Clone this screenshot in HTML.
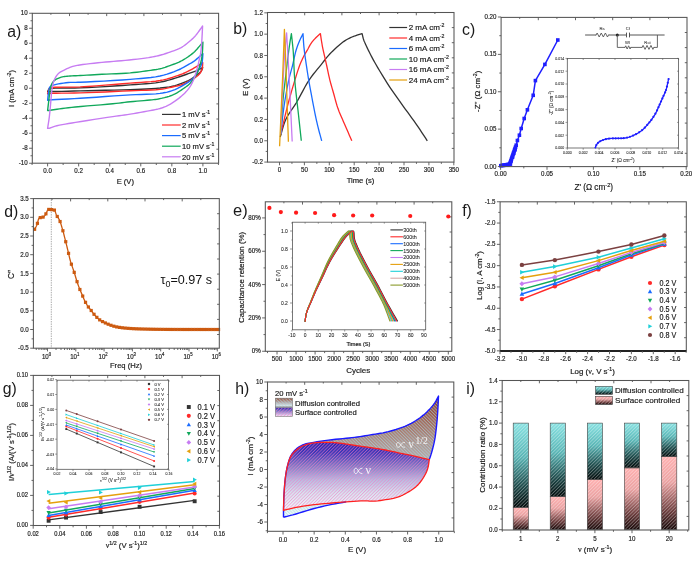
<!DOCTYPE html>
<html><head><meta charset="utf-8"><style>
html,body{margin:0;padding:0;background:#fff;}
svg{display:block;font-family:"Liberation Sans",sans-serif;will-change:transform;}
</style></head><body>
<svg width="700" height="562" viewBox="0 0 700 562">
<rect width="700" height="562" fill="#fff"/>
<path d="M47.6,91.62 L47.84,91.17 L48.06,90.68 L48.28,90.2 L48.53,89.74 L48.81,89.33 L49.15,89 L49.54,88.76 L49.96,88.59 L50.41,88.48 L50.93,88.4 L51.54,88.33 L52.26,88.25 L55.2,88.05 L59.2,87.98 L63.98,87.99 L69.26,88.02 L74.76,88 L80.21,87.88 L87.86,87.55 L96.29,87.11 L105.12,86.59 L113.97,86.02 L122.46,85.44 L130.22,84.88 L135.73,84.49 L141.03,84.15 L146.12,83.79 L150.98,83.38 L155.62,82.86 L160.04,82.17 L163.34,81.49 L166.53,80.7 L169.58,79.85 L172.47,78.96 L175.2,78.1 L177.74,77.3 L179.42,76.77 L180.98,76.25 L182.45,75.75 L183.87,75.24 L185.29,74.74 L186.75,74.22 L188.24,73.71 L189.75,73.21 L191.25,72.7 L192.74,72.18 L194.19,71.64 L195.6,71.08 L196.85,70.53 L198.05,69.96 L199.23,69.38 L200.4,68.79 L201.57,68.21 L202.74,67.62 L202.74,67.62 L202.46,68.29 L202.2,68.96 L201.94,69.64 L201.66,70.3 L201.31,70.96 L200.88,71.6 L200.2,72.38 L199.39,73.14 L198.49,73.89 L197.54,74.62 L196.56,75.33 L195.6,76.03 L194.62,76.73 L193.61,77.43 L192.59,78.11 L191.54,78.77 L190.48,79.4 L189.39,80 L188.25,80.58 L187.1,81.11 L185.92,81.63 L184.72,82.12 L183.5,82.6 L182.25,83.08 L180.86,83.6 L179.45,84.13 L178.01,84.64 L176.53,85.13 L175,85.58 L173.39,86 L171.4,86.44 L169.36,86.82 L167.24,87.16 L165,87.47 L162.61,87.75 L160.04,88.03 L155.85,88.39 L151.26,88.7 L146.35,88.95 L141.17,89.18 L135.77,89.39 L130.22,89.6 L122.49,89.87 L114.07,90.1 L105.28,90.31 L96.48,90.51 L88.01,90.69 L80.21,90.88 L74.15,91.03 L67.85,91.19 L61.76,91.34 L56.31,91.47 L51.96,91.57 L49.15,91.62 L48.78,91.63 L48.49,91.63 L48.25,91.63 L48.04,91.63 L47.84,91.63 L47.6,91.62 Z" fill="none" stroke="#333333" stroke-width="1.4" stroke-linejoin="round"/>
<path d="M47.6,93.88 L47.75,93.3 L47.9,92.72 L48.05,92.14 L48.21,91.57 L48.36,91.02 L48.53,90.5 L48.66,90.08 L48.77,89.66 L48.89,89.25 L49.03,88.87 L49.22,88.53 L49.46,88.25 L49.79,88.02 L50.15,87.86 L50.56,87.75 L51.03,87.66 L51.6,87.59 L52.26,87.5 L55.14,87.27 L59.12,87.18 L63.91,87.16 L69.22,87.15 L74.75,87.08 L80.21,86.9 L87.86,86.46 L96.29,85.86 L105.12,85.17 L113.97,84.43 L122.46,83.72 L130.22,83.08 L135.73,82.68 L141.03,82.36 L146.11,82.04 L150.98,81.67 L155.63,81.19 L160.04,80.53 L163.35,79.85 L166.53,79.07 L169.58,78.21 L172.48,77.32 L175.2,76.43 L177.74,75.58 L179.43,74.99 L181,74.42 L182.47,73.85 L183.89,73.26 L185.3,72.64 L186.75,71.97 L188.26,71.23 L189.76,70.44 L191.26,69.61 L192.74,68.77 L194.19,67.93 L195.6,67.1 L196.84,66.36 L198.05,65.62 L199.23,64.89 L200.4,64.15 L201.56,63.41 L202.74,62.67 L202.74,62.67 L202.66,63.7 L202.61,64.74 L202.55,65.78 L202.47,66.81 L202.33,67.8 L202.12,68.75 L201.87,69.58 L201.58,70.37 L201.24,71.15 L200.86,71.9 L200.43,72.62 L199.95,73.33 L199.36,74.05 L198.7,74.75 L197.98,75.42 L197.22,76.06 L196.42,76.69 L195.6,77.3 L194.66,77.95 L193.66,78.57 L192.62,79.16 L191.55,79.74 L190.47,80.32 L189.39,80.9 L188.25,81.53 L187.09,82.17 L185.92,82.8 L184.73,83.41 L183.51,83.99 L182.25,84.5 L180.86,84.97 L179.46,85.38 L178.02,85.73 L176.53,86.07 L174.99,86.4 L173.39,86.75 L171.39,87.21 L169.35,87.68 L167.23,88.15 L165,88.6 L162.61,89.02 L160.04,89.38 L155.85,89.78 L151.27,90.06 L146.36,90.26 L141.17,90.42 L135.77,90.59 L130.22,90.8 L122.49,91.15 L114.06,91.53 L105.28,91.93 L96.48,92.3 L88.01,92.63 L80.21,92.9 L74.15,93.03 L67.85,93.11 L61.76,93.15 L56.31,93.21 L51.96,93.31 L49.15,93.5 L48.78,93.56 L48.48,93.62 L48.25,93.68 L48.04,93.75 L47.84,93.81 L47.6,93.88 Z" fill="none" stroke="#ff2a2a" stroke-width="1.4" stroke-linejoin="round"/>
<path d="M47.6,100.25 L47.75,98.99 L47.89,97.71 L48.02,96.43 L48.17,95.17 L48.34,93.94 L48.53,92.75 L48.69,91.7 L48.82,90.63 L48.97,89.58 L49.18,88.6 L49.48,87.72 L49.93,86.97 L50.45,86.45 L51.06,86.04 L51.74,85.71 L52.51,85.43 L53.36,85.16 L54.28,84.88 L56.16,84.37 L58.41,83.9 L60.89,83.48 L63.48,83.11 L66.03,82.8 L68.41,82.55 L70.34,82.41 L72.11,82.35 L73.86,82.34 L75.71,82.34 L77.79,82.32 L80.21,82.25 L86.7,81.96 L94.8,81.56 L103.86,81.08 L113.23,80.53 L122.23,79.94 L130.22,79.33 L135.72,78.89 L140.99,78.48 L146.05,78.05 L150.91,77.53 L155.57,76.88 L160.04,76.03 L163.62,75.14 L167.11,74.11 L170.47,72.99 L173.66,71.81 L176.61,70.63 L179.29,69.5 L180.95,68.74 L182.47,67.98 L183.87,67.23 L185.21,66.46 L186.52,65.7 L187.84,64.93 L189.07,64.21 L190.28,63.5 L191.48,62.79 L192.64,62.06 L193.76,61.33 L194.82,60.58 L195.74,59.87 L196.61,59.14 L197.46,58.4 L198.27,57.67 L199.05,56.96 L199.79,56.3 L200.35,55.81 L200.88,55.35 L201.39,54.91 L201.89,54.48 L202.39,54.04 L202.9,53.6 L202.9,53.6 L202.83,54.64 L202.76,55.7 L202.69,56.77 L202.62,57.81 L202.53,58.81 L202.43,59.75 L202.36,60.43 L202.3,61.06 L202.23,61.66 L202.14,62.26 L202.01,62.89 L201.81,63.58 L201.41,64.65 L200.89,65.82 L200.28,67.03 L199.61,68.27 L198.92,69.5 L198.24,70.7 L197.55,71.92 L196.83,73.17 L196.1,74.42 L195.33,75.62 L194.55,76.74 L193.74,77.75 L193.06,78.48 L192.38,79.12 L191.69,79.71 L190.96,80.28 L190.2,80.84 L189.39,81.43 L188.33,82.16 L187.19,82.89 L186,83.62 L184.77,84.35 L183.51,85.07 L182.25,85.78 L180.86,86.55 L179.46,87.33 L178.03,88.1 L176.55,88.85 L175.01,89.56 L173.39,90.2 L171.41,90.88 L169.38,91.5 L167.26,92.06 L165.02,92.56 L162.62,93.02 L160.04,93.42 L155.85,93.88 L151.28,94.15 L146.36,94.32 L141.17,94.44 L135.77,94.6 L130.22,94.85 L122.49,95.34 L114.06,95.92 L105.28,96.55 L96.48,97.19 L88.01,97.79 L80.21,98.3 L74.15,98.65 L67.86,98.98 L61.76,99.29 L56.31,99.57 L51.96,99.82 L49.15,100.03 L48.78,100.07 L48.49,100.1 L48.25,100.14 L48.04,100.18 L47.84,100.21 L47.6,100.25 Z" fill="none" stroke="#1a6cff" stroke-width="1.4" stroke-linejoin="round"/>
<path d="M47.6,110.53 L47.75,109.24 L47.9,107.96 L48.06,106.68 L48.21,105.4 L48.37,104.08 L48.53,102.72 L48.72,101.12 L48.91,99.44 L49.11,97.73 L49.31,96.03 L49.53,94.35 L49.77,92.75 L49.98,91.36 L50.18,89.98 L50.38,88.62 L50.62,87.31 L50.93,86.08 L51.33,84.95 L51.7,84.11 L52.11,83.32 L52.55,82.58 L53.05,81.88 L53.62,81.23 L54.28,80.6 L55.22,79.88 L56.31,79.21 L57.51,78.6 L58.77,78.05 L60.03,77.56 L61.27,77.15 L62.41,76.84 L63.55,76.62 L64.7,76.45 L65.88,76.33 L67.11,76.22 L68.41,76.1 L70.16,75.95 L71.99,75.85 L73.9,75.76 L75.9,75.69 L78,75.6 L80.21,75.5 L83.42,75.33 L86.87,75.13 L90.49,74.93 L94.25,74.72 L98.09,74.51 L101.96,74.3 L106.52,74.08 L111.33,73.89 L116.24,73.69 L121.12,73.46 L125.82,73.2 L130.22,72.88 L133.56,72.56 L136.79,72.2 L139.9,71.82 L142.9,71.42 L145.79,71.02 L148.55,70.62 L150.63,70.33 L152.61,70.06 L154.52,69.79 L156.38,69.49 L158.21,69.15 L160.04,68.75 L161.74,68.31 L163.41,67.83 L165.05,67.32 L166.68,66.77 L168.32,66.2 L169.98,65.6 L171.78,64.94 L173.62,64.26 L175.47,63.54 L177.29,62.79 L179.05,62.03 L180.69,61.25 L181.99,60.58 L183.22,59.9 L184.4,59.21 L185.55,58.5 L186.69,57.76 L187.84,56.98 L189.04,56.13 L190.24,55.25 L191.43,54.34 L192.6,53.4 L193.73,52.43 L194.82,51.42 L195.88,50.37 L196.92,49.23 L197.93,48.06 L198.89,46.91 L199.78,45.84 L200.57,44.9 L201.02,44.37 L201.43,43.89 L201.8,43.44 L202.16,43.01 L202.52,42.57 L202.9,42.12 L202.9,42.12 L202.81,44.1 L202.72,46.13 L202.64,48.17 L202.54,50.14 L202.43,52.02 L202.28,53.75 L202.15,54.91 L202.02,55.99 L201.87,57.02 L201.72,58.01 L201.54,58.99 L201.35,59.98 L201.15,60.88 L200.94,61.76 L200.72,62.62 L200.48,63.49 L200.23,64.38 L199.95,65.3 L199.6,66.45 L199.24,67.66 L198.85,68.89 L198.43,70.12 L197.97,71.34 L197.46,72.5 L196.93,73.59 L196.35,74.66 L195.73,75.71 L195.08,76.74 L194.42,77.74 L193.74,78.72 L193.07,79.65 L192.41,80.55 L191.72,81.43 L191,82.29 L190.22,83.14 L189.39,83.97 L188.34,84.92 L187.22,85.84 L186.03,86.74 L184.79,87.63 L183.52,88.51 L182.25,89.38 L180.87,90.31 L179.48,91.25 L178.05,92.18 L176.57,93.07 L175.02,93.92 L173.39,94.7 L171.34,95.53 L169.12,96.3 L166.81,97 L164.48,97.63 L162.2,98.19 L160.04,98.67 L158.35,99.01 L156.76,99.27 L155.2,99.47 L153.62,99.65 L151.94,99.83 L150.1,100.03 L147.17,100.32 L143.93,100.6 L140.5,100.87 L137,101.15 L133.53,101.44 L130.22,101.75 L127.33,102.06 L124.58,102.39 L121.86,102.73 L119.07,103.07 L116.1,103.42 L112.83,103.78 L107.24,104.3 L100.86,104.83 L94.09,105.37 L87.31,105.91 L80.9,106.46 L75.24,107 L71.73,107.38 L68.39,107.77 L65.24,108.15 L62.27,108.53 L59.5,108.9 L56.92,109.25 L55.2,109.5 L53.49,109.76 L51.87,110.02 L50.43,110.25 L49.23,110.43 L48.38,110.53 L48.2,110.54 L48.06,110.54 L47.94,110.54 L47.83,110.53 L47.72,110.53 L47.6,110.53 Z" fill="none" stroke="#10a85a" stroke-width="1.4" stroke-linejoin="round"/>
<path d="M47.6,128.38 L47.89,126.49 L48.19,124.62 L48.48,122.76 L48.77,120.87 L49.05,118.95 L49.31,116.97 L49.57,114.69 L49.81,112.35 L50.04,109.95 L50.26,107.54 L50.48,105.12 L50.71,102.72 L50.92,100.31 L51.11,97.84 L51.31,95.36 L51.52,92.95 L51.78,90.63 L52.1,88.47 L52.38,86.9 L52.67,85.39 L52.98,83.95 L53.34,82.56 L53.77,81.22 L54.28,79.92 L54.83,78.73 L55.45,77.56 L56.12,76.43 L56.85,75.36 L57.63,74.37 L58.47,73.47 L59.31,72.75 L60.2,72.13 L61.15,71.57 L62.13,71.06 L63.16,70.55 L64.22,70.03 L65.54,69.37 L66.94,68.71 L68.41,68.06 L69.89,67.45 L71.35,66.9 L72.76,66.42 L73.9,66.09 L74.97,65.83 L76.03,65.61 L77.14,65.42 L78.36,65.22 L79.75,65 L82.71,64.56 L86.2,64.11 L90.03,63.66 L94.04,63.21 L98.08,62.78 L101.96,62.38 L105.8,62.01 L109.68,61.68 L113.57,61.36 L117.47,61.05 L121.36,60.72 L125.25,60.35 L129.23,59.95 L133.32,59.53 L137.42,59.09 L141.39,58.63 L145.14,58.15 L148.55,57.65 L150.71,57.28 L152.72,56.92 L154.61,56.54 L156.43,56.14 L158.23,55.71 L160.04,55.25 L161.74,54.79 L163.41,54.3 L165.05,53.78 L166.68,53.25 L168.32,52.69 L169.98,52.1 L171.78,51.46 L173.63,50.81 L175.49,50.12 L177.31,49.41 L179.06,48.64 L180.69,47.83 L182,47.07 L183.24,46.28 L184.42,45.46 L185.56,44.6 L186.69,43.71 L187.84,42.8 L189.05,41.81 L190.26,40.78 L191.46,39.72 L192.64,38.64 L193.76,37.54 L194.82,36.42 L195.75,35.36 L196.65,34.26 L197.5,33.14 L198.3,32.04 L199.07,30.97 L199.79,29.98 L200.31,29.26 L200.79,28.58 L201.25,27.93 L201.69,27.29 L202.13,26.65 L202.59,26 L202.59,26 L202.44,28.92 L202.3,31.91 L202.16,34.89 L202.01,37.82 L201.84,40.62 L201.66,43.25 L201.5,45.18 L201.35,47.05 L201.18,48.84 L201,50.55 L200.8,52.19 L200.57,53.75 L200.36,54.9 L200.13,55.99 L199.88,57.03 L199.63,58.04 L199.39,59.02 L199.17,59.97 L199.01,60.75 L198.86,61.48 L198.72,62.19 L198.58,62.9 L198.42,63.63 L198.24,64.4 L198,65.38 L197.73,66.41 L197.45,67.46 L197.15,68.53 L196.84,69.62 L196.53,70.7 L196.2,71.88 L195.85,73.09 L195.5,74.31 L195.13,75.53 L194.75,76.7 L194.36,77.83 L194,78.76 L193.63,79.66 L193.25,80.54 L192.85,81.4 L192.45,82.24 L192.03,83.08 L191.63,83.85 L191.22,84.61 L190.81,85.35 L190.37,86.09 L189.9,86.83 L189.39,87.58 L188.75,88.45 L188.06,89.34 L187.33,90.23 L186.56,91.12 L185.74,92.01 L184.89,92.9 L183.83,93.94 L182.7,95 L181.52,96.06 L180.29,97.1 L179.03,98.13 L177.74,99.12 L176.35,100.16 L174.91,101.19 L173.43,102.19 L171.92,103.16 L170.41,104.07 L168.89,104.9 L167.45,105.62 L166,106.29 L164.54,106.91 L163.06,107.48 L161.56,108.01 L160.04,108.5 L158.47,108.94 L156.91,109.31 L155.34,109.63 L153.7,109.94 L151.96,110.25 L150.1,110.6 L147.17,111.16 L143.93,111.76 L140.51,112.38 L137.01,112.99 L133.54,113.58 L130.22,114.12 L127.33,114.57 L124.58,114.96 L121.86,115.34 L119.07,115.72 L116.09,116.13 L112.83,116.6 L107.28,117.43 L100.96,118.38 L94.26,119.4 L87.55,120.44 L81.18,121.45 L75.55,122.38 L71.98,122.97 L68.56,123.53 L65.32,124.07 L62.28,124.61 L59.47,125.17 L56.92,125.75 L55.35,126.18 L53.85,126.67 L52.45,127.16 L51.18,127.61 L50.07,127.98 L49.15,128.22 L48.83,128.28 L48.55,128.32 L48.31,128.34 L48.08,128.35 L47.85,128.36 L47.6,128.38 Z" fill="none" stroke="#c77cf2" stroke-width="1.4" stroke-linejoin="round"/>
<rect x="32.3" y="13.3" width="186.3" height="149.9" fill="none" stroke="#555555" stroke-width="1.05"/>
<line x1="50.9" y1="13.3" x2="50.9" y2="14.8" stroke="#555555" stroke-width="0.9" />
<line x1="69.5" y1="13.3" x2="69.5" y2="16.1" stroke="#555555" stroke-width="0.9" />
<line x1="88.1" y1="13.3" x2="88.1" y2="14.8" stroke="#555555" stroke-width="0.9" />
<line x1="106.7" y1="13.3" x2="106.7" y2="16.1" stroke="#555555" stroke-width="0.9" />
<line x1="125.3" y1="13.3" x2="125.3" y2="14.8" stroke="#555555" stroke-width="0.9" />
<line x1="143.9" y1="13.3" x2="143.9" y2="16.1" stroke="#555555" stroke-width="0.9" />
<line x1="162.5" y1="13.3" x2="162.5" y2="14.8" stroke="#555555" stroke-width="0.9" />
<line x1="181.1" y1="13.3" x2="181.1" y2="16.1" stroke="#555555" stroke-width="0.9" />
<line x1="199.7" y1="13.3" x2="199.7" y2="14.8" stroke="#555555" stroke-width="0.9" />
<line x1="216.4" y1="28.4" x2="218.6" y2="28.4" stroke="#555555" stroke-width="0.9" />
<line x1="216.4" y1="43.5" x2="218.6" y2="43.5" stroke="#555555" stroke-width="0.9" />
<line x1="216.4" y1="58.6" x2="218.6" y2="58.6" stroke="#555555" stroke-width="0.9" />
<line x1="216.4" y1="73.7" x2="218.6" y2="73.7" stroke="#555555" stroke-width="0.9" />
<line x1="216.4" y1="88.8" x2="218.6" y2="88.8" stroke="#555555" stroke-width="0.9" />
<line x1="216.4" y1="103.9" x2="218.6" y2="103.9" stroke="#555555" stroke-width="0.9" />
<line x1="216.4" y1="119" x2="218.6" y2="119" stroke="#555555" stroke-width="0.9" />
<line x1="216.4" y1="134.1" x2="218.6" y2="134.1" stroke="#555555" stroke-width="0.9" />
<line x1="216.4" y1="149.2" x2="218.6" y2="149.2" stroke="#555555" stroke-width="0.9" />
<line x1="29.1" y1="163.25" x2="32.3" y2="163.25" stroke="#555555" stroke-width="0.9" />
<line x1="29.1" y1="148.25" x2="32.3" y2="148.25" stroke="#555555" stroke-width="0.9" />
<line x1="29.1" y1="133.25" x2="32.3" y2="133.25" stroke="#555555" stroke-width="0.9" />
<line x1="29.1" y1="118.25" x2="32.3" y2="118.25" stroke="#555555" stroke-width="0.9" />
<line x1="29.1" y1="103.25" x2="32.3" y2="103.25" stroke="#555555" stroke-width="0.9" />
<line x1="29.1" y1="88.25" x2="32.3" y2="88.25" stroke="#555555" stroke-width="0.9" />
<line x1="29.1" y1="73.25" x2="32.3" y2="73.25" stroke="#555555" stroke-width="0.9" />
<line x1="29.1" y1="58.25" x2="32.3" y2="58.25" stroke="#555555" stroke-width="0.9" />
<line x1="29.1" y1="43.25" x2="32.3" y2="43.25" stroke="#555555" stroke-width="0.9" />
<line x1="29.1" y1="28.25" x2="32.3" y2="28.25" stroke="#555555" stroke-width="0.9" />
<line x1="29.1" y1="13.25" x2="32.3" y2="13.25" stroke="#555555" stroke-width="0.9" />
<line x1="30.5" y1="155.75" x2="32.3" y2="155.75" stroke="#555555" stroke-width="0.9" />
<line x1="30.5" y1="140.75" x2="32.3" y2="140.75" stroke="#555555" stroke-width="0.9" />
<line x1="30.5" y1="125.75" x2="32.3" y2="125.75" stroke="#555555" stroke-width="0.9" />
<line x1="30.5" y1="110.75" x2="32.3" y2="110.75" stroke="#555555" stroke-width="0.9" />
<line x1="30.5" y1="95.75" x2="32.3" y2="95.75" stroke="#555555" stroke-width="0.9" />
<line x1="30.5" y1="80.75" x2="32.3" y2="80.75" stroke="#555555" stroke-width="0.9" />
<line x1="30.5" y1="65.75" x2="32.3" y2="65.75" stroke="#555555" stroke-width="0.9" />
<line x1="30.5" y1="50.75" x2="32.3" y2="50.75" stroke="#555555" stroke-width="0.9" />
<line x1="30.5" y1="35.75" x2="32.3" y2="35.75" stroke="#555555" stroke-width="0.9" />
<line x1="30.5" y1="20.75" x2="32.3" y2="20.75" stroke="#555555" stroke-width="0.9" />
<line x1="47.6" y1="163.2" x2="47.6" y2="166.4" stroke="#555555" stroke-width="0.9" />
<line x1="78.66" y1="163.2" x2="78.66" y2="166.4" stroke="#555555" stroke-width="0.9" />
<line x1="109.72" y1="163.2" x2="109.72" y2="166.4" stroke="#555555" stroke-width="0.9" />
<line x1="140.78" y1="163.2" x2="140.78" y2="166.4" stroke="#555555" stroke-width="0.9" />
<line x1="171.84" y1="163.2" x2="171.84" y2="166.4" stroke="#555555" stroke-width="0.9" />
<line x1="202.9" y1="163.2" x2="202.9" y2="166.4" stroke="#555555" stroke-width="0.9" />
<line x1="32.07" y1="163.2" x2="32.07" y2="165" stroke="#555555" stroke-width="0.9" />
<line x1="63.13" y1="163.2" x2="63.13" y2="165" stroke="#555555" stroke-width="0.9" />
<line x1="94.19" y1="163.2" x2="94.19" y2="165" stroke="#555555" stroke-width="0.9" />
<line x1="125.25" y1="163.2" x2="125.25" y2="165" stroke="#555555" stroke-width="0.9" />
<line x1="156.31" y1="163.2" x2="156.31" y2="165" stroke="#555555" stroke-width="0.9" />
<line x1="187.37" y1="163.2" x2="187.37" y2="165" stroke="#555555" stroke-width="0.9" />
<line x1="218.43" y1="163.2" x2="218.43" y2="165" stroke="#555555" stroke-width="0.9" />
<text style="stroke:#1a1a1a;stroke-width:0.18px" transform="translate(27.7 165.25) scale(0.85 1)" font-size="7.3" text-anchor="end" fill="#1a1a1a" >-10</text>
<text style="stroke:#1a1a1a;stroke-width:0.18px" transform="translate(27.7 150.25) scale(0.85 1)" font-size="7.3" text-anchor="end" fill="#1a1a1a" >-8</text>
<text style="stroke:#1a1a1a;stroke-width:0.18px" transform="translate(27.7 135.25) scale(0.85 1)" font-size="7.3" text-anchor="end" fill="#1a1a1a" >-6</text>
<text style="stroke:#1a1a1a;stroke-width:0.18px" transform="translate(27.7 120.25) scale(0.85 1)" font-size="7.3" text-anchor="end" fill="#1a1a1a" >-4</text>
<text style="stroke:#1a1a1a;stroke-width:0.18px" transform="translate(27.7 105.25) scale(0.85 1)" font-size="7.3" text-anchor="end" fill="#1a1a1a" >-2</text>
<text style="stroke:#1a1a1a;stroke-width:0.18px" transform="translate(27.7 90.25) scale(0.85 1)" font-size="7.3" text-anchor="end" fill="#1a1a1a" >0</text>
<text style="stroke:#1a1a1a;stroke-width:0.18px" transform="translate(27.7 75.25) scale(0.85 1)" font-size="7.3" text-anchor="end" fill="#1a1a1a" >2</text>
<text style="stroke:#1a1a1a;stroke-width:0.18px" transform="translate(27.7 60.25) scale(0.85 1)" font-size="7.3" text-anchor="end" fill="#1a1a1a" >4</text>
<text style="stroke:#1a1a1a;stroke-width:0.18px" transform="translate(27.7 45.25) scale(0.85 1)" font-size="7.3" text-anchor="end" fill="#1a1a1a" >6</text>
<text style="stroke:#1a1a1a;stroke-width:0.18px" transform="translate(27.7 30.25) scale(0.85 1)" font-size="7.3" text-anchor="end" fill="#1a1a1a" >8</text>
<text style="stroke:#1a1a1a;stroke-width:0.18px" transform="translate(27.7 15.25) scale(0.85 1)" font-size="7.3" text-anchor="end" fill="#1a1a1a" >10</text>
<text style="stroke:#1a1a1a;stroke-width:0.18px" transform="translate(47.6 172.6) scale(0.85 1)" font-size="7.3" text-anchor="middle" fill="#1a1a1a" >0.0</text>
<text style="stroke:#1a1a1a;stroke-width:0.18px" transform="translate(78.66 172.6) scale(0.85 1)" font-size="7.3" text-anchor="middle" fill="#1a1a1a" >0.2</text>
<text style="stroke:#1a1a1a;stroke-width:0.18px" transform="translate(109.72 172.6) scale(0.85 1)" font-size="7.3" text-anchor="middle" fill="#1a1a1a" >0.4</text>
<text style="stroke:#1a1a1a;stroke-width:0.18px" transform="translate(140.78 172.6) scale(0.85 1)" font-size="7.3" text-anchor="middle" fill="#1a1a1a" >0.6</text>
<text style="stroke:#1a1a1a;stroke-width:0.18px" transform="translate(171.84 172.6) scale(0.85 1)" font-size="7.3" text-anchor="middle" fill="#1a1a1a" >0.8</text>
<text style="stroke:#1a1a1a;stroke-width:0.18px" transform="translate(202.9 172.6) scale(0.85 1)" font-size="7.3" text-anchor="middle" fill="#1a1a1a" >1.0</text>
<text style="stroke:#1a1a1a;stroke-width:0.18px" x="125.3" y="183.6" font-size="7.6" text-anchor="middle" fill="#1a1a1a" >E (V)</text>
<text style="stroke:#1a1a1a;stroke-width:0.18px" x="13.8" y="88.5" font-size="7.6" text-anchor="middle" fill="#1a1a1a" transform="rotate(-90 13.8 88.5)">I (mA cm<tspan dy="-2.5" font-size="5.2">-2</tspan><tspan dy="2.5">)</tspan></text>
<text style="stroke:#1a1a1a;stroke-width:0px" x="7.3" y="36.6" font-size="15.8" text-anchor="start" fill="#1a1a1a" >a)</text>
<line x1="162" y1="114.4" x2="180.7" y2="114.4" stroke="#333333" stroke-width="1.2" />
<text style="stroke:#1a1a1a;stroke-width:0.18px" x="182" y="117.2" font-size="7.6" fill="#1a1a1a">1 mV s<tspan dy="-3" font-size="5.2">-1</tspan></text>
<line x1="162" y1="125" x2="180.7" y2="125" stroke="#ff2a2a" stroke-width="1.2" />
<text style="stroke:#1a1a1a;stroke-width:0.18px" x="182" y="127.8" font-size="7.6" fill="#1a1a1a">2 mV s<tspan dy="-3" font-size="5.2">-1</tspan></text>
<line x1="162" y1="135.6" x2="180.7" y2="135.6" stroke="#1a6cff" stroke-width="1.2" />
<text style="stroke:#1a1a1a;stroke-width:0.18px" x="182" y="138.4" font-size="7.6" fill="#1a1a1a">5 mV s<tspan dy="-3" font-size="5.2">-1</tspan></text>
<line x1="162" y1="146.2" x2="180.7" y2="146.2" stroke="#10a85a" stroke-width="1.2" />
<text style="stroke:#1a1a1a;stroke-width:0.18px" x="182" y="149" font-size="7.6" fill="#1a1a1a">10 mV s<tspan dy="-3" font-size="5.2">-1</tspan></text>
<line x1="162" y1="156.8" x2="180.7" y2="156.8" stroke="#c77cf2" stroke-width="1.2" />
<text style="stroke:#1a1a1a;stroke-width:0.18px" x="182" y="159.6" font-size="7.6" fill="#1a1a1a">20 mV s<tspan dy="-3" font-size="5.2">-1</tspan></text>
<path d="M280.2,137 L281.12,133.98 L281.97,130.93 L282.82,127.88 L283.74,124.86 L284.78,121.89 L286,119 L287.45,116.22 L289.07,113.57 L290.82,110.98 L292.65,108.37 L294.49,105.66 L296.3,102.8 L298.41,99.12 L300.56,95.17 L302.74,91.1 L304.94,87.05 L307.16,83.17 L309.4,79.6 L311.32,76.86 L313.28,74.26 L315.25,71.79 L317.21,69.4 L319.14,67.08 L321,64.8 L322.53,62.86 L323.97,61 L325.39,59.18 L326.83,57.39 L328.35,55.6 L330,53.8 L332.08,51.67 L334.35,49.46 L336.72,47.26 L339.1,45.15 L341.43,43.24 L343.6,41.6 L345.06,40.61 L346.45,39.75 L347.8,38.99 L349.16,38.3 L350.55,37.65 L352,37 L353.61,36.35 L355.27,35.76 L356.97,35.21 L358.69,34.68 L360.4,34.15 L362.1,33.6 L362.1,33.6 L362.34,34.59 L362.57,35.57 L362.8,36.56 L363.04,37.55 L363.3,38.53 L363.6,39.5 L363.94,40.47 L364.3,41.41 L364.69,42.36 L365.11,43.31 L365.54,44.28 L366,45.3 L366.59,46.58 L367.21,47.9 L367.87,49.25 L368.55,50.64 L369.27,52.06 L370,53.5 L370.86,55.18 L371.73,56.86 L372.64,58.58 L373.6,60.38 L374.65,62.27 L375.8,64.3 L377.73,67.62 L379.91,71.29 L382.27,75.18 L384.72,79.16 L387.19,83.08 L389.6,86.8 L391.85,90.17 L394.14,93.48 L396.44,96.74 L398.74,99.95 L401.03,103.14 L403.3,106.3 L405.45,109.28 L407.6,112.21 L409.74,115.12 L411.86,118.01 L413.95,120.9 L416,123.8 L417.94,126.63 L419.84,129.47 L421.71,132.3 L423.57,135.13 L425.43,137.97 L427.3,140.8" fill="none" stroke="#333333" stroke-width="1.3" stroke-linejoin="round"/>
<path d="M280.7,134 L281.12,132.27 L281.54,130.58 L281.95,128.9 L282.38,127.17 L282.82,125.35 L283.3,123.4 L283.99,120.53 L284.71,117.45 L285.47,114.2 L286.27,110.84 L287.12,107.43 L288,104 L289.09,99.98 L290.27,95.74 L291.51,91.43 L292.76,87.17 L293.97,83.12 L295.1,79.4 L295.88,76.84 L296.63,74.4 L297.35,72.08 L298.08,69.86 L298.82,67.7 L299.6,65.6 L300.3,63.83 L301.03,62.1 L301.77,60.43 L302.51,58.82 L303.26,57.27 L304,55.8 L304.6,54.67 L305.2,53.62 L305.81,52.6 L306.41,51.61 L307.01,50.62 L307.6,49.6 L308.18,48.54 L308.73,47.47 L309.29,46.4 L309.86,45.34 L310.45,44.3 L311.1,43.3 L311.78,42.36 L312.5,41.44 L313.25,40.55 L314.03,39.68 L314.81,38.83 L315.6,38 L316.37,37.23 L317.17,36.48 L317.97,35.76 L318.78,35.04 L319.59,34.33 L320.4,33.6 L320.4,33.6 L320.58,34.84 L320.76,36.08 L320.94,37.32 L321.12,38.56 L321.31,39.79 L321.5,41 L321.68,42.12 L321.86,43.18 L322.04,44.24 L322.23,45.34 L322.45,46.51 L322.7,47.8 L323.18,50.08 L323.75,52.64 L324.37,55.38 L325.03,58.22 L325.68,61.06 L326.3,63.8 L326.88,66.49 L327.45,69.19 L328.02,71.9 L328.59,74.59 L329.18,77.23 L329.8,79.8 L330.38,82.07 L330.98,84.26 L331.59,86.42 L332.22,88.57 L332.85,90.75 L333.5,93 L334.2,95.53 L334.89,98.12 L335.6,100.75 L336.34,103.38 L337.13,106.01 L338,108.6 L338.97,111.18 L340.01,113.74 L341.1,116.29 L342.23,118.84 L343.37,121.4 L344.5,124 L345.69,126.76 L346.9,129.55 L348.12,132.36 L349.35,135.17 L350.58,137.99 L351.8,140.8" fill="none" stroke="#ff2a2a" stroke-width="1.3" stroke-linejoin="round"/>
<path d="M280.7,134 L280.99,131.34 L281.28,128.7 L281.57,126.06 L281.86,123.4 L282.17,120.72 L282.5,118 L282.87,115.07 L283.25,112.12 L283.64,109.14 L284.06,106.12 L284.51,103.08 L285,100 L285.57,96.59 L286.19,93.07 L286.84,89.52 L287.52,86 L288.21,82.6 L288.9,79.4 L289.48,76.94 L290.08,74.61 L290.69,72.36 L291.3,70.14 L291.91,67.91 L292.5,65.6 L293.09,63.09 L293.65,60.49 L294.21,57.88 L294.77,55.3 L295.36,52.82 L296,50.5 L296.56,48.71 L297.14,46.99 L297.74,45.34 L298.35,43.75 L298.97,42.2 L299.6,40.7 L300.15,39.45 L300.71,38.27 L301.28,37.12 L301.86,35.98 L302.43,34.85 L303,33.7 L303,33.7 L303.15,36.02 L303.29,38.32 L303.43,40.61 L303.58,42.93 L303.77,45.32 L304,47.8 L304.36,50.93 L304.79,54.26 L305.26,57.67 L305.76,61.07 L306.24,64.35 L306.7,67.4 L307.03,69.64 L307.35,71.73 L307.67,73.74 L307.99,75.74 L308.33,77.8 L308.7,80 L309.19,82.82 L309.72,85.77 L310.28,88.8 L310.85,91.88 L311.43,94.96 L312,98 L312.57,101.04 L313.15,104.11 L313.74,107.19 L314.32,110.22 L314.91,113.17 L315.5,116 L316,118.3 L316.49,120.52 L316.98,122.68 L317.47,124.8 L317.98,126.9 L318.5,129 L319.01,131 L319.54,132.98 L320.08,134.94 L320.62,136.89 L321.16,138.84 L321.7,140.8" fill="none" stroke="#1a6cff" stroke-width="1.3" stroke-linejoin="round"/>
<path d="M280.7,134 L281.07,128.23 L281.44,122.35 L281.8,116.47 L282.18,110.7 L282.57,105.17 L283,100 L283.35,96.28 L283.72,92.79 L284.11,89.44 L284.5,86.15 L284.9,82.83 L285.3,79.4 L285.74,75.61 L286.19,71.69 L286.66,67.75 L287.12,63.87 L287.57,60.15 L288,56.7 L288.31,54.24 L288.61,51.89 L288.91,49.64 L289.2,47.47 L289.5,45.37 L289.8,43.3 L290.06,41.59 L290.33,39.95 L290.6,38.35 L290.86,36.77 L291.13,35.2 L291.4,33.6 L291.4,33.6 L291.55,34.99 L291.7,36.37 L291.85,37.75 L292,39.14 L292.15,40.55 L292.3,42 L292.47,43.59 L292.64,45.14 L292.81,46.73 L292.97,48.4 L293.14,50.2 L293.3,52.2 L293.53,55.93 L293.72,60.15 L293.9,64.74 L294.11,69.56 L294.36,74.49 L294.7,79.4 L295.22,85.23 L295.85,91.37 L296.54,97.64 L297.26,103.9 L297.96,109.98 L298.6,115.7 L299.08,120.15 L299.54,124.41 L299.98,128.54 L300.42,132.6 L300.86,136.67 L301.3,140.8" fill="none" stroke="#10a85a" stroke-width="1.3" stroke-linejoin="round"/>
<path d="M280.7,134 L281.01,126.97 L281.32,119.9 L281.64,112.83 L281.95,105.8 L282.27,98.85 L282.6,92 L282.91,85.59 L283.23,79.14 L283.55,72.76 L283.88,66.55 L284.23,60.59 L284.6,55 L284.91,50.97 L285.24,47.18 L285.58,43.55 L285.92,39.99 L286.26,36.43 L286.6,32.8 L286.6,32.8 L286.87,37.29 L287.13,41.74 L287.4,46.19 L287.67,50.68 L287.93,55.27 L288.2,60 L288.5,65.52 L288.8,71.16 L289.09,76.91 L289.39,82.8 L289.69,88.83 L290,95 L290.36,102.37 L290.72,110.01 L291.09,117.84 L291.46,125.76 L291.83,133.67 L292.2,141.5" fill="none" stroke="#c77cf2" stroke-width="1.3" stroke-linejoin="round"/>
<path d="M279.6,146.2 L279.87,140.19 L280.13,134.2 L280.4,128.21 L280.67,122.2 L280.93,116.14 L281.2,110 L281.48,103.45 L281.77,96.83 L282.06,90.14 L282.35,83.43 L282.63,76.71 L282.9,70 L283.16,63.25 L283.42,56.49 L283.66,49.72 L283.91,42.94 L284.15,36.17 L284.4,29.4 L284.4,29.4 L284.62,34.45 L284.84,39.45 L285.06,44.44 L285.28,49.5 L285.49,54.66 L285.7,60 L285.93,66.35 L286.15,72.9 L286.36,79.61 L286.57,86.4 L286.78,93.22 L287,100 L287.23,106.91 L287.46,113.87 L287.7,120.84 L287.93,127.83 L288.17,134.82 L288.4,141.8" fill="none" stroke="#e5a00d" stroke-width="1.3" stroke-linejoin="round"/>
<rect x="267.5" y="12.5" width="186.5" height="149.6" fill="none" stroke="#555555" stroke-width="1.05"/>
<line x1="286.1" y1="12.5" x2="286.1" y2="14" stroke="#555555" stroke-width="0.9" />
<line x1="304.7" y1="12.5" x2="304.7" y2="15.3" stroke="#555555" stroke-width="0.9" />
<line x1="323.3" y1="12.5" x2="323.3" y2="14" stroke="#555555" stroke-width="0.9" />
<line x1="341.9" y1="12.5" x2="341.9" y2="15.3" stroke="#555555" stroke-width="0.9" />
<line x1="360.5" y1="12.5" x2="360.5" y2="14" stroke="#555555" stroke-width="0.9" />
<line x1="379.1" y1="12.5" x2="379.1" y2="15.3" stroke="#555555" stroke-width="0.9" />
<line x1="397.7" y1="12.5" x2="397.7" y2="14" stroke="#555555" stroke-width="0.9" />
<line x1="416.3" y1="12.5" x2="416.3" y2="15.3" stroke="#555555" stroke-width="0.9" />
<line x1="434.9" y1="12.5" x2="434.9" y2="14" stroke="#555555" stroke-width="0.9" />
<line x1="451.8" y1="27.6" x2="454" y2="27.6" stroke="#555555" stroke-width="0.9" />
<line x1="451.8" y1="42.7" x2="454" y2="42.7" stroke="#555555" stroke-width="0.9" />
<line x1="451.8" y1="57.8" x2="454" y2="57.8" stroke="#555555" stroke-width="0.9" />
<line x1="451.8" y1="72.9" x2="454" y2="72.9" stroke="#555555" stroke-width="0.9" />
<line x1="451.8" y1="88" x2="454" y2="88" stroke="#555555" stroke-width="0.9" />
<line x1="451.8" y1="103.1" x2="454" y2="103.1" stroke="#555555" stroke-width="0.9" />
<line x1="451.8" y1="118.2" x2="454" y2="118.2" stroke="#555555" stroke-width="0.9" />
<line x1="451.8" y1="133.3" x2="454" y2="133.3" stroke="#555555" stroke-width="0.9" />
<line x1="451.8" y1="148.4" x2="454" y2="148.4" stroke="#555555" stroke-width="0.9" />
<line x1="264.3" y1="162.07" x2="267.5" y2="162.07" stroke="#555555" stroke-width="0.9" />
<line x1="264.3" y1="140.75" x2="267.5" y2="140.75" stroke="#555555" stroke-width="0.9" />
<line x1="264.3" y1="119.43" x2="267.5" y2="119.43" stroke="#555555" stroke-width="0.9" />
<line x1="264.3" y1="98.11" x2="267.5" y2="98.11" stroke="#555555" stroke-width="0.9" />
<line x1="264.3" y1="76.79" x2="267.5" y2="76.79" stroke="#555555" stroke-width="0.9" />
<line x1="264.3" y1="55.47" x2="267.5" y2="55.47" stroke="#555555" stroke-width="0.9" />
<line x1="264.3" y1="34.15" x2="267.5" y2="34.15" stroke="#555555" stroke-width="0.9" />
<line x1="264.3" y1="12.83" x2="267.5" y2="12.83" stroke="#555555" stroke-width="0.9" />
<line x1="265.7" y1="151.41" x2="267.5" y2="151.41" stroke="#555555" stroke-width="0.9" />
<line x1="265.7" y1="130.09" x2="267.5" y2="130.09" stroke="#555555" stroke-width="0.9" />
<line x1="265.7" y1="108.77" x2="267.5" y2="108.77" stroke="#555555" stroke-width="0.9" />
<line x1="265.7" y1="87.45" x2="267.5" y2="87.45" stroke="#555555" stroke-width="0.9" />
<line x1="265.7" y1="66.13" x2="267.5" y2="66.13" stroke="#555555" stroke-width="0.9" />
<line x1="265.7" y1="44.81" x2="267.5" y2="44.81" stroke="#555555" stroke-width="0.9" />
<line x1="265.7" y1="23.49" x2="267.5" y2="23.49" stroke="#555555" stroke-width="0.9" />
<line x1="279.5" y1="162.1" x2="279.5" y2="165.3" stroke="#555555" stroke-width="0.9" />
<line x1="304.4" y1="162.1" x2="304.4" y2="165.3" stroke="#555555" stroke-width="0.9" />
<line x1="329.3" y1="162.1" x2="329.3" y2="165.3" stroke="#555555" stroke-width="0.9" />
<line x1="354.2" y1="162.1" x2="354.2" y2="165.3" stroke="#555555" stroke-width="0.9" />
<line x1="379.1" y1="162.1" x2="379.1" y2="165.3" stroke="#555555" stroke-width="0.9" />
<line x1="404" y1="162.1" x2="404" y2="165.3" stroke="#555555" stroke-width="0.9" />
<line x1="428.9" y1="162.1" x2="428.9" y2="165.3" stroke="#555555" stroke-width="0.9" />
<line x1="453.8" y1="162.1" x2="453.8" y2="165.3" stroke="#555555" stroke-width="0.9" />
<line x1="291.95" y1="162.1" x2="291.95" y2="163.9" stroke="#555555" stroke-width="0.9" />
<line x1="316.85" y1="162.1" x2="316.85" y2="163.9" stroke="#555555" stroke-width="0.9" />
<line x1="341.75" y1="162.1" x2="341.75" y2="163.9" stroke="#555555" stroke-width="0.9" />
<line x1="366.65" y1="162.1" x2="366.65" y2="163.9" stroke="#555555" stroke-width="0.9" />
<line x1="391.55" y1="162.1" x2="391.55" y2="163.9" stroke="#555555" stroke-width="0.9" />
<line x1="416.45" y1="162.1" x2="416.45" y2="163.9" stroke="#555555" stroke-width="0.9" />
<line x1="441.35" y1="162.1" x2="441.35" y2="163.9" stroke="#555555" stroke-width="0.9" />
<text style="stroke:#1a1a1a;stroke-width:0.18px" transform="translate(262.9 164.17) scale(0.85 1)" font-size="7.3" text-anchor="end" fill="#1a1a1a" >-0.2</text>
<text style="stroke:#1a1a1a;stroke-width:0.18px" transform="translate(262.9 142.85) scale(0.85 1)" font-size="7.3" text-anchor="end" fill="#1a1a1a" >0.0</text>
<text style="stroke:#1a1a1a;stroke-width:0.18px" transform="translate(262.9 121.53) scale(0.85 1)" font-size="7.3" text-anchor="end" fill="#1a1a1a" >0.2</text>
<text style="stroke:#1a1a1a;stroke-width:0.18px" transform="translate(262.9 100.21) scale(0.85 1)" font-size="7.3" text-anchor="end" fill="#1a1a1a" >0.4</text>
<text style="stroke:#1a1a1a;stroke-width:0.18px" transform="translate(262.9 78.89) scale(0.85 1)" font-size="7.3" text-anchor="end" fill="#1a1a1a" >0.6</text>
<text style="stroke:#1a1a1a;stroke-width:0.18px" transform="translate(262.9 57.57) scale(0.85 1)" font-size="7.3" text-anchor="end" fill="#1a1a1a" >0.8</text>
<text style="stroke:#1a1a1a;stroke-width:0.18px" transform="translate(262.9 36.25) scale(0.85 1)" font-size="7.3" text-anchor="end" fill="#1a1a1a" >1.0</text>
<text style="stroke:#1a1a1a;stroke-width:0.18px" transform="translate(262.9 14.93) scale(0.85 1)" font-size="7.3" text-anchor="end" fill="#1a1a1a" >1.2</text>
<text style="stroke:#1a1a1a;stroke-width:0.18px" transform="translate(279.5 171.7) scale(0.85 1)" font-size="7.3" text-anchor="middle" fill="#1a1a1a" >0</text>
<text style="stroke:#1a1a1a;stroke-width:0.18px" transform="translate(304.4 171.7) scale(0.85 1)" font-size="7.3" text-anchor="middle" fill="#1a1a1a" >50</text>
<text style="stroke:#1a1a1a;stroke-width:0.18px" transform="translate(329.3 171.7) scale(0.85 1)" font-size="7.3" text-anchor="middle" fill="#1a1a1a" >100</text>
<text style="stroke:#1a1a1a;stroke-width:0.18px" transform="translate(354.2 171.7) scale(0.85 1)" font-size="7.3" text-anchor="middle" fill="#1a1a1a" >150</text>
<text style="stroke:#1a1a1a;stroke-width:0.18px" transform="translate(379.1 171.7) scale(0.85 1)" font-size="7.3" text-anchor="middle" fill="#1a1a1a" >200</text>
<text style="stroke:#1a1a1a;stroke-width:0.18px" transform="translate(404 171.7) scale(0.85 1)" font-size="7.3" text-anchor="middle" fill="#1a1a1a" >250</text>
<text style="stroke:#1a1a1a;stroke-width:0.18px" transform="translate(428.9 171.7) scale(0.85 1)" font-size="7.3" text-anchor="middle" fill="#1a1a1a" >300</text>
<text style="stroke:#1a1a1a;stroke-width:0.18px" transform="translate(453.8 171.7) scale(0.85 1)" font-size="7.3" text-anchor="middle" fill="#1a1a1a" >350</text>
<text style="stroke:#1a1a1a;stroke-width:0.18px" x="360.5" y="183" font-size="7.6" text-anchor="middle" fill="#1a1a1a" >Time (s)</text>
<text style="stroke:#1a1a1a;stroke-width:0.18px" x="248.1" y="87.2" font-size="7.6" text-anchor="middle" fill="#1a1a1a" transform="rotate(-90 248.1 87.2)">E (V)</text>
<text style="stroke:#1a1a1a;stroke-width:0px" x="233.3" y="34.4" font-size="15.8" text-anchor="start" fill="#1a1a1a" >b)</text>
<line x1="389.3" y1="27.5" x2="407.1" y2="27.5" stroke="#333333" stroke-width="1.2" />
<text style="stroke:#1a1a1a;stroke-width:0.18px" x="408.7" y="30.3" font-size="8.0" fill="#1a1a1a">2 mA cm<tspan dy="-3" font-size="5.2">-2</tspan></text>
<line x1="389.3" y1="38" x2="407.1" y2="38" stroke="#ff2a2a" stroke-width="1.2" />
<text style="stroke:#1a1a1a;stroke-width:0.18px" x="408.7" y="40.8" font-size="8.0" fill="#1a1a1a">4 mA cm<tspan dy="-3" font-size="5.2">-2</tspan></text>
<line x1="389.3" y1="48.5" x2="407.1" y2="48.5" stroke="#1a6cff" stroke-width="1.2" />
<text style="stroke:#1a1a1a;stroke-width:0.18px" x="408.7" y="51.3" font-size="8.0" fill="#1a1a1a">6 mA cm<tspan dy="-3" font-size="5.2">-2</tspan></text>
<line x1="389.3" y1="59" x2="407.1" y2="59" stroke="#10a85a" stroke-width="1.2" />
<text style="stroke:#1a1a1a;stroke-width:0.18px" x="408.7" y="61.8" font-size="8.0" fill="#1a1a1a">10 mA cm<tspan dy="-3" font-size="5.2">-2</tspan></text>
<line x1="389.3" y1="69.5" x2="407.1" y2="69.5" stroke="#c77cf2" stroke-width="1.2" />
<text style="stroke:#1a1a1a;stroke-width:0.18px" x="408.7" y="72.3" font-size="8.0" fill="#1a1a1a">16 mA cm<tspan dy="-3" font-size="5.2">-2</tspan></text>
<line x1="389.3" y1="80" x2="407.1" y2="80" stroke="#e5a00d" stroke-width="1.2" />
<text style="stroke:#1a1a1a;stroke-width:0.18px" x="408.7" y="82.8" font-size="8.0" fill="#1a1a1a">24 mA cm<tspan dy="-3" font-size="5.2">-2</tspan></text>
<polyline points="557.8,40 544.9,64.4 535.4,80.6 533.2,95.3 527.4,109.8 524.2,118.5 521.2,128.5 519.4,135.2 517.4,140.5 516.2,145.2 515,149.7 513.7,153.4 512.5,157.2 511.2,160.9 510,163.4 507.5,164.7 503.7,165.4 500.5,165.9" fill="none" stroke="#1f1fff" stroke-width="1.5" stroke-linejoin="round" stroke-linecap="round" />
<rect x="556" y="38.2" width="3.6" height="3.6" fill="#1f1fff"/>
<rect x="543.1" y="62.6" width="3.6" height="3.6" fill="#1f1fff"/>
<rect x="533.6" y="78.8" width="3.6" height="3.6" fill="#1f1fff"/>
<rect x="531.4" y="93.5" width="3.6" height="3.6" fill="#1f1fff"/>
<rect x="525.6" y="108" width="3.6" height="3.6" fill="#1f1fff"/>
<rect x="522.4" y="116.7" width="3.6" height="3.6" fill="#1f1fff"/>
<rect x="519.4" y="126.7" width="3.6" height="3.6" fill="#1f1fff"/>
<rect x="517.6" y="133.4" width="3.6" height="3.6" fill="#1f1fff"/>
<rect x="515.6" y="138.7" width="3.6" height="3.6" fill="#1f1fff"/>
<rect x="514.4" y="143.4" width="3.6" height="3.6" fill="#1f1fff"/>
<rect x="513.2" y="147.9" width="3.6" height="3.6" fill="#1f1fff"/>
<rect x="511.9" y="151.6" width="3.6" height="3.6" fill="#1f1fff"/>
<rect x="510.7" y="155.4" width="3.6" height="3.6" fill="#1f1fff"/>
<rect x="509.4" y="159.1" width="3.6" height="3.6" fill="#1f1fff"/>
<rect x="508.2" y="161.6" width="3.6" height="3.6" fill="#1f1fff"/>
<rect x="505.7" y="162.9" width="3.6" height="3.6" fill="#1f1fff"/>
<rect x="501.9" y="163.6" width="3.6" height="3.6" fill="#1f1fff"/>
<rect x="508.2" y="161.6" width="3.6" height="3.6" fill="#1f1fff"/>
<rect x="508.71" y="160.11" width="3.6" height="3.6" fill="#1f1fff"/>
<rect x="509.21" y="158.62" width="3.6" height="3.6" fill="#1f1fff"/>
<rect x="509.72" y="157.13" width="3.6" height="3.6" fill="#1f1fff"/>
<rect x="510.23" y="155.64" width="3.6" height="3.6" fill="#1f1fff"/>
<rect x="510.74" y="154.15" width="3.6" height="3.6" fill="#1f1fff"/>
<rect x="511.24" y="152.67" width="3.6" height="3.6" fill="#1f1fff"/>
<rect x="511.75" y="151.18" width="3.6" height="3.6" fill="#1f1fff"/>
<rect x="512.26" y="149.69" width="3.6" height="3.6" fill="#1f1fff"/>
<rect x="512.77" y="148.2" width="3.6" height="3.6" fill="#1f1fff"/>
<rect x="513.27" y="146.71" width="3.6" height="3.6" fill="#1f1fff"/>
<rect x="513.78" y="145.22" width="3.6" height="3.6" fill="#1f1fff"/>
<rect x="499" y="163.9" width="3.6" height="3.6" fill="#1f1fff"/>
<rect x="500.2" y="163.7" width="3.6" height="3.6" fill="#1f1fff"/>
<rect x="501.4" y="163.5" width="3.6" height="3.6" fill="#1f1fff"/>
<rect x="502.6" y="163.3" width="3.6" height="3.6" fill="#1f1fff"/>
<rect x="503.8" y="163.1" width="3.6" height="3.6" fill="#1f1fff"/>
<rect x="505" y="162.9" width="3.6" height="3.6" fill="#1f1fff"/>
<rect x="506.2" y="162.7" width="3.6" height="3.6" fill="#1f1fff"/>
<rect x="507.4" y="162.5" width="3.6" height="3.6" fill="#1f1fff"/>
<rect x="508.6" y="162.3" width="3.6" height="3.6" fill="#1f1fff"/>
<rect x="501.1" y="17.4" width="185.9" height="149.2" fill="none" stroke="#555555" stroke-width="1.05"/>
<line x1="519.7" y1="17.4" x2="519.7" y2="18.9" stroke="#555555" stroke-width="0.9" />
<line x1="538.3" y1="17.4" x2="538.3" y2="20.2" stroke="#555555" stroke-width="0.9" />
<line x1="556.9" y1="17.4" x2="556.9" y2="18.9" stroke="#555555" stroke-width="0.9" />
<line x1="575.5" y1="17.4" x2="575.5" y2="20.2" stroke="#555555" stroke-width="0.9" />
<line x1="594.1" y1="17.4" x2="594.1" y2="18.9" stroke="#555555" stroke-width="0.9" />
<line x1="612.7" y1="17.4" x2="612.7" y2="20.2" stroke="#555555" stroke-width="0.9" />
<line x1="631.3" y1="17.4" x2="631.3" y2="18.9" stroke="#555555" stroke-width="0.9" />
<line x1="649.9" y1="17.4" x2="649.9" y2="20.2" stroke="#555555" stroke-width="0.9" />
<line x1="668.5" y1="17.4" x2="668.5" y2="18.9" stroke="#555555" stroke-width="0.9" />
<line x1="684.8" y1="32.5" x2="687" y2="32.5" stroke="#555555" stroke-width="0.9" />
<line x1="684.8" y1="47.6" x2="687" y2="47.6" stroke="#555555" stroke-width="0.9" />
<line x1="684.8" y1="62.7" x2="687" y2="62.7" stroke="#555555" stroke-width="0.9" />
<line x1="684.8" y1="77.8" x2="687" y2="77.8" stroke="#555555" stroke-width="0.9" />
<line x1="684.8" y1="92.9" x2="687" y2="92.9" stroke="#555555" stroke-width="0.9" />
<line x1="684.8" y1="108" x2="687" y2="108" stroke="#555555" stroke-width="0.9" />
<line x1="684.8" y1="123.1" x2="687" y2="123.1" stroke="#555555" stroke-width="0.9" />
<line x1="684.8" y1="138.2" x2="687" y2="138.2" stroke="#555555" stroke-width="0.9" />
<line x1="684.8" y1="153.3" x2="687" y2="153.3" stroke="#555555" stroke-width="0.9" />
<line x1="497.9" y1="166.5" x2="501.1" y2="166.5" stroke="#555555" stroke-width="0.9" />
<line x1="497.9" y1="129.12" x2="501.1" y2="129.12" stroke="#555555" stroke-width="0.9" />
<line x1="497.9" y1="91.75" x2="501.1" y2="91.75" stroke="#555555" stroke-width="0.9" />
<line x1="497.9" y1="54.38" x2="501.1" y2="54.38" stroke="#555555" stroke-width="0.9" />
<line x1="497.9" y1="17" x2="501.1" y2="17" stroke="#555555" stroke-width="0.9" />
<line x1="499.3" y1="147.81" x2="501.1" y2="147.81" stroke="#555555" stroke-width="0.9" />
<line x1="499.3" y1="110.44" x2="501.1" y2="110.44" stroke="#555555" stroke-width="0.9" />
<line x1="499.3" y1="73.06" x2="501.1" y2="73.06" stroke="#555555" stroke-width="0.9" />
<line x1="499.3" y1="35.69" x2="501.1" y2="35.69" stroke="#555555" stroke-width="0.9" />
<line x1="500.6" y1="166.6" x2="500.6" y2="169.8" stroke="#555555" stroke-width="0.9" />
<line x1="547" y1="166.6" x2="547" y2="169.8" stroke="#555555" stroke-width="0.9" />
<line x1="593.4" y1="166.6" x2="593.4" y2="169.8" stroke="#555555" stroke-width="0.9" />
<line x1="639.8" y1="166.6" x2="639.8" y2="169.8" stroke="#555555" stroke-width="0.9" />
<line x1="686.2" y1="166.6" x2="686.2" y2="169.8" stroke="#555555" stroke-width="0.9" />
<line x1="523.8" y1="166.6" x2="523.8" y2="168.4" stroke="#555555" stroke-width="0.9" />
<line x1="570.2" y1="166.6" x2="570.2" y2="168.4" stroke="#555555" stroke-width="0.9" />
<line x1="616.6" y1="166.6" x2="616.6" y2="168.4" stroke="#555555" stroke-width="0.9" />
<line x1="663" y1="166.6" x2="663" y2="168.4" stroke="#555555" stroke-width="0.9" />
<text style="stroke:#1a1a1a;stroke-width:0.18px" transform="translate(496.5 168.6) scale(0.85 1)" font-size="7.3" text-anchor="end" fill="#1a1a1a" >0.00</text>
<text style="stroke:#1a1a1a;stroke-width:0.18px" transform="translate(496.5 131.22) scale(0.85 1)" font-size="7.3" text-anchor="end" fill="#1a1a1a" >0.05</text>
<text style="stroke:#1a1a1a;stroke-width:0.18px" transform="translate(496.5 93.85) scale(0.85 1)" font-size="7.3" text-anchor="end" fill="#1a1a1a" >0.10</text>
<text style="stroke:#1a1a1a;stroke-width:0.18px" transform="translate(496.5 56.48) scale(0.85 1)" font-size="7.3" text-anchor="end" fill="#1a1a1a" >0.15</text>
<text style="stroke:#1a1a1a;stroke-width:0.18px" transform="translate(496.5 19.1) scale(0.85 1)" font-size="7.3" text-anchor="end" fill="#1a1a1a" >0.20</text>
<text style="stroke:#1a1a1a;stroke-width:0.18px" transform="translate(500.6 176) scale(0.85 1)" font-size="7.3" text-anchor="middle" fill="#1a1a1a" >0.00</text>
<text style="stroke:#1a1a1a;stroke-width:0.18px" transform="translate(547 176) scale(0.85 1)" font-size="7.3" text-anchor="middle" fill="#1a1a1a" >0.05</text>
<text style="stroke:#1a1a1a;stroke-width:0.18px" transform="translate(593.4 176) scale(0.85 1)" font-size="7.3" text-anchor="middle" fill="#1a1a1a" >0.10</text>
<text style="stroke:#1a1a1a;stroke-width:0.18px" transform="translate(639.8 176) scale(0.85 1)" font-size="7.3" text-anchor="middle" fill="#1a1a1a" >0.15</text>
<text style="stroke:#1a1a1a;stroke-width:0.18px" transform="translate(686.2 176) scale(0.85 1)" font-size="7.3" text-anchor="middle" fill="#1a1a1a" >0.20</text>
<text style="stroke:#1a1a1a;stroke-width:0.18px" x="593.7" y="190" font-size="8.2" text-anchor="middle" fill="#1a1a1a">Z' (&#937; cm<tspan dy="-3" font-size="5.6">-2</tspan><tspan dy="3">)</tspan></text>
<text style="stroke:#1a1a1a;stroke-width:0.18px" x="480" y="91.3" font-size="7.9" text-anchor="middle" fill="#1a1a1a" transform="rotate(-90 480 91.3)">-Z'' (&#937; cm<tspan dy="-3" font-size="5.2">-2</tspan><tspan dy="3">)</tspan></text>
<text style="stroke:#1a1a1a;stroke-width:0px" x="462" y="34.5" font-size="15.8" text-anchor="start" fill="#1a1a1a" >c)</text>
<rect x="567.3" y="58.5" width="111.3" height="89.5" fill="#fff" stroke="#555555" stroke-width="0.8"/>
<polyline points="595.4,147.6 595.59,147.09 595.76,146.58 595.93,146.07 596.12,145.56 596.34,145.07 596.6,144.6 596.92,144.13 597.27,143.66 597.66,143.22 598.08,142.79 598.52,142.38 599,142 599.58,141.6 600.19,141.23 600.85,140.89 601.54,140.58 602.26,140.28 603,140 603.91,139.69 604.86,139.42 605.85,139.16 606.88,138.94 607.93,138.76 609,138.6 610.26,138.48 611.58,138.43 612.92,138.42 614.29,138.43 615.65,138.43 617,138.4 618.35,138.36 619.71,138.34 621.08,138.31 622.43,138.25 623.74,138.16 625,138 626.06,137.81 627.08,137.59 628.07,137.34 629.05,137.06 630.02,136.74 631,136.4 632.01,136.01 633.03,135.6 634.03,135.15 635.03,134.66 636.02,134.15 637,133.6 638.03,132.99 639.06,132.34 640.08,131.65 641.09,130.94 642.06,130.18 643,129.4 643.9,128.57 644.77,127.69 645.61,126.77 646.43,125.84 647.22,124.91 648,124 648.71,123.17 649.39,122.36 650.06,121.55 650.71,120.73 651.36,119.88 652,119 652.7,118 653.39,116.95 654.08,115.88 654.75,114.8 655.39,113.7 656,112.6 656.55,111.53 657.05,110.46 657.53,109.39 658,108.29 658.49,107.16 659,106 659.64,104.57 660.32,103.06 661.01,101.52 661.69,99.97 662.36,98.45 663,97 663.54,95.81 664.06,94.67 664.58,93.56 665.08,92.44 665.55,91.26 666,90 666.5,88.32 666.95,86.53 667.37,84.67 667.78,82.77 668.18,80.86 668.6,79" fill="none" stroke="#1f1fff" stroke-width="1.3" stroke-linejoin="round" stroke-linecap="round" />
<circle cx="595.4" cy="147.6" r="0.9" fill="#1f1fff"/>
<circle cx="596.34" cy="145.07" r="1.1" fill="#1f1fff"/>
<circle cx="598.08" cy="142.79" r="1.1" fill="#1f1fff"/>
<circle cx="600.19" cy="141.23" r="1.1" fill="#1f1fff"/>
<circle cx="603" cy="140" r="1.1" fill="#1f1fff"/>
<circle cx="605.85" cy="139.16" r="1.1" fill="#1f1fff"/>
<circle cx="609" cy="138.6" r="1.1" fill="#1f1fff"/>
<circle cx="612.92" cy="138.42" r="1.1" fill="#1f1fff"/>
<circle cx="615.65" cy="138.43" r="1.1" fill="#1f1fff"/>
<circle cx="618.35" cy="138.36" r="1.1" fill="#1f1fff"/>
<circle cx="621.08" cy="138.31" r="1.1" fill="#1f1fff"/>
<circle cx="623.74" cy="138.16" r="1.1" fill="#1f1fff"/>
<circle cx="627.08" cy="137.59" r="1.1" fill="#1f1fff"/>
<circle cx="630.02" cy="136.74" r="1.1" fill="#1f1fff"/>
<circle cx="633.03" cy="135.6" r="1.1" fill="#1f1fff"/>
<circle cx="636.02" cy="134.15" r="1.1" fill="#1f1fff"/>
<circle cx="639.06" cy="132.34" r="1.1" fill="#1f1fff"/>
<circle cx="642.06" cy="130.18" r="1.1" fill="#1f1fff"/>
<circle cx="644.77" cy="127.69" r="1.1" fill="#1f1fff"/>
<circle cx="647.22" cy="124.91" r="1.1" fill="#1f1fff"/>
<circle cx="649.39" cy="122.36" r="1.1" fill="#1f1fff"/>
<circle cx="651.36" cy="119.88" r="1.1" fill="#1f1fff"/>
<circle cx="653.39" cy="116.95" r="1.1" fill="#1f1fff"/>
<circle cx="655.39" cy="113.7" r="1.1" fill="#1f1fff"/>
<circle cx="657.05" cy="110.46" r="1.1" fill="#1f1fff"/>
<circle cx="658.49" cy="107.16" r="1.1" fill="#1f1fff"/>
<circle cx="659.64" cy="104.57" r="1.1" fill="#1f1fff"/>
<circle cx="661.01" cy="101.52" r="1.1" fill="#1f1fff"/>
<circle cx="662.36" cy="98.45" r="1.1" fill="#1f1fff"/>
<circle cx="663.54" cy="95.81" r="1.1" fill="#1f1fff"/>
<circle cx="665.08" cy="92.44" r="1.1" fill="#1f1fff"/>
<circle cx="666" cy="90" r="1.1" fill="#1f1fff"/>
<circle cx="666.95" cy="86.53" r="1.1" fill="#1f1fff"/>
<circle cx="667.78" cy="82.77" r="1.1" fill="#1f1fff"/>
<circle cx="668.6" cy="79" r="1.1" fill="#1f1fff"/>
<line x1="565.5" y1="148" x2="567.3" y2="148" stroke="#555555" stroke-width="0.6" />
<line x1="677.1" y1="148" x2="678.6" y2="148" stroke="#555555" stroke-width="0.6" />
<text style="stroke:#1a1a1a;stroke-width:0.06px" transform="translate(564.1 149.4) scale(0.9 1)" font-size="3.9" text-anchor="end" fill="#1a1a1a">0.000</text>
<line x1="567.3" y1="148" x2="567.3" y2="149.8" stroke="#555555" stroke-width="0.6" />
<line x1="567.3" y1="58.5" x2="567.3" y2="60" stroke="#555555" stroke-width="0.6" />
<text style="stroke:#1a1a1a;stroke-width:0.06px" transform="translate(567.3 153.8) scale(0.9 1)" font-size="3.9" text-anchor="middle" fill="#1a1a1a">0.000</text>
<line x1="565.5" y1="135.2" x2="567.3" y2="135.2" stroke="#555555" stroke-width="0.6" />
<line x1="677.1" y1="135.2" x2="678.6" y2="135.2" stroke="#555555" stroke-width="0.6" />
<text style="stroke:#1a1a1a;stroke-width:0.06px" transform="translate(564.1 136.6) scale(0.9 1)" font-size="3.9" text-anchor="end" fill="#1a1a1a">0.002</text>
<line x1="583.2" y1="148" x2="583.2" y2="149.8" stroke="#555555" stroke-width="0.6" />
<line x1="583.2" y1="58.5" x2="583.2" y2="60" stroke="#555555" stroke-width="0.6" />
<text style="stroke:#1a1a1a;stroke-width:0.06px" transform="translate(583.2 153.8) scale(0.9 1)" font-size="3.9" text-anchor="middle" fill="#1a1a1a">0.002</text>
<line x1="565.5" y1="122.4" x2="567.3" y2="122.4" stroke="#555555" stroke-width="0.6" />
<line x1="677.1" y1="122.4" x2="678.6" y2="122.4" stroke="#555555" stroke-width="0.6" />
<text style="stroke:#1a1a1a;stroke-width:0.06px" transform="translate(564.1 123.8) scale(0.9 1)" font-size="3.9" text-anchor="end" fill="#1a1a1a">0.004</text>
<line x1="599.1" y1="148" x2="599.1" y2="149.8" stroke="#555555" stroke-width="0.6" />
<line x1="599.1" y1="58.5" x2="599.1" y2="60" stroke="#555555" stroke-width="0.6" />
<text style="stroke:#1a1a1a;stroke-width:0.06px" transform="translate(599.1 153.8) scale(0.9 1)" font-size="3.9" text-anchor="middle" fill="#1a1a1a">0.004</text>
<line x1="565.5" y1="109.6" x2="567.3" y2="109.6" stroke="#555555" stroke-width="0.6" />
<line x1="677.1" y1="109.6" x2="678.6" y2="109.6" stroke="#555555" stroke-width="0.6" />
<text style="stroke:#1a1a1a;stroke-width:0.06px" transform="translate(564.1 111) scale(0.9 1)" font-size="3.9" text-anchor="end" fill="#1a1a1a">0.006</text>
<line x1="615" y1="148" x2="615" y2="149.8" stroke="#555555" stroke-width="0.6" />
<line x1="615" y1="58.5" x2="615" y2="60" stroke="#555555" stroke-width="0.6" />
<text style="stroke:#1a1a1a;stroke-width:0.06px" transform="translate(615 153.8) scale(0.9 1)" font-size="3.9" text-anchor="middle" fill="#1a1a1a">0.006</text>
<line x1="565.5" y1="96.8" x2="567.3" y2="96.8" stroke="#555555" stroke-width="0.6" />
<line x1="677.1" y1="96.8" x2="678.6" y2="96.8" stroke="#555555" stroke-width="0.6" />
<text style="stroke:#1a1a1a;stroke-width:0.06px" transform="translate(564.1 98.2) scale(0.9 1)" font-size="3.9" text-anchor="end" fill="#1a1a1a">0.008</text>
<line x1="630.9" y1="148" x2="630.9" y2="149.8" stroke="#555555" stroke-width="0.6" />
<line x1="630.9" y1="58.5" x2="630.9" y2="60" stroke="#555555" stroke-width="0.6" />
<text style="stroke:#1a1a1a;stroke-width:0.06px" transform="translate(630.9 153.8) scale(0.9 1)" font-size="3.9" text-anchor="middle" fill="#1a1a1a">0.008</text>
<line x1="565.5" y1="84" x2="567.3" y2="84" stroke="#555555" stroke-width="0.6" />
<line x1="677.1" y1="84" x2="678.6" y2="84" stroke="#555555" stroke-width="0.6" />
<text style="stroke:#1a1a1a;stroke-width:0.06px" transform="translate(564.1 85.4) scale(0.9 1)" font-size="3.9" text-anchor="end" fill="#1a1a1a">0.010</text>
<line x1="646.8" y1="148" x2="646.8" y2="149.8" stroke="#555555" stroke-width="0.6" />
<line x1="646.8" y1="58.5" x2="646.8" y2="60" stroke="#555555" stroke-width="0.6" />
<text style="stroke:#1a1a1a;stroke-width:0.06px" transform="translate(646.8 153.8) scale(0.9 1)" font-size="3.9" text-anchor="middle" fill="#1a1a1a">0.010</text>
<line x1="565.5" y1="71.2" x2="567.3" y2="71.2" stroke="#555555" stroke-width="0.6" />
<line x1="677.1" y1="71.2" x2="678.6" y2="71.2" stroke="#555555" stroke-width="0.6" />
<text style="stroke:#1a1a1a;stroke-width:0.06px" transform="translate(564.1 72.6) scale(0.9 1)" font-size="3.9" text-anchor="end" fill="#1a1a1a">0.012</text>
<line x1="662.7" y1="148" x2="662.7" y2="149.8" stroke="#555555" stroke-width="0.6" />
<line x1="662.7" y1="58.5" x2="662.7" y2="60" stroke="#555555" stroke-width="0.6" />
<text style="stroke:#1a1a1a;stroke-width:0.06px" transform="translate(662.7 153.8) scale(0.9 1)" font-size="3.9" text-anchor="middle" fill="#1a1a1a">0.012</text>
<line x1="565.5" y1="58.4" x2="567.3" y2="58.4" stroke="#555555" stroke-width="0.6" />
<line x1="677.1" y1="58.4" x2="678.6" y2="58.4" stroke="#555555" stroke-width="0.6" />
<text style="stroke:#1a1a1a;stroke-width:0.06px" transform="translate(564.1 59.8) scale(0.9 1)" font-size="3.9" text-anchor="end" fill="#1a1a1a">0.014</text>
<line x1="678.6" y1="148" x2="678.6" y2="149.8" stroke="#555555" stroke-width="0.6" />
<line x1="678.6" y1="58.5" x2="678.6" y2="60" stroke="#555555" stroke-width="0.6" />
<text style="stroke:#1a1a1a;stroke-width:0.06px" transform="translate(678.6 153.8) scale(0.9 1)" font-size="3.9" text-anchor="middle" fill="#1a1a1a">0.014</text>
<text style="stroke:#1a1a1a;stroke-width:0.06px" x="623" y="161.5" font-size="4.8" text-anchor="middle" fill="#1a1a1a">Z' (&#937; cm<tspan dy="-2" font-size="3.8">-2</tspan><tspan dy="2">)</tspan></text>
<text style="stroke:#1a1a1a;stroke-width:0.06px" x="553.2" y="103" font-size="4.6" text-anchor="middle" fill="#1a1a1a" transform="rotate(-90 553.2 103)">-Z'' (&#937; cm<tspan dy="-2" font-size="3.8">-2</tspan><tspan dy="2">)</tspan></text>
<line x1="585.1" y1="35" x2="596.1" y2="35" stroke="#555" stroke-width="1.0" />
<polyline points="596.1,35 597.13,33 599.2,37 601.27,33 603.33,37 605.4,33 607.47,37 608.5,35" fill="none" stroke="#555" stroke-width="0.9" stroke-linejoin="round" stroke-linecap="round" />
<line x1="608.5" y1="35" x2="626.5" y2="35" stroke="#555" stroke-width="1.0" />
<line x1="626.5" y1="32.6" x2="626.5" y2="37.4" stroke="#555" stroke-width="1.0" />
<line x1="629.5" y1="32.6" x2="629.5" y2="37.4" stroke="#555" stroke-width="1.0" />
<line x1="629.5" y1="35" x2="664.6" y2="35" stroke="#555" stroke-width="1.0" />
<circle cx="617.3" cy="35" r="1.5" fill="#222"/>
<line x1="617.3" y1="35" x2="617.3" y2="47.4" stroke="#555" stroke-width="0.9" />
<line x1="657.4" y1="35" x2="657.4" y2="47.4" stroke="#555" stroke-width="0.9" />
<line x1="617.3" y1="47.4" x2="625" y2="47.4" stroke="#555" stroke-width="0.9" />
<polyline points="625,47.4 625.73,45.8 627.17,49 628.62,45.8 630.07,49 630.8,47.4" fill="none" stroke="#555" stroke-width="0.9" stroke-linejoin="round" stroke-linecap="round" />
<line x1="630.8" y1="47.4" x2="642.1" y2="47.4" stroke="#555" stroke-width="0.9" />
<polyline points="642.1,47.4 643.08,45.4 645.05,49.4 647.02,45.4 648.98,49.4 650.95,45.4 652.92,49.4 653.9,47.4" fill="none" stroke="#555" stroke-width="0.9" stroke-linejoin="round" stroke-linecap="round" />
<line x1="653.9" y1="47.4" x2="657.4" y2="47.4" stroke="#555" stroke-width="0.9" />
<text style="stroke:#333;stroke-width:0.06px" x="602" y="30.2" font-size="4.2" text-anchor="middle" fill="#333">Rs</text>
<text style="stroke:#333;stroke-width:0.06px" x="627.8" y="30.2" font-size="4.2" text-anchor="middle" fill="#333">Cf</text>
<text style="stroke:#333;stroke-width:0.06px" x="627.5" y="43.5" font-size="4.2" text-anchor="middle" fill="#333">Wl</text>
<text style="stroke:#333;stroke-width:0.06px" x="647.5" y="43.5" font-size="4.2" text-anchor="middle" fill="#333">Rct</text>
<line x1="51.3" y1="198.6" x2="51.3" y2="348.2" stroke="#555" stroke-width="0.7" stroke-dasharray="0.7,1.0"/>
<polyline points="34.6,229.3 34.99,228.6 35.38,227.91 35.77,227.23 36.16,226.53 36.54,225.79 36.9,225 37.3,223.84 37.64,222.47 37.96,221.06 38.32,219.73 38.75,218.63 39.3,217.9 39.71,217.69 40.17,217.63 40.65,217.65 41.15,217.7 41.64,217.7 42.1,217.6 42.61,217.37 43.1,217.08 43.59,216.73 44.07,216.34 44.54,215.89 45,215.4 45.58,214.54 46.11,213.45 46.62,212.26 47.13,211.13 47.69,210.2 48.3,209.6 48.73,209.42 49.19,209.37 49.66,209.39 50.13,209.46 50.62,209.55 51.1,209.6 51.64,209.61 52.2,209.59 52.77,209.59 53.33,209.63 53.84,209.75 54.3,210 54.77,210.54 55.14,211.29 55.44,212.18 55.72,213.14 56.03,214.11 56.4,215 56.89,215.88 57.42,216.73 57.98,217.58 58.55,218.46 59.1,219.39 59.6,220.4 60.17,221.78 60.69,223.26 61.19,224.83 61.67,226.44 62.13,228.07 62.6,229.7 63.09,231.43 63.57,233.2 64.03,234.99 64.49,236.79 64.95,238.6 65.4,240.4 65.86,242.23 66.31,244.07 66.77,245.91 67.21,247.75 67.66,249.59 68.1,251.4 68.51,253.14 68.91,254.86 69.3,256.58 69.7,258.29 70.13,259.99 70.6,261.7 71.13,263.43 71.72,265.17 72.33,266.9 72.94,268.62 73.54,270.33 74.1,272 74.58,273.53 75.03,275.04 75.47,276.54 75.91,278.02 76.35,279.47 76.8,280.9 77.22,282.18 77.64,283.44 78.07,284.67 78.5,285.89 78.94,287.1 79.4,288.3 79.86,289.46 80.34,290.61 80.84,291.75 81.33,292.88 81.82,294 82.3,295.1 82.73,296.13 83.16,297.15 83.57,298.16 84,299.16 84.44,300.14 84.9,301.1 85.37,302.01 85.85,302.91 86.35,303.8 86.85,304.66 87.37,305.5 87.9,306.3 88.38,306.98 88.88,307.62 89.39,308.25 89.9,308.86 90.4,309.47 90.9,310.1 91.39,310.75 91.86,311.41 92.34,312.07 92.82,312.73 93.3,313.37 93.8,314 94.3,314.59 94.8,315.18 95.31,315.75 95.83,316.32 96.36,316.86 96.9,317.4 97.44,317.92 97.98,318.43 98.53,318.92 99.1,319.4 99.69,319.86 100.3,320.3 100.97,320.73 101.66,321.13 102.37,321.51 103.1,321.88 103.85,322.24 104.6,322.6 105.42,322.99 106.26,323.37 107.11,323.75 107.97,324.11 108.84,324.46 109.7,324.8 110.55,325.12 111.39,325.42 112.24,325.72 113.1,326 113.99,326.26 114.9,326.5 115.96,326.75 117.04,326.97 118.15,327.17 119.29,327.36 120.47,327.53 121.7,327.7 123.27,327.89 124.92,328.06 126.62,328.22 128.38,328.36 130.17,328.48 132,328.6 134.14,328.72 136.33,328.82 138.58,328.9 140.89,328.97 143.26,329.04 145.7,329.1 148.61,329.17 151.53,329.23 154.54,329.28 157.72,329.33 161.18,329.36 165,329.4 172.43,329.45 180.99,329.47 190.3,329.48 199.99,329.49 209.69,329.49 219,329.5" fill="none" stroke="#cc5a10" stroke-width="1.3" stroke-linejoin="round" stroke-linecap="round" />
<rect x="33" y="227.7" width="3.2" height="3.2" fill="#cc5a10"/>
<rect x="35.83" y="221.73" width="3.2" height="3.2" fill="#cc5a10"/>
<rect x="38.66" y="216.03" width="3.2" height="3.2" fill="#cc5a10"/>
<rect x="41.49" y="215.49" width="3.2" height="3.2" fill="#cc5a10"/>
<rect x="44.32" y="212.25" width="3.2" height="3.2" fill="#cc5a10"/>
<rect x="47.15" y="207.82" width="3.2" height="3.2" fill="#cc5a10"/>
<rect x="49.98" y="208.01" width="3.2" height="3.2" fill="#cc5a10"/>
<rect x="52.81" y="208.5" width="3.2" height="3.2" fill="#cc5a10"/>
<rect x="55.64" y="214.85" width="3.2" height="3.2" fill="#cc5a10"/>
<rect x="58.47" y="219.93" width="3.2" height="3.2" fill="#cc5a10"/>
<rect x="61.3" y="229.15" width="3.2" height="3.2" fill="#cc5a10"/>
<rect x="64.13" y="240.11" width="3.2" height="3.2" fill="#cc5a10"/>
<rect x="66.96" y="251.75" width="3.2" height="3.2" fill="#cc5a10"/>
<rect x="69.79" y="262.61" width="3.2" height="3.2" fill="#cc5a10"/>
<rect x="72.62" y="270.78" width="3.2" height="3.2" fill="#cc5a10"/>
<rect x="75.45" y="280.06" width="3.2" height="3.2" fill="#cc5a10"/>
<rect x="78.28" y="287.9" width="3.2" height="3.2" fill="#cc5a10"/>
<rect x="81.11" y="294.47" width="3.2" height="3.2" fill="#cc5a10"/>
<rect x="83.94" y="300.74" width="3.2" height="3.2" fill="#cc5a10"/>
<rect x="86.77" y="305.36" width="3.2" height="3.2" fill="#cc5a10"/>
<rect x="89.6" y="308.9" width="3.2" height="3.2" fill="#cc5a10"/>
<rect x="92.43" y="312.68" width="3.2" height="3.2" fill="#cc5a10"/>
<rect x="95.26" y="315.76" width="3.2" height="3.2" fill="#cc5a10"/>
<rect x="98.09" y="318.26" width="3.2" height="3.2" fill="#cc5a10"/>
<rect x="100.92" y="319.99" width="3.2" height="3.2" fill="#cc5a10"/>
<rect x="103.75" y="321.36" width="3.2" height="3.2" fill="#cc5a10"/>
<rect x="106.58" y="322.6" width="3.2" height="3.2" fill="#cc5a10"/>
<rect x="109.41" y="323.69" width="3.2" height="3.2" fill="#cc5a10"/>
<rect x="112.24" y="324.61" width="3.2" height="3.2" fill="#cc5a10"/>
<rect x="115.07" y="325.3" width="3.2" height="3.2" fill="#cc5a10"/>
<rect x="117.9" y="325.79" width="3.2" height="3.2" fill="#cc5a10"/>
<rect x="120.73" y="326.18" width="3.2" height="3.2" fill="#cc5a10"/>
<rect x="123.56" y="326.49" width="3.2" height="3.2" fill="#cc5a10"/>
<rect x="126.39" y="326.73" width="3.2" height="3.2" fill="#cc5a10"/>
<rect x="129.22" y="326.92" width="3.2" height="3.2" fill="#cc5a10"/>
<rect x="132.05" y="327.09" width="3.2" height="3.2" fill="#cc5a10"/>
<rect x="134.88" y="327.22" width="3.2" height="3.2" fill="#cc5a10"/>
<rect x="137.71" y="327.32" width="3.2" height="3.2" fill="#cc5a10"/>
<rect x="140.54" y="327.41" width="3.2" height="3.2" fill="#cc5a10"/>
<rect x="143.37" y="327.48" width="3.2" height="3.2" fill="#cc5a10"/>
<rect x="146.2" y="327.55" width="3.2" height="3.2" fill="#cc5a10"/>
<rect x="149.03" y="327.61" width="3.2" height="3.2" fill="#cc5a10"/>
<rect x="151.86" y="327.66" width="3.2" height="3.2" fill="#cc5a10"/>
<rect x="154.69" y="327.71" width="3.2" height="3.2" fill="#cc5a10"/>
<rect x="157.52" y="327.74" width="3.2" height="3.2" fill="#cc5a10"/>
<rect x="160.35" y="327.77" width="3.2" height="3.2" fill="#cc5a10"/>
<rect x="163.18" y="327.8" width="3.2" height="3.2" fill="#cc5a10"/>
<rect x="166.01" y="327.82" width="3.2" height="3.2" fill="#cc5a10"/>
<rect x="168.84" y="327.84" width="3.2" height="3.2" fill="#cc5a10"/>
<rect x="171.67" y="327.85" width="3.2" height="3.2" fill="#cc5a10"/>
<rect x="174.5" y="327.86" width="3.2" height="3.2" fill="#cc5a10"/>
<rect x="177.33" y="327.87" width="3.2" height="3.2" fill="#cc5a10"/>
<rect x="180.16" y="327.87" width="3.2" height="3.2" fill="#cc5a10"/>
<rect x="182.99" y="327.88" width="3.2" height="3.2" fill="#cc5a10"/>
<rect x="185.82" y="327.88" width="3.2" height="3.2" fill="#cc5a10"/>
<rect x="188.65" y="327.88" width="3.2" height="3.2" fill="#cc5a10"/>
<rect x="191.48" y="327.88" width="3.2" height="3.2" fill="#cc5a10"/>
<rect x="194.31" y="327.88" width="3.2" height="3.2" fill="#cc5a10"/>
<rect x="197.14" y="327.88" width="3.2" height="3.2" fill="#cc5a10"/>
<rect x="199.97" y="327.89" width="3.2" height="3.2" fill="#cc5a10"/>
<rect x="202.8" y="327.89" width="3.2" height="3.2" fill="#cc5a10"/>
<rect x="205.63" y="327.89" width="3.2" height="3.2" fill="#cc5a10"/>
<rect x="208.46" y="327.89" width="3.2" height="3.2" fill="#cc5a10"/>
<rect x="211.29" y="327.89" width="3.2" height="3.2" fill="#cc5a10"/>
<rect x="214.12" y="327.9" width="3.2" height="3.2" fill="#cc5a10"/>
<rect x="216.95" y="327.9" width="3.2" height="3.2" fill="#cc5a10"/>
<rect x="33.4" y="198.6" width="185.9" height="149.6" fill="none" stroke="#555555" stroke-width="1.05"/>
<line x1="52" y1="198.6" x2="52" y2="200.1" stroke="#555555" stroke-width="0.9" />
<line x1="70.6" y1="198.6" x2="70.6" y2="201.4" stroke="#555555" stroke-width="0.9" />
<line x1="89.2" y1="198.6" x2="89.2" y2="200.1" stroke="#555555" stroke-width="0.9" />
<line x1="107.8" y1="198.6" x2="107.8" y2="201.4" stroke="#555555" stroke-width="0.9" />
<line x1="126.4" y1="198.6" x2="126.4" y2="200.1" stroke="#555555" stroke-width="0.9" />
<line x1="145" y1="198.6" x2="145" y2="201.4" stroke="#555555" stroke-width="0.9" />
<line x1="163.6" y1="198.6" x2="163.6" y2="200.1" stroke="#555555" stroke-width="0.9" />
<line x1="182.2" y1="198.6" x2="182.2" y2="201.4" stroke="#555555" stroke-width="0.9" />
<line x1="200.8" y1="198.6" x2="200.8" y2="200.1" stroke="#555555" stroke-width="0.9" />
<line x1="217.1" y1="213.7" x2="219.3" y2="213.7" stroke="#555555" stroke-width="0.9" />
<line x1="217.1" y1="228.8" x2="219.3" y2="228.8" stroke="#555555" stroke-width="0.9" />
<line x1="217.1" y1="243.9" x2="219.3" y2="243.9" stroke="#555555" stroke-width="0.9" />
<line x1="217.1" y1="259" x2="219.3" y2="259" stroke="#555555" stroke-width="0.9" />
<line x1="217.1" y1="274.1" x2="219.3" y2="274.1" stroke="#555555" stroke-width="0.9" />
<line x1="217.1" y1="289.2" x2="219.3" y2="289.2" stroke="#555555" stroke-width="0.9" />
<line x1="217.1" y1="304.3" x2="219.3" y2="304.3" stroke="#555555" stroke-width="0.9" />
<line x1="217.1" y1="319.4" x2="219.3" y2="319.4" stroke="#555555" stroke-width="0.9" />
<line x1="217.1" y1="334.5" x2="219.3" y2="334.5" stroke="#555555" stroke-width="0.9" />
<line x1="30.2" y1="348.2" x2="33.4" y2="348.2" stroke="#555555" stroke-width="0.9" />
<line x1="30.2" y1="329.5" x2="33.4" y2="329.5" stroke="#555555" stroke-width="0.9" />
<line x1="30.2" y1="310.8" x2="33.4" y2="310.8" stroke="#555555" stroke-width="0.9" />
<line x1="30.2" y1="292.1" x2="33.4" y2="292.1" stroke="#555555" stroke-width="0.9" />
<line x1="30.2" y1="273.4" x2="33.4" y2="273.4" stroke="#555555" stroke-width="0.9" />
<line x1="30.2" y1="254.7" x2="33.4" y2="254.7" stroke="#555555" stroke-width="0.9" />
<line x1="30.2" y1="236" x2="33.4" y2="236" stroke="#555555" stroke-width="0.9" />
<line x1="30.2" y1="217.3" x2="33.4" y2="217.3" stroke="#555555" stroke-width="0.9" />
<line x1="30.2" y1="198.6" x2="33.4" y2="198.6" stroke="#555555" stroke-width="0.9" />
<line x1="31.6" y1="338.85" x2="33.4" y2="338.85" stroke="#555555" stroke-width="0.9" />
<line x1="31.6" y1="320.15" x2="33.4" y2="320.15" stroke="#555555" stroke-width="0.9" />
<line x1="31.6" y1="301.45" x2="33.4" y2="301.45" stroke="#555555" stroke-width="0.9" />
<line x1="31.6" y1="282.75" x2="33.4" y2="282.75" stroke="#555555" stroke-width="0.9" />
<line x1="31.6" y1="264.05" x2="33.4" y2="264.05" stroke="#555555" stroke-width="0.9" />
<line x1="31.6" y1="245.35" x2="33.4" y2="245.35" stroke="#555555" stroke-width="0.9" />
<line x1="31.6" y1="226.65" x2="33.4" y2="226.65" stroke="#555555" stroke-width="0.9" />
<line x1="31.6" y1="207.95" x2="33.4" y2="207.95" stroke="#555555" stroke-width="0.9" />
<line x1="47.5" y1="348.2" x2="47.5" y2="351.4" stroke="#555555" stroke-width="0.9" />
<line x1="75.8" y1="348.2" x2="75.8" y2="351.4" stroke="#555555" stroke-width="0.9" />
<line x1="104.1" y1="348.2" x2="104.1" y2="351.4" stroke="#555555" stroke-width="0.9" />
<line x1="132.4" y1="348.2" x2="132.4" y2="351.4" stroke="#555555" stroke-width="0.9" />
<line x1="160.7" y1="348.2" x2="160.7" y2="351.4" stroke="#555555" stroke-width="0.9" />
<line x1="189" y1="348.2" x2="189" y2="351.4" stroke="#555555" stroke-width="0.9" />
<line x1="217.3" y1="348.2" x2="217.3" y2="351.4" stroke="#555555" stroke-width="0.9" />
<line x1="36.24" y1="348.2" x2="36.24" y2="350" stroke="#555555" stroke-width="0.9" />
<line x1="38.98" y1="348.2" x2="38.98" y2="350" stroke="#555555" stroke-width="0.9" />
<line x1="41.22" y1="348.2" x2="41.22" y2="350" stroke="#555555" stroke-width="0.9" />
<line x1="43.12" y1="348.2" x2="43.12" y2="350" stroke="#555555" stroke-width="0.9" />
<line x1="44.76" y1="348.2" x2="44.76" y2="350" stroke="#555555" stroke-width="0.9" />
<line x1="46.21" y1="348.2" x2="46.21" y2="350" stroke="#555555" stroke-width="0.9" />
<line x1="56.02" y1="348.2" x2="56.02" y2="350" stroke="#555555" stroke-width="0.9" />
<line x1="61" y1="348.2" x2="61" y2="350" stroke="#555555" stroke-width="0.9" />
<line x1="64.54" y1="348.2" x2="64.54" y2="350" stroke="#555555" stroke-width="0.9" />
<line x1="67.28" y1="348.2" x2="67.28" y2="350" stroke="#555555" stroke-width="0.9" />
<line x1="69.52" y1="348.2" x2="69.52" y2="350" stroke="#555555" stroke-width="0.9" />
<line x1="71.42" y1="348.2" x2="71.42" y2="350" stroke="#555555" stroke-width="0.9" />
<line x1="73.06" y1="348.2" x2="73.06" y2="350" stroke="#555555" stroke-width="0.9" />
<line x1="74.51" y1="348.2" x2="74.51" y2="350" stroke="#555555" stroke-width="0.9" />
<line x1="84.32" y1="348.2" x2="84.32" y2="350" stroke="#555555" stroke-width="0.9" />
<line x1="89.3" y1="348.2" x2="89.3" y2="350" stroke="#555555" stroke-width="0.9" />
<line x1="92.84" y1="348.2" x2="92.84" y2="350" stroke="#555555" stroke-width="0.9" />
<line x1="95.58" y1="348.2" x2="95.58" y2="350" stroke="#555555" stroke-width="0.9" />
<line x1="97.82" y1="348.2" x2="97.82" y2="350" stroke="#555555" stroke-width="0.9" />
<line x1="99.72" y1="348.2" x2="99.72" y2="350" stroke="#555555" stroke-width="0.9" />
<line x1="101.36" y1="348.2" x2="101.36" y2="350" stroke="#555555" stroke-width="0.9" />
<line x1="102.81" y1="348.2" x2="102.81" y2="350" stroke="#555555" stroke-width="0.9" />
<line x1="112.62" y1="348.2" x2="112.62" y2="350" stroke="#555555" stroke-width="0.9" />
<line x1="117.6" y1="348.2" x2="117.6" y2="350" stroke="#555555" stroke-width="0.9" />
<line x1="121.14" y1="348.2" x2="121.14" y2="350" stroke="#555555" stroke-width="0.9" />
<line x1="123.88" y1="348.2" x2="123.88" y2="350" stroke="#555555" stroke-width="0.9" />
<line x1="126.12" y1="348.2" x2="126.12" y2="350" stroke="#555555" stroke-width="0.9" />
<line x1="128.02" y1="348.2" x2="128.02" y2="350" stroke="#555555" stroke-width="0.9" />
<line x1="129.66" y1="348.2" x2="129.66" y2="350" stroke="#555555" stroke-width="0.9" />
<line x1="131.11" y1="348.2" x2="131.11" y2="350" stroke="#555555" stroke-width="0.9" />
<line x1="140.92" y1="348.2" x2="140.92" y2="350" stroke="#555555" stroke-width="0.9" />
<line x1="145.9" y1="348.2" x2="145.9" y2="350" stroke="#555555" stroke-width="0.9" />
<line x1="149.44" y1="348.2" x2="149.44" y2="350" stroke="#555555" stroke-width="0.9" />
<line x1="152.18" y1="348.2" x2="152.18" y2="350" stroke="#555555" stroke-width="0.9" />
<line x1="154.42" y1="348.2" x2="154.42" y2="350" stroke="#555555" stroke-width="0.9" />
<line x1="156.32" y1="348.2" x2="156.32" y2="350" stroke="#555555" stroke-width="0.9" />
<line x1="157.96" y1="348.2" x2="157.96" y2="350" stroke="#555555" stroke-width="0.9" />
<line x1="159.41" y1="348.2" x2="159.41" y2="350" stroke="#555555" stroke-width="0.9" />
<line x1="169.22" y1="348.2" x2="169.22" y2="350" stroke="#555555" stroke-width="0.9" />
<line x1="174.2" y1="348.2" x2="174.2" y2="350" stroke="#555555" stroke-width="0.9" />
<line x1="177.74" y1="348.2" x2="177.74" y2="350" stroke="#555555" stroke-width="0.9" />
<line x1="180.48" y1="348.2" x2="180.48" y2="350" stroke="#555555" stroke-width="0.9" />
<line x1="182.72" y1="348.2" x2="182.72" y2="350" stroke="#555555" stroke-width="0.9" />
<line x1="184.62" y1="348.2" x2="184.62" y2="350" stroke="#555555" stroke-width="0.9" />
<line x1="186.26" y1="348.2" x2="186.26" y2="350" stroke="#555555" stroke-width="0.9" />
<line x1="187.71" y1="348.2" x2="187.71" y2="350" stroke="#555555" stroke-width="0.9" />
<line x1="197.52" y1="348.2" x2="197.52" y2="350" stroke="#555555" stroke-width="0.9" />
<line x1="202.5" y1="348.2" x2="202.5" y2="350" stroke="#555555" stroke-width="0.9" />
<line x1="206.04" y1="348.2" x2="206.04" y2="350" stroke="#555555" stroke-width="0.9" />
<line x1="208.78" y1="348.2" x2="208.78" y2="350" stroke="#555555" stroke-width="0.9" />
<line x1="211.02" y1="348.2" x2="211.02" y2="350" stroke="#555555" stroke-width="0.9" />
<line x1="212.92" y1="348.2" x2="212.92" y2="350" stroke="#555555" stroke-width="0.9" />
<line x1="214.56" y1="348.2" x2="214.56" y2="350" stroke="#555555" stroke-width="0.9" />
<line x1="216.01" y1="348.2" x2="216.01" y2="350" stroke="#555555" stroke-width="0.9" />
<text style="stroke:#1a1a1a;stroke-width:0.18px" transform="translate(28.8 350.3) scale(0.85 1)" font-size="7.3" text-anchor="end" fill="#1a1a1a" >-0.5</text>
<text style="stroke:#1a1a1a;stroke-width:0.18px" transform="translate(28.8 331.6) scale(0.85 1)" font-size="7.3" text-anchor="end" fill="#1a1a1a" >0.0</text>
<text style="stroke:#1a1a1a;stroke-width:0.18px" transform="translate(28.8 312.9) scale(0.85 1)" font-size="7.3" text-anchor="end" fill="#1a1a1a" >0.5</text>
<text style="stroke:#1a1a1a;stroke-width:0.18px" transform="translate(28.8 294.2) scale(0.85 1)" font-size="7.3" text-anchor="end" fill="#1a1a1a" >1.0</text>
<text style="stroke:#1a1a1a;stroke-width:0.18px" transform="translate(28.8 275.5) scale(0.85 1)" font-size="7.3" text-anchor="end" fill="#1a1a1a" >1.5</text>
<text style="stroke:#1a1a1a;stroke-width:0.18px" transform="translate(28.8 256.8) scale(0.85 1)" font-size="7.3" text-anchor="end" fill="#1a1a1a" >2.0</text>
<text style="stroke:#1a1a1a;stroke-width:0.18px" transform="translate(28.8 238.1) scale(0.85 1)" font-size="7.3" text-anchor="end" fill="#1a1a1a" >2.5</text>
<text style="stroke:#1a1a1a;stroke-width:0.18px" transform="translate(28.8 219.4) scale(0.85 1)" font-size="7.3" text-anchor="end" fill="#1a1a1a" >3.0</text>
<text style="stroke:#1a1a1a;stroke-width:0.18px" transform="translate(28.8 200.7) scale(0.85 1)" font-size="7.3" text-anchor="end" fill="#1a1a1a" >3.5</text>
<text style="stroke:#1a1a1a;stroke-width:0.18px" transform="translate(46.5 359) scale(0.85 1)" font-size="7.2" text-anchor="middle" fill="#1a1a1a">10<tspan dy="-2.9" font-size="5">0</tspan></text>
<text style="stroke:#1a1a1a;stroke-width:0.18px" transform="translate(74.8 359) scale(0.85 1)" font-size="7.2" text-anchor="middle" fill="#1a1a1a">10<tspan dy="-2.9" font-size="5">1</tspan></text>
<text style="stroke:#1a1a1a;stroke-width:0.18px" transform="translate(103.1 359) scale(0.85 1)" font-size="7.2" text-anchor="middle" fill="#1a1a1a">10<tspan dy="-2.9" font-size="5">2</tspan></text>
<text style="stroke:#1a1a1a;stroke-width:0.18px" transform="translate(131.4 359) scale(0.85 1)" font-size="7.2" text-anchor="middle" fill="#1a1a1a">10<tspan dy="-2.9" font-size="5">3</tspan></text>
<text style="stroke:#1a1a1a;stroke-width:0.18px" transform="translate(159.7 359) scale(0.85 1)" font-size="7.2" text-anchor="middle" fill="#1a1a1a">10<tspan dy="-2.9" font-size="5">4</tspan></text>
<text style="stroke:#1a1a1a;stroke-width:0.18px" transform="translate(188 359) scale(0.85 1)" font-size="7.2" text-anchor="middle" fill="#1a1a1a">10<tspan dy="-2.9" font-size="5">5</tspan></text>
<text style="stroke:#1a1a1a;stroke-width:0.18px" transform="translate(216.3 359) scale(0.85 1)" font-size="7.2" text-anchor="middle" fill="#1a1a1a">10<tspan dy="-2.9" font-size="5">6</tspan></text>
<text style="stroke:#1a1a1a;stroke-width:0.18px" x="126" y="368.2" font-size="7.6" text-anchor="middle" fill="#1a1a1a" >Freq (Hz)</text>
<text style="stroke:#1a1a1a;stroke-width:0.18px" x="13.9" y="274.6" font-size="8.4" text-anchor="middle" fill="#1a1a1a" transform="rotate(-90 13.9 274.6)">C&#8243;</text>
<text style="stroke:#1a1a1a;stroke-width:0px" x="4.2" y="217" font-size="15.8" text-anchor="start" fill="#1a1a1a" >d)</text>
<text style="stroke:#111;stroke-width:0px" transform="translate(160.5 283.6) scale(0.935 1)" font-size="13.5" fill="#111">&#964;<tspan dy="3" font-size="9.5">0</tspan><tspan dy="-3">=0.97 s</tspan></text>
<rect x="265.3" y="201.8" width="186.5" height="149.5" fill="none" stroke="#555555" stroke-width="1.05"/>
<line x1="283.9" y1="201.8" x2="283.9" y2="203.3" stroke="#555555" stroke-width="0.9" />
<line x1="302.5" y1="201.8" x2="302.5" y2="204.6" stroke="#555555" stroke-width="0.9" />
<line x1="321.1" y1="201.8" x2="321.1" y2="203.3" stroke="#555555" stroke-width="0.9" />
<line x1="339.7" y1="201.8" x2="339.7" y2="204.6" stroke="#555555" stroke-width="0.9" />
<line x1="358.3" y1="201.8" x2="358.3" y2="203.3" stroke="#555555" stroke-width="0.9" />
<line x1="376.9" y1="201.8" x2="376.9" y2="204.6" stroke="#555555" stroke-width="0.9" />
<line x1="395.5" y1="201.8" x2="395.5" y2="203.3" stroke="#555555" stroke-width="0.9" />
<line x1="414.1" y1="201.8" x2="414.1" y2="204.6" stroke="#555555" stroke-width="0.9" />
<line x1="432.7" y1="201.8" x2="432.7" y2="203.3" stroke="#555555" stroke-width="0.9" />
<line x1="449.6" y1="216.9" x2="451.8" y2="216.9" stroke="#555555" stroke-width="0.9" />
<line x1="449.6" y1="232" x2="451.8" y2="232" stroke="#555555" stroke-width="0.9" />
<line x1="449.6" y1="247.1" x2="451.8" y2="247.1" stroke="#555555" stroke-width="0.9" />
<line x1="449.6" y1="262.2" x2="451.8" y2="262.2" stroke="#555555" stroke-width="0.9" />
<line x1="449.6" y1="277.3" x2="451.8" y2="277.3" stroke="#555555" stroke-width="0.9" />
<line x1="449.6" y1="292.4" x2="451.8" y2="292.4" stroke="#555555" stroke-width="0.9" />
<line x1="449.6" y1="307.5" x2="451.8" y2="307.5" stroke="#555555" stroke-width="0.9" />
<line x1="449.6" y1="322.6" x2="451.8" y2="322.6" stroke="#555555" stroke-width="0.9" />
<line x1="449.6" y1="337.7" x2="451.8" y2="337.7" stroke="#555555" stroke-width="0.9" />
<line x1="262.1" y1="351.25" x2="265.3" y2="351.25" stroke="#555555" stroke-width="0.9" />
<line x1="262.1" y1="317.92" x2="265.3" y2="317.92" stroke="#555555" stroke-width="0.9" />
<line x1="262.1" y1="284.58" x2="265.3" y2="284.58" stroke="#555555" stroke-width="0.9" />
<line x1="262.1" y1="251.25" x2="265.3" y2="251.25" stroke="#555555" stroke-width="0.9" />
<line x1="262.1" y1="217.91" x2="265.3" y2="217.91" stroke="#555555" stroke-width="0.9" />
<line x1="263.5" y1="334.58" x2="265.3" y2="334.58" stroke="#555555" stroke-width="0.9" />
<line x1="263.5" y1="301.25" x2="265.3" y2="301.25" stroke="#555555" stroke-width="0.9" />
<line x1="263.5" y1="267.91" x2="265.3" y2="267.91" stroke="#555555" stroke-width="0.9" />
<line x1="263.5" y1="234.58" x2="265.3" y2="234.58" stroke="#555555" stroke-width="0.9" />
<line x1="277.03" y1="351.3" x2="277.03" y2="354.5" stroke="#555555" stroke-width="0.9" />
<line x1="296.06" y1="351.3" x2="296.06" y2="354.5" stroke="#555555" stroke-width="0.9" />
<line x1="315.09" y1="351.3" x2="315.09" y2="354.5" stroke="#555555" stroke-width="0.9" />
<line x1="334.12" y1="351.3" x2="334.12" y2="354.5" stroke="#555555" stroke-width="0.9" />
<line x1="353.15" y1="351.3" x2="353.15" y2="354.5" stroke="#555555" stroke-width="0.9" />
<line x1="372.18" y1="351.3" x2="372.18" y2="354.5" stroke="#555555" stroke-width="0.9" />
<line x1="391.21" y1="351.3" x2="391.21" y2="354.5" stroke="#555555" stroke-width="0.9" />
<line x1="410.24" y1="351.3" x2="410.24" y2="354.5" stroke="#555555" stroke-width="0.9" />
<line x1="429.27" y1="351.3" x2="429.27" y2="354.5" stroke="#555555" stroke-width="0.9" />
<line x1="448.3" y1="351.3" x2="448.3" y2="354.5" stroke="#555555" stroke-width="0.9" />
<line x1="267.51" y1="351.3" x2="267.51" y2="353.1" stroke="#555555" stroke-width="0.9" />
<line x1="286.55" y1="351.3" x2="286.55" y2="353.1" stroke="#555555" stroke-width="0.9" />
<line x1="305.57" y1="351.3" x2="305.57" y2="353.1" stroke="#555555" stroke-width="0.9" />
<line x1="324.61" y1="351.3" x2="324.61" y2="353.1" stroke="#555555" stroke-width="0.9" />
<line x1="343.63" y1="351.3" x2="343.63" y2="353.1" stroke="#555555" stroke-width="0.9" />
<line x1="362.66" y1="351.3" x2="362.66" y2="353.1" stroke="#555555" stroke-width="0.9" />
<line x1="381.69" y1="351.3" x2="381.69" y2="353.1" stroke="#555555" stroke-width="0.9" />
<line x1="400.73" y1="351.3" x2="400.73" y2="353.1" stroke="#555555" stroke-width="0.9" />
<line x1="419.75" y1="351.3" x2="419.75" y2="353.1" stroke="#555555" stroke-width="0.9" />
<line x1="438.78" y1="351.3" x2="438.78" y2="353.1" stroke="#555555" stroke-width="0.9" />
<text style="stroke:#1a1a1a;stroke-width:0.18px" transform="translate(260.7 353.35) scale(0.85 1)" font-size="7.3" text-anchor="end" fill="#1a1a1a" >0%</text>
<text style="stroke:#1a1a1a;stroke-width:0.18px" transform="translate(260.7 320.02) scale(0.85 1)" font-size="7.3" text-anchor="end" fill="#1a1a1a" >20%</text>
<text style="stroke:#1a1a1a;stroke-width:0.18px" transform="translate(260.7 286.68) scale(0.85 1)" font-size="7.3" text-anchor="end" fill="#1a1a1a" >40%</text>
<text style="stroke:#1a1a1a;stroke-width:0.18px" transform="translate(260.7 253.35) scale(0.85 1)" font-size="7.3" text-anchor="end" fill="#1a1a1a" >60%</text>
<text style="stroke:#1a1a1a;stroke-width:0.18px" transform="translate(260.7 220.01) scale(0.85 1)" font-size="7.3" text-anchor="end" fill="#1a1a1a" >80%</text>
<text style="stroke:#1a1a1a;stroke-width:0.18px" transform="translate(277.03 360.8) scale(0.85 1)" font-size="7.3" text-anchor="middle" fill="#1a1a1a" >500</text>
<text style="stroke:#1a1a1a;stroke-width:0.18px" transform="translate(296.06 360.8) scale(0.85 1)" font-size="7.3" text-anchor="middle" fill="#1a1a1a" >1000</text>
<text style="stroke:#1a1a1a;stroke-width:0.18px" transform="translate(315.09 360.8) scale(0.85 1)" font-size="7.3" text-anchor="middle" fill="#1a1a1a" >1500</text>
<text style="stroke:#1a1a1a;stroke-width:0.18px" transform="translate(334.12 360.8) scale(0.85 1)" font-size="7.3" text-anchor="middle" fill="#1a1a1a" >2000</text>
<text style="stroke:#1a1a1a;stroke-width:0.18px" transform="translate(353.15 360.8) scale(0.85 1)" font-size="7.3" text-anchor="middle" fill="#1a1a1a" >2500</text>
<text style="stroke:#1a1a1a;stroke-width:0.18px" transform="translate(372.18 360.8) scale(0.85 1)" font-size="7.3" text-anchor="middle" fill="#1a1a1a" >3000</text>
<text style="stroke:#1a1a1a;stroke-width:0.18px" transform="translate(391.21 360.8) scale(0.85 1)" font-size="7.3" text-anchor="middle" fill="#1a1a1a" >3500</text>
<text style="stroke:#1a1a1a;stroke-width:0.18px" transform="translate(410.24 360.8) scale(0.85 1)" font-size="7.3" text-anchor="middle" fill="#1a1a1a" >4000</text>
<text style="stroke:#1a1a1a;stroke-width:0.18px" transform="translate(429.27 360.8) scale(0.85 1)" font-size="7.3" text-anchor="middle" fill="#1a1a1a" >4500</text>
<text style="stroke:#1a1a1a;stroke-width:0.18px" transform="translate(448.3 360.8) scale(0.85 1)" font-size="7.3" text-anchor="middle" fill="#1a1a1a" >5000</text>
<text style="stroke:#1a1a1a;stroke-width:0.18px" x="358.2" y="372.8" font-size="8.0" text-anchor="middle" fill="#1a1a1a" >Cycles</text>
<text style="stroke:#1a1a1a;stroke-width:0.18px" x="243.6" y="277.4" font-size="7.9" text-anchor="middle" fill="#1a1a1a" transform="rotate(-90 243.6 277.4)">Capacitance retention (%)</text>
<text style="stroke:#1a1a1a;stroke-width:0px" x="233" y="216" font-size="16.5" text-anchor="start" fill="#1a1a1a" >e)</text>
<circle cx="269.42" cy="207.9" r="2.1" fill="#ff1a1a"/>
<circle cx="280.84" cy="212.1" r="2.1" fill="#ff1a1a"/>
<circle cx="296.06" cy="212.7" r="2.1" fill="#ff1a1a"/>
<circle cx="315.09" cy="213" r="2.1" fill="#ff1a1a"/>
<circle cx="334.12" cy="215.2" r="2.1" fill="#ff1a1a"/>
<circle cx="353.15" cy="215.5" r="2.1" fill="#ff1a1a"/>
<circle cx="372.18" cy="215.5" r="2.1" fill="#ff1a1a"/>
<circle cx="410.24" cy="216" r="2.1" fill="#ff1a1a"/>
<circle cx="448.3" cy="216.5" r="2.1" fill="#ff1a1a"/>
<rect x="292.4" y="222.2" width="133.3" height="107.6" fill="#fff" stroke="#555555" stroke-width="0.8"/>
<polyline points="305.1,321.45 305.2,320.63 305.3,319.81 305.4,318.99 305.51,318.19 305.63,317.4 305.75,316.69 305.87,315.99 306,315.3 306.14,314.63 306.29,313.98 306.43,313.42 306.58,312.87 306.74,312.34 306.9,311.81 307.08,311.28 307.27,310.74 307.48,310.2 307.69,309.66 307.91,309.12 308.14,308.58 308.36,308.04 308.6,307.5 308.84,306.96 309.08,306.42 309.32,305.88 309.58,305.32 309.83,304.78 310.09,304.23 310.36,303.64 310.64,303 311.07,302.01 311.54,300.92 312.02,299.77 312.52,298.59 313.02,297.42 313.56,296.17 314.1,294.93 314.65,293.66 315.26,292.31 315.92,290.85 317.02,288.54 318.25,286 319.57,283.32 320.92,280.56 322.26,277.8 323.7,274.74 325.14,271.59 326.61,268.39 328.15,265.2 329.78,262.05 331.61,258.8 333.57,255.51 335.58,252.27 337.55,249.17 339.42,246.3 340.81,244.17 342.16,242.11 343.47,240.17 344.76,238.4 346.02,236.85 346.89,235.9 347.75,235.06 348.6,234.3 349.43,233.62 350.24,232.98 350.92,232.42 351.62,231.83 352.29,231.31 352.9,231 353.41,231 353.88,231.77 354.09,233.26 354.17,235.18 354.29,237.22 354.6,239.1 355.19,241.07 355.91,243.05 356.75,245.08 357.68,247.2 358.69,249.45 360.25,252.75 362.03,256.3 363.96,260.01 365.95,263.76 367.93,267.45 369.99,271.22 372.13,275.02 374.29,278.82 376.42,282.6 378.49,286.35 380.39,289.9 382.22,293.43 384.04,296.93 385.86,300.42 387.73,303.9 389.65,307.34 391.6,310.77 393.57,314.18 395.54,317.59 397.5,321" fill="none" stroke="#333333" stroke-width="1.1" stroke-linejoin="round" stroke-linecap="round" />
<polyline points="305.1,321.45 305.19,320.63 305.29,319.81 305.38,318.99 305.48,318.19 305.59,317.4 305.69,316.69 305.81,315.99 305.93,315.3 306.05,314.63 306.19,313.98 306.32,313.42 306.46,312.87 306.6,312.34 306.76,311.81 306.92,311.28 307.1,310.74 307.29,310.2 307.48,309.66 307.69,309.12 307.89,308.58 308.1,308.04 308.32,307.5 308.54,306.96 308.76,306.42 308.98,305.88 309.22,305.32 309.45,304.78 309.69,304.23 309.93,303.64 310.2,303 310.59,302.01 311.02,300.92 311.46,299.77 311.92,298.59 312.38,297.42 312.88,296.17 313.37,294.93 313.89,293.66 314.44,292.31 315.05,290.85 316.06,288.54 317.19,286 318.4,283.32 319.65,280.56 320.88,277.8 322.2,274.74 323.53,271.59 324.88,268.39 326.3,265.2 327.8,262.05 329.48,258.81 331.28,255.52 333.13,252.28 334.95,249.17 336.66,246.3 337.94,244.17 339.18,242.11 340.39,240.17 341.57,238.4 342.73,236.85 343.53,235.91 344.32,235.07 345.1,234.31 345.86,233.62 346.62,232.98 347.24,232.43 347.88,231.84 348.5,231.33 349.06,231.01 349.53,231 349.99,231.75 350.19,233.24 350.28,235.16 350.41,237.22 350.72,239.1 351.31,241.07 352.03,243.05 352.87,245.08 353.8,247.2 354.81,249.45 356.37,252.75 358.15,256.3 360.08,260.01 362.07,263.76 364.05,267.45 366.11,271.22 368.25,275.02 370.4,278.82 372.54,282.6 374.61,286.35 376.55,289.89 378.47,293.4 380.34,296.89 382.15,300.39 383.85,303.9 385.37,307.31 386.79,310.73 388.14,314.15 389.48,317.58 390.85,321" fill="none" stroke="#d8a8a8" stroke-width="1.1" stroke-linejoin="round" stroke-linecap="round" />
<polyline points="305.1,321.45 305.2,320.63 305.29,319.81 305.38,318.99 305.48,318.19 305.59,317.4 305.7,316.69 305.82,315.99 305.94,315.3 306.07,314.63 306.21,313.98 306.34,313.42 306.48,312.87 306.62,312.34 306.78,311.81 306.94,311.28 307.12,310.74 307.31,310.2 307.51,309.66 307.72,309.12 307.93,308.58 308.14,308.04 308.36,307.5 308.58,306.96 308.81,306.42 309.03,305.88 309.27,305.32 309.5,304.78 309.74,304.23 310,303.64 310.26,303 310.66,302.01 311.09,300.92 311.54,299.77 312.01,298.59 312.47,297.42 312.98,296.17 313.48,294.93 314,293.66 314.56,292.31 315.18,290.85 316.2,288.54 317.34,286 318.57,283.32 319.83,280.56 321.08,277.8 322.42,274.74 323.76,271.59 325.13,268.39 326.56,265.2 328.08,262.05 329.78,258.81 331.61,255.52 333.48,252.28 335.32,249.17 337.06,246.3 338.35,244.17 339.6,242.11 340.83,240.17 342.03,238.4 343.2,236.85 344.01,235.91 344.81,235.06 345.6,234.31 346.37,233.62 347.14,232.98 347.76,232.43 348.41,231.84 349.04,231.33 349.61,231.01 350.09,231 350.54,231.75 350.74,233.24 350.83,235.17 350.96,237.22 351.27,239.1 351.87,241.07 352.59,243.05 353.42,245.08 354.35,247.2 355.37,249.45 356.92,252.75 358.71,256.3 360.64,260.01 362.63,263.76 364.61,267.45 366.67,271.22 368.8,275.02 370.96,278.82 373.1,282.6 375.17,286.35 377.09,289.89 379,293.4 380.87,296.9 382.68,300.39 384.41,303.9 385.98,307.31 387.47,310.73 388.91,314.16 390.34,317.58 391.8,321" fill="none" stroke="#1fd0d8" stroke-width="1.1" stroke-linejoin="round" stroke-linecap="round" />
<polyline points="305.1,321.45 305.2,320.63 305.29,319.81 305.39,318.99 305.49,318.19 305.6,317.4 305.72,316.69 305.83,315.99 305.96,315.3 306.09,314.63 306.23,313.98 306.37,313.42 306.51,312.87 306.66,312.34 306.82,311.81 306.99,311.28 307.17,310.74 307.37,310.2 307.57,309.66 307.78,309.12 308,308.58 308.21,308.04 308.44,307.5 308.67,306.96 308.9,306.42 309.13,305.88 309.37,305.32 309.61,304.78 309.86,304.23 310.12,303.64 310.39,303 310.8,302.01 311.24,300.92 311.7,299.77 312.18,298.59 312.66,297.42 313.17,296.17 313.68,294.93 314.22,293.66 314.79,292.31 315.43,290.85 316.47,288.54 317.64,286 318.9,283.32 320.19,280.56 321.47,277.8 322.84,274.74 324.22,271.59 325.63,268.39 327.09,265.2 328.65,262.05 330.39,258.81 332.26,255.52 334.18,252.28 336.06,249.17 337.84,246.3 339.17,244.17 340.46,242.11 341.71,240.17 342.94,238.4 344.14,236.85 344.97,235.91 345.79,235.06 346.6,234.31 347.39,233.62 348.17,232.98 348.82,232.43 349.48,231.83 350.12,231.32 350.71,231 351.19,231 351.66,231.76 351.86,233.25 351.95,235.17 352.07,237.22 352.38,239.1 352.98,241.07 353.7,243.05 354.53,245.08 355.46,247.2 356.47,249.45 358.03,252.75 359.82,256.3 361.74,260.01 363.74,263.76 365.71,267.45 367.78,271.22 369.91,275.02 372.07,278.82 374.21,282.6 376.27,286.35 378.19,289.89 380.07,293.41 381.92,296.91 383.74,300.4 385.51,303.9 387.2,307.32 388.85,310.74 390.47,314.16 392.08,317.58 393.7,321" fill="none" stroke="#c77cf2" stroke-width="1.1" stroke-linejoin="round" stroke-linecap="round" />
<polyline points="305.1,321.45 305.2,320.63 305.29,319.81 305.39,318.99 305.49,318.19 305.6,317.4 305.71,316.69 305.82,315.99 305.95,315.3 306.08,314.63 306.22,313.98 306.35,313.42 306.49,312.87 306.64,312.34 306.8,311.81 306.97,311.28 307.15,310.74 307.34,310.2 307.54,309.66 307.75,309.12 307.96,308.58 308.18,308.04 308.4,307.5 308.62,306.96 308.85,306.42 309.08,305.88 309.32,305.32 309.56,304.78 309.8,304.23 310.06,303.64 310.33,303 310.73,302.01 311.17,300.92 311.62,299.77 312.09,298.59 312.57,297.42 313.07,296.17 313.58,294.93 314.11,293.66 314.67,292.31 315.3,290.85 316.33,288.54 317.49,286 318.74,283.32 320.01,280.56 321.28,277.8 322.63,274.74 323.99,271.59 325.38,268.39 326.83,265.2 328.37,262.05 330.09,258.81 331.93,255.52 333.83,252.28 335.69,249.17 337.45,246.3 338.76,244.17 340.03,242.11 341.27,240.17 342.48,238.4 343.67,236.85 344.49,235.91 345.3,235.06 346.1,234.31 346.88,233.62 347.65,232.98 348.29,232.43 348.95,231.84 349.58,231.32 350.16,231.01 350.64,231 351.1,231.75 351.3,233.24 351.39,235.17 351.52,237.22 351.83,239.1 352.42,241.07 353.14,243.05 353.97,245.08 354.9,247.2 355.92,249.45 357.48,252.75 359.26,256.3 361.19,260.01 363.18,263.76 365.16,267.45 367.22,271.22 369.36,275.02 371.51,278.82 373.65,282.6 375.72,286.35 377.64,289.89 379.54,293.41 381.4,296.9 383.21,300.4 384.96,303.9 386.59,307.32 388.16,310.74 389.69,314.16 391.21,317.58 392.75,321" fill="none" stroke="#e5a00d" stroke-width="1.1" stroke-linejoin="round" stroke-linecap="round" />
<polyline points="305.1,321.45 305.2,320.63 305.3,319.81 305.4,318.99 305.5,318.19 305.62,317.4 305.73,316.69 305.85,315.99 305.98,315.3 306.11,314.63 306.26,313.98 306.4,313.42 306.55,312.87 306.7,312.34 306.86,311.81 307.03,311.28 307.22,310.74 307.42,310.2 307.63,309.66 307.85,309.12 308.07,308.58 308.29,308.04 308.52,307.5 308.75,306.96 308.99,306.42 309.23,305.88 309.47,305.32 309.72,304.78 309.97,304.23 310.24,303.64 310.52,303 310.94,302.01 311.39,300.92 311.86,299.77 312.35,298.59 312.84,297.42 313.36,296.17 313.89,294.93 314.43,293.66 315.02,292.31 315.68,290.85 316.74,288.54 317.95,286 319.23,283.32 320.56,280.56 321.87,277.8 323.27,274.74 324.68,271.59 326.12,268.39 327.62,265.2 329.22,262.05 331,258.8 332.91,255.52 334.88,252.27 336.81,249.17 338.63,246.3 339.99,244.17 341.31,242.11 342.59,240.17 343.85,238.4 345.08,236.85 345.93,235.9 346.77,235.06 347.6,234.31 348.41,233.62 349.21,232.98 349.87,232.42 350.55,231.83 351.21,231.32 351.81,231 352.3,231 352.77,231.76 352.97,233.25 353.06,235.17 353.18,237.22 353.49,239.1 354.09,241.07 354.81,243.05 355.64,245.08 356.57,247.2 357.58,249.45 359.14,252.75 360.93,256.3 362.85,260.01 364.85,263.76 366.82,267.45 368.88,271.22 371.02,275.02 373.18,278.82 375.31,282.6 377.38,286.35 379.29,289.9 381.15,293.42 382.98,296.92 384.8,300.41 386.62,303.9 388.43,307.33 390.22,310.76 392.02,314.17 393.81,317.58 395.6,321" fill="none" stroke="#1a6cff" stroke-width="1.1" stroke-linejoin="round" stroke-linecap="round" />
<polyline points="305.1,321.45 305.2,320.63 305.29,319.81 305.39,318.99 305.5,318.19 305.61,317.4 305.72,316.69 305.84,315.99 305.97,315.3 306.1,314.63 306.25,313.98 306.38,313.42 306.53,312.87 306.68,312.34 306.84,311.81 307.01,311.28 307.2,310.74 307.4,310.2 307.6,309.66 307.82,309.12 308.03,308.58 308.25,308.04 308.48,307.5 308.71,306.96 308.94,306.42 309.18,305.88 309.42,305.32 309.67,304.78 309.92,304.23 310.18,303.64 310.45,303 310.87,302.01 311.31,300.92 311.78,299.77 312.26,298.59 312.75,297.42 313.27,296.17 313.79,294.93 314.32,293.66 314.91,292.31 315.55,290.85 316.61,288.54 317.8,286 319.07,283.32 320.37,280.56 321.67,277.8 323.06,274.74 324.45,271.59 325.87,268.39 327.36,265.2 328.93,262.05 330.7,258.8 332.59,255.52 334.53,252.28 336.44,249.17 338.24,246.3 339.58,244.17 340.88,242.11 342.15,240.17 343.39,238.4 344.61,236.85 345.45,235.9 346.28,235.06 347.1,234.31 347.9,233.62 348.69,232.98 349.34,232.42 350.01,231.83 350.67,231.32 351.26,231 351.75,231 352.21,231.76 352.41,233.25 352.5,235.17 352.63,237.22 352.94,239.1 353.53,241.07 354.25,243.05 355.08,245.08 356.01,247.2 357.03,249.45 358.59,252.75 360.37,256.3 362.3,260.01 364.29,263.76 366.27,267.45 368.33,271.22 370.46,275.02 372.62,278.82 374.76,282.6 376.83,286.35 378.74,289.9 380.61,293.41 382.45,296.92 384.27,300.41 386.07,303.9 387.82,307.33 389.54,310.75 391.24,314.17 392.94,317.58 394.65,321" fill="none" stroke="#10a85a" stroke-width="1.1" stroke-linejoin="round" stroke-linecap="round" />
<polyline points="305.1,321.45 305.19,320.63 305.28,319.81 305.37,318.99 305.47,318.19 305.58,317.4 305.69,316.69 305.8,315.99 305.92,315.3 306.04,314.63 306.18,313.98 306.31,313.42 306.44,312.87 306.59,312.34 306.74,311.81 306.9,311.28 307.07,310.74 307.26,310.2 307.45,309.66 307.65,309.12 307.86,308.58 308.06,308.04 308.28,307.5 308.49,306.96 308.71,306.42 308.94,305.88 309.17,305.32 309.4,304.78 309.63,304.23 309.87,303.64 310.14,303 310.53,302.01 310.94,300.92 311.38,299.77 311.84,298.59 312.29,297.42 312.78,296.17 313.27,294.93 313.78,293.66 314.32,292.31 314.93,290.85 315.92,288.54 317.04,286 318.24,283.32 319.47,280.56 320.68,277.8 321.99,274.74 323.3,271.59 324.64,268.4 326.03,265.2 327.52,262.05 329.18,258.81 330.95,255.52 332.78,252.28 334.57,249.17 336.27,246.3 337.53,244.17 338.75,242.11 339.95,240.17 341.11,238.4 342.26,236.85 343.05,235.91 343.83,235.07 344.6,234.31 345.35,233.62 346.1,232.98 346.71,232.43 347.34,231.84 347.95,231.33 348.51,231.01 348.98,231 349.43,231.75 349.63,233.24 349.72,235.16 349.85,237.22 350.16,239.1 350.76,241.07 351.48,243.05 352.31,245.08 353.24,247.2 354.26,249.45 355.82,252.75 357.6,256.3 359.53,260.01 361.52,263.76 363.5,267.45 365.56,271.22 367.69,275.02 369.85,278.82 371.99,282.6 374.06,286.35 376,289.89 377.93,293.4 379.82,296.89 381.62,300.38 383.3,303.9 384.76,307.31 386.1,310.72 387.36,314.15 388.61,317.58 389.9,321" fill="none" stroke="#8a9a2a" stroke-width="1.1" stroke-linejoin="round" stroke-linecap="round" />
<polyline points="305.1,321.45 305.2,320.63 305.3,319.81 305.4,318.99 305.51,318.19 305.62,317.4 305.74,316.69 305.86,315.99 305.99,315.3 306.13,314.63 306.27,313.98 306.42,313.42 306.56,312.87 306.72,312.34 306.88,311.81 307.06,311.28 307.25,310.74 307.45,310.2 307.66,309.66 307.88,309.12 308.1,308.58 308.33,308.04 308.56,307.5 308.79,306.96 309.03,306.42 309.28,305.88 309.53,305.32 309.78,304.78 310.03,304.23 310.3,303.64 310.58,303 311.01,302.01 311.46,300.92 311.94,299.77 312.43,298.59 312.93,297.42 313.46,296.17 313.99,294.93 314.54,293.66 315.14,292.31 315.8,290.85 316.88,288.54 318.1,286 319.4,283.32 320.74,280.56 322.06,277.8 323.48,274.74 324.91,271.59 326.37,268.39 327.89,265.2 329.5,262.05 331.31,258.8 333.24,255.51 335.23,252.27 337.18,249.17 339.03,246.3 340.4,244.17 341.73,242.11 343.03,240.17 344.3,238.4 345.55,236.85 346.41,235.9 347.26,235.06 348.1,234.3 348.92,233.62 349.73,232.98 350.4,232.42 351.08,231.83 351.75,231.31 352.35,231 352.86,231 353.33,231.76 353.53,233.25 353.62,235.17 353.74,237.22 354.05,239.1 354.64,241.07 355.36,243.05 356.19,245.08 357.12,247.2 358.14,249.45 359.7,252.75 361.48,256.3 363.41,260.01 365.4,263.76 367.38,267.45 369.44,271.22 371.57,275.02 373.73,278.82 375.87,282.6 377.94,286.35 379.84,289.9 381.68,293.42 383.51,296.93 385.33,300.42 387.18,303.9 389.04,307.34 390.91,310.76 392.79,314.17 394.67,317.58 396.55,321" fill="none" stroke="#ff2a2a" stroke-width="1.1" stroke-linejoin="round" stroke-linecap="round" />
<line x1="290" y1="321" x2="292.4" y2="321" stroke="#555555" stroke-width="0.6" />
<text style="stroke:#1a1a1a;stroke-width:0.06px" x="287.9" y="322.7" font-size="5.0" text-anchor="end" fill="#1a1a1a">0.0</text>
<line x1="290" y1="303" x2="292.4" y2="303" stroke="#555555" stroke-width="0.6" />
<text style="stroke:#1a1a1a;stroke-width:0.06px" x="287.9" y="304.7" font-size="5.0" text-anchor="end" fill="#1a1a1a">0.2</text>
<line x1="290" y1="285" x2="292.4" y2="285" stroke="#555555" stroke-width="0.6" />
<text style="stroke:#1a1a1a;stroke-width:0.06px" x="287.9" y="286.7" font-size="5.0" text-anchor="end" fill="#1a1a1a">0.4</text>
<line x1="290" y1="267" x2="292.4" y2="267" stroke="#555555" stroke-width="0.6" />
<text style="stroke:#1a1a1a;stroke-width:0.06px" x="287.9" y="268.7" font-size="5.0" text-anchor="end" fill="#1a1a1a">0.6</text>
<line x1="290" y1="249" x2="292.4" y2="249" stroke="#555555" stroke-width="0.6" />
<text style="stroke:#1a1a1a;stroke-width:0.06px" x="287.9" y="250.7" font-size="5.0" text-anchor="end" fill="#1a1a1a">0.8</text>
<line x1="290" y1="231" x2="292.4" y2="231" stroke="#555555" stroke-width="0.6" />
<text style="stroke:#1a1a1a;stroke-width:0.06px" x="287.9" y="232.7" font-size="5.0" text-anchor="end" fill="#1a1a1a">1.0</text>
<line x1="291.4" y1="312" x2="292.4" y2="312" stroke="#555555" stroke-width="0.6" />
<line x1="291.4" y1="294" x2="292.4" y2="294" stroke="#555555" stroke-width="0.6" />
<line x1="291.4" y1="276" x2="292.4" y2="276" stroke="#555555" stroke-width="0.6" />
<line x1="291.4" y1="258" x2="292.4" y2="258" stroke="#555555" stroke-width="0.6" />
<line x1="291.4" y1="240" x2="292.4" y2="240" stroke="#555555" stroke-width="0.6" />
<line x1="424.2" y1="321" x2="425.7" y2="321" stroke="#555555" stroke-width="0.6" />
<line x1="424.2" y1="303" x2="425.7" y2="303" stroke="#555555" stroke-width="0.6" />
<line x1="424.2" y1="285" x2="425.7" y2="285" stroke="#555555" stroke-width="0.6" />
<line x1="424.2" y1="267" x2="425.7" y2="267" stroke="#555555" stroke-width="0.6" />
<line x1="424.2" y1="249" x2="425.7" y2="249" stroke="#555555" stroke-width="0.6" />
<line x1="424.2" y1="231" x2="425.7" y2="231" stroke="#555555" stroke-width="0.6" />
<line x1="291.9" y1="329.8" x2="291.9" y2="331.6" stroke="#555555" stroke-width="0.6" />
<line x1="291.9" y1="222.2" x2="291.9" y2="223.7" stroke="#555555" stroke-width="0.6" />
<text style="stroke:#1a1a1a;stroke-width:0.06px" x="291.9" y="337" font-size="5.0" text-anchor="middle" fill="#1a1a1a">-10</text>
<line x1="305.1" y1="329.8" x2="305.1" y2="331.6" stroke="#555555" stroke-width="0.6" />
<line x1="305.1" y1="222.2" x2="305.1" y2="223.7" stroke="#555555" stroke-width="0.6" />
<text style="stroke:#1a1a1a;stroke-width:0.06px" x="305.1" y="337" font-size="5.0" text-anchor="middle" fill="#1a1a1a">0</text>
<line x1="318.3" y1="329.8" x2="318.3" y2="331.6" stroke="#555555" stroke-width="0.6" />
<line x1="318.3" y1="222.2" x2="318.3" y2="223.7" stroke="#555555" stroke-width="0.6" />
<text style="stroke:#1a1a1a;stroke-width:0.06px" x="318.3" y="337" font-size="5.0" text-anchor="middle" fill="#1a1a1a">10</text>
<line x1="331.5" y1="329.8" x2="331.5" y2="331.6" stroke="#555555" stroke-width="0.6" />
<line x1="331.5" y1="222.2" x2="331.5" y2="223.7" stroke="#555555" stroke-width="0.6" />
<text style="stroke:#1a1a1a;stroke-width:0.06px" x="331.5" y="337" font-size="5.0" text-anchor="middle" fill="#1a1a1a">20</text>
<line x1="344.7" y1="329.8" x2="344.7" y2="331.6" stroke="#555555" stroke-width="0.6" />
<line x1="344.7" y1="222.2" x2="344.7" y2="223.7" stroke="#555555" stroke-width="0.6" />
<text style="stroke:#1a1a1a;stroke-width:0.06px" x="344.7" y="337" font-size="5.0" text-anchor="middle" fill="#1a1a1a">30</text>
<line x1="357.9" y1="329.8" x2="357.9" y2="331.6" stroke="#555555" stroke-width="0.6" />
<line x1="357.9" y1="222.2" x2="357.9" y2="223.7" stroke="#555555" stroke-width="0.6" />
<text style="stroke:#1a1a1a;stroke-width:0.06px" x="357.9" y="337" font-size="5.0" text-anchor="middle" fill="#1a1a1a">40</text>
<line x1="371.1" y1="329.8" x2="371.1" y2="331.6" stroke="#555555" stroke-width="0.6" />
<line x1="371.1" y1="222.2" x2="371.1" y2="223.7" stroke="#555555" stroke-width="0.6" />
<text style="stroke:#1a1a1a;stroke-width:0.06px" x="371.1" y="337" font-size="5.0" text-anchor="middle" fill="#1a1a1a">50</text>
<line x1="384.3" y1="329.8" x2="384.3" y2="331.6" stroke="#555555" stroke-width="0.6" />
<line x1="384.3" y1="222.2" x2="384.3" y2="223.7" stroke="#555555" stroke-width="0.6" />
<text style="stroke:#1a1a1a;stroke-width:0.06px" x="384.3" y="337" font-size="5.0" text-anchor="middle" fill="#1a1a1a">60</text>
<line x1="397.5" y1="329.8" x2="397.5" y2="331.6" stroke="#555555" stroke-width="0.6" />
<line x1="397.5" y1="222.2" x2="397.5" y2="223.7" stroke="#555555" stroke-width="0.6" />
<text style="stroke:#1a1a1a;stroke-width:0.06px" x="397.5" y="337" font-size="5.0" text-anchor="middle" fill="#1a1a1a">70</text>
<line x1="410.7" y1="329.8" x2="410.7" y2="331.6" stroke="#555555" stroke-width="0.6" />
<line x1="410.7" y1="222.2" x2="410.7" y2="223.7" stroke="#555555" stroke-width="0.6" />
<text style="stroke:#1a1a1a;stroke-width:0.06px" x="410.7" y="337" font-size="5.0" text-anchor="middle" fill="#1a1a1a">80</text>
<line x1="423.9" y1="329.8" x2="423.9" y2="331.6" stroke="#555555" stroke-width="0.6" />
<line x1="423.9" y1="222.2" x2="423.9" y2="223.7" stroke="#555555" stroke-width="0.6" />
<text style="stroke:#1a1a1a;stroke-width:0.06px" x="423.9" y="337" font-size="5.0" text-anchor="middle" fill="#1a1a1a">90</text>
<text style="stroke:#1a1a1a;stroke-width:0.18px" x="358.4" y="345.5" font-size="5.6" text-anchor="middle" fill="#1a1a1a" >Times (S)</text>
<text style="stroke:#1a1a1a;stroke-width:0.06px" x="280" y="275.6" font-size="5.2" text-anchor="middle" fill="#1a1a1a" transform="rotate(-90 280 275.6)">E (V)</text>
<line x1="390.4" y1="229.9" x2="402.9" y2="229.9" stroke="#333333" stroke-width="1.1" />
<text style="stroke:#1a1a1a;stroke-width:0.06px" x="403.3" y="231.8" font-size="5.4" fill="#1a1a1a">300th</text>
<line x1="390.4" y1="236.8" x2="402.9" y2="236.8" stroke="#ff2a2a" stroke-width="1.1" />
<text style="stroke:#1a1a1a;stroke-width:0.06px" x="403.3" y="238.7" font-size="5.4" fill="#1a1a1a">600th</text>
<line x1="390.4" y1="243.7" x2="402.9" y2="243.7" stroke="#1a6cff" stroke-width="1.1" />
<text style="stroke:#1a1a1a;stroke-width:0.06px" x="403.3" y="245.6" font-size="5.4" fill="#1a1a1a">1000th</text>
<line x1="390.4" y1="250.6" x2="402.9" y2="250.6" stroke="#10a85a" stroke-width="1.1" />
<text style="stroke:#1a1a1a;stroke-width:0.06px" x="403.3" y="252.5" font-size="5.4" fill="#1a1a1a">1500th</text>
<line x1="390.4" y1="257.5" x2="402.9" y2="257.5" stroke="#c77cf2" stroke-width="1.1" />
<text style="stroke:#1a1a1a;stroke-width:0.06px" x="403.3" y="259.4" font-size="5.4" fill="#1a1a1a">2000th</text>
<line x1="390.4" y1="264.4" x2="402.9" y2="264.4" stroke="#e5a00d" stroke-width="1.1" />
<text style="stroke:#1a1a1a;stroke-width:0.06px" x="403.3" y="266.3" font-size="5.4" fill="#1a1a1a">2500th</text>
<line x1="390.4" y1="271.3" x2="402.9" y2="271.3" stroke="#1fd0d8" stroke-width="1.1" />
<text style="stroke:#1a1a1a;stroke-width:0.06px" x="403.3" y="273.2" font-size="5.4" fill="#1a1a1a">3000th</text>
<line x1="390.4" y1="278.2" x2="402.9" y2="278.2" stroke="#d8a8a8" stroke-width="1.1" />
<text style="stroke:#1a1a1a;stroke-width:0.06px" x="403.3" y="280.1" font-size="5.4" fill="#1a1a1a">4000th</text>
<line x1="390.4" y1="285.1" x2="402.9" y2="285.1" stroke="#8a9a2a" stroke-width="1.1" />
<text style="stroke:#1a1a1a;stroke-width:0.06px" x="403.3" y="287" font-size="5.4" fill="#1a1a1a">5000th</text>
<polyline points="521.9,299.1 554.86,286.3 598.44,269.4 631.4,256.75 664.36,245" fill="none" stroke="#ff2a2a" stroke-width="1.5" stroke-linejoin="round" stroke-linecap="round" />
<circle cx="521.9" cy="299.1" r="2.21" fill="#ff2a2a"/>
<circle cx="554.86" cy="286.3" r="2.21" fill="#ff2a2a"/>
<circle cx="598.44" cy="269.4" r="2.21" fill="#ff2a2a"/>
<circle cx="631.4" cy="256.75" r="2.21" fill="#ff2a2a"/>
<circle cx="664.36" cy="245" r="2.21" fill="#ff2a2a"/>
<polyline points="521.9,294 554.86,283.5 598.44,267.7 631.4,255 664.36,244" fill="none" stroke="#1a6cff" stroke-width="1.5" stroke-linejoin="round" stroke-linecap="round" />
<polygon points="521.9,291.58 524.21,295.79 519.59,295.79" fill="#1a6cff"/>
<polygon points="554.86,281.08 557.17,285.29 552.55,285.29" fill="#1a6cff"/>
<polygon points="598.44,265.28 600.75,269.49 596.13,269.49" fill="#1a6cff"/>
<polygon points="631.4,252.59 633.71,256.79 629.09,256.79" fill="#1a6cff"/>
<polygon points="664.36,241.59 666.67,245.78 662.05,245.78" fill="#1a6cff"/>
<polyline points="521.9,289.4 554.86,280.3 598.44,265.7 631.4,253.75 664.36,243.25" fill="none" stroke="#10a85a" stroke-width="1.5" stroke-linejoin="round" stroke-linecap="round" />
<polygon points="521.9,291.81 524.21,287.61 519.59,287.61" fill="#10a85a"/>
<polygon points="554.86,282.72 557.17,278.51 552.55,278.51" fill="#10a85a"/>
<polygon points="598.44,268.12 600.75,263.91 596.13,263.91" fill="#10a85a"/>
<polygon points="631.4,256.17 633.71,251.97 629.09,251.97" fill="#10a85a"/>
<polygon points="664.36,245.66 666.67,241.47 662.05,241.47" fill="#10a85a"/>
<polyline points="521.9,283.7 554.86,276.9 598.44,263.5 631.4,252.5 664.36,242.5" fill="none" stroke="#c77cf2" stroke-width="1.5" stroke-linejoin="round" stroke-linecap="round" />
<polygon points="521.9,281.18 524.42,283.7 521.9,286.22 519.38,283.7" fill="#c77cf2"/>
<polygon points="554.86,274.38 557.38,276.9 554.86,279.42 552.34,276.9" fill="#c77cf2"/>
<polygon points="598.44,260.98 600.96,263.5 598.44,266.02 595.92,263.5" fill="#c77cf2"/>
<polygon points="631.4,249.98 633.92,252.5 631.4,255.02 628.88,252.5" fill="#c77cf2"/>
<polygon points="664.36,239.98 666.88,242.5 664.36,245.02 661.84,242.5" fill="#c77cf2"/>
<polyline points="521.9,277.8 554.86,272.3 598.44,260.6 631.4,250.5 664.36,241.25" fill="none" stroke="#e5a00d" stroke-width="1.5" stroke-linejoin="round" stroke-linecap="round" />
<polygon points="519.49,277.8 523.68,275.49 523.68,280.11" fill="#e5a00d"/>
<polygon points="552.44,272.3 556.64,269.99 556.64,274.61" fill="#e5a00d"/>
<polygon points="596.03,260.6 600.23,258.29 600.23,262.91" fill="#e5a00d"/>
<polygon points="628.99,250.5 633.18,248.19 633.18,252.81" fill="#e5a00d"/>
<polygon points="661.94,241.25 666.14,238.94 666.14,243.56" fill="#e5a00d"/>
<polyline points="521.9,272.3 554.86,266.6 598.44,257.2 631.4,248 664.36,238.75" fill="none" stroke="#1fd0d8" stroke-width="1.5" stroke-linejoin="round" stroke-linecap="round" />
<polygon points="524.31,272.3 520.12,269.99 520.12,274.61" fill="#1fd0d8"/>
<polygon points="557.27,266.6 553.07,264.29 553.07,268.91" fill="#1fd0d8"/>
<polygon points="600.86,257.2 596.66,254.89 596.66,259.51" fill="#1fd0d8"/>
<polygon points="633.81,248 629.62,245.69 629.62,250.31" fill="#1fd0d8"/>
<polygon points="666.77,238.75 662.57,236.44 662.57,241.06" fill="#1fd0d8"/>
<polyline points="521.9,264.9 554.86,260.1 598.44,251.6 631.4,244.5 664.36,235.5" fill="none" stroke="#7b4040" stroke-width="1.5" stroke-linejoin="round" stroke-linecap="round" />
<circle cx="521.9" cy="264.9" r="2.21" fill="#7b4040"/>
<circle cx="554.86" cy="260.1" r="2.21" fill="#7b4040"/>
<circle cx="598.44" cy="251.6" r="2.21" fill="#7b4040"/>
<circle cx="631.4" cy="244.5" r="2.21" fill="#7b4040"/>
<circle cx="664.36" cy="235.5" r="2.21" fill="#7b4040"/>
<rect x="500.1" y="201.8" width="186.2" height="149.2" fill="none" stroke="#555555" stroke-width="1.05"/>
<line x1="518.7" y1="201.8" x2="518.7" y2="203.3" stroke="#555555" stroke-width="0.9" />
<line x1="537.3" y1="201.8" x2="537.3" y2="204.6" stroke="#555555" stroke-width="0.9" />
<line x1="555.9" y1="201.8" x2="555.9" y2="203.3" stroke="#555555" stroke-width="0.9" />
<line x1="574.5" y1="201.8" x2="574.5" y2="204.6" stroke="#555555" stroke-width="0.9" />
<line x1="593.1" y1="201.8" x2="593.1" y2="203.3" stroke="#555555" stroke-width="0.9" />
<line x1="611.7" y1="201.8" x2="611.7" y2="204.6" stroke="#555555" stroke-width="0.9" />
<line x1="630.3" y1="201.8" x2="630.3" y2="203.3" stroke="#555555" stroke-width="0.9" />
<line x1="648.9" y1="201.8" x2="648.9" y2="204.6" stroke="#555555" stroke-width="0.9" />
<line x1="667.5" y1="201.8" x2="667.5" y2="203.3" stroke="#555555" stroke-width="0.9" />
<line x1="684.1" y1="216.9" x2="686.3" y2="216.9" stroke="#555555" stroke-width="0.9" />
<line x1="684.1" y1="232" x2="686.3" y2="232" stroke="#555555" stroke-width="0.9" />
<line x1="684.1" y1="247.1" x2="686.3" y2="247.1" stroke="#555555" stroke-width="0.9" />
<line x1="684.1" y1="262.2" x2="686.3" y2="262.2" stroke="#555555" stroke-width="0.9" />
<line x1="684.1" y1="277.3" x2="686.3" y2="277.3" stroke="#555555" stroke-width="0.9" />
<line x1="684.1" y1="292.4" x2="686.3" y2="292.4" stroke="#555555" stroke-width="0.9" />
<line x1="684.1" y1="307.5" x2="686.3" y2="307.5" stroke="#555555" stroke-width="0.9" />
<line x1="684.1" y1="322.6" x2="686.3" y2="322.6" stroke="#555555" stroke-width="0.9" />
<line x1="684.1" y1="337.7" x2="686.3" y2="337.7" stroke="#555555" stroke-width="0.9" />
<line x1="500.1" y1="351" x2="686.3" y2="351" stroke="#222" stroke-width="1.9" />
<line x1="496.9" y1="201.75" x2="500.1" y2="201.75" stroke="#555555" stroke-width="0.9" />
<line x1="496.9" y1="223.05" x2="500.1" y2="223.05" stroke="#555555" stroke-width="0.9" />
<line x1="496.9" y1="244.35" x2="500.1" y2="244.35" stroke="#555555" stroke-width="0.9" />
<line x1="496.9" y1="265.65" x2="500.1" y2="265.65" stroke="#555555" stroke-width="0.9" />
<line x1="496.9" y1="286.95" x2="500.1" y2="286.95" stroke="#555555" stroke-width="0.9" />
<line x1="496.9" y1="308.25" x2="500.1" y2="308.25" stroke="#555555" stroke-width="0.9" />
<line x1="496.9" y1="329.55" x2="500.1" y2="329.55" stroke="#555555" stroke-width="0.9" />
<line x1="496.9" y1="350.85" x2="500.1" y2="350.85" stroke="#555555" stroke-width="0.9" />
<line x1="498.3" y1="212.4" x2="500.1" y2="212.4" stroke="#555555" stroke-width="0.9" />
<line x1="498.3" y1="233.7" x2="500.1" y2="233.7" stroke="#555555" stroke-width="0.9" />
<line x1="498.3" y1="255" x2="500.1" y2="255" stroke="#555555" stroke-width="0.9" />
<line x1="498.3" y1="276.3" x2="500.1" y2="276.3" stroke="#555555" stroke-width="0.9" />
<line x1="498.3" y1="297.6" x2="500.1" y2="297.6" stroke="#555555" stroke-width="0.9" />
<line x1="498.3" y1="318.9" x2="500.1" y2="318.9" stroke="#555555" stroke-width="0.9" />
<line x1="498.3" y1="340.2" x2="500.1" y2="340.2" stroke="#555555" stroke-width="0.9" />
<line x1="500" y1="351" x2="500" y2="354.2" stroke="#555555" stroke-width="0.9" />
<line x1="521.9" y1="351" x2="521.9" y2="354.2" stroke="#555555" stroke-width="0.9" />
<line x1="543.8" y1="351" x2="543.8" y2="354.2" stroke="#555555" stroke-width="0.9" />
<line x1="565.7" y1="351" x2="565.7" y2="354.2" stroke="#555555" stroke-width="0.9" />
<line x1="587.6" y1="351" x2="587.6" y2="354.2" stroke="#555555" stroke-width="0.9" />
<line x1="609.5" y1="351" x2="609.5" y2="354.2" stroke="#555555" stroke-width="0.9" />
<line x1="631.4" y1="351" x2="631.4" y2="354.2" stroke="#555555" stroke-width="0.9" />
<line x1="653.3" y1="351" x2="653.3" y2="354.2" stroke="#555555" stroke-width="0.9" />
<line x1="675.2" y1="351" x2="675.2" y2="354.2" stroke="#555555" stroke-width="0.9" />
<line x1="510.95" y1="351" x2="510.95" y2="352.8" stroke="#555555" stroke-width="0.9" />
<line x1="532.85" y1="351" x2="532.85" y2="352.8" stroke="#555555" stroke-width="0.9" />
<line x1="554.75" y1="351" x2="554.75" y2="352.8" stroke="#555555" stroke-width="0.9" />
<line x1="576.65" y1="351" x2="576.65" y2="352.8" stroke="#555555" stroke-width="0.9" />
<line x1="598.55" y1="351" x2="598.55" y2="352.8" stroke="#555555" stroke-width="0.9" />
<line x1="620.45" y1="351" x2="620.45" y2="352.8" stroke="#555555" stroke-width="0.9" />
<line x1="642.35" y1="351" x2="642.35" y2="352.8" stroke="#555555" stroke-width="0.9" />
<line x1="664.25" y1="351" x2="664.25" y2="352.8" stroke="#555555" stroke-width="0.9" />
<line x1="686.15" y1="351" x2="686.15" y2="352.8" stroke="#555555" stroke-width="0.9" />
<text style="stroke:#1a1a1a;stroke-width:0.18px" transform="translate(495.5 203.85) scale(0.85 1)" font-size="7.3" text-anchor="end" fill="#1a1a1a" >-1.5</text>
<text style="stroke:#1a1a1a;stroke-width:0.18px" transform="translate(495.5 225.15) scale(0.85 1)" font-size="7.3" text-anchor="end" fill="#1a1a1a" >-2.0</text>
<text style="stroke:#1a1a1a;stroke-width:0.18px" transform="translate(495.5 246.45) scale(0.85 1)" font-size="7.3" text-anchor="end" fill="#1a1a1a" >-2.5</text>
<text style="stroke:#1a1a1a;stroke-width:0.18px" transform="translate(495.5 267.75) scale(0.85 1)" font-size="7.3" text-anchor="end" fill="#1a1a1a" >-3.0</text>
<text style="stroke:#1a1a1a;stroke-width:0.18px" transform="translate(495.5 289.05) scale(0.85 1)" font-size="7.3" text-anchor="end" fill="#1a1a1a" >-3.5</text>
<text style="stroke:#1a1a1a;stroke-width:0.18px" transform="translate(495.5 310.35) scale(0.85 1)" font-size="7.3" text-anchor="end" fill="#1a1a1a" >-4.0</text>
<text style="stroke:#1a1a1a;stroke-width:0.18px" transform="translate(495.5 331.65) scale(0.85 1)" font-size="7.3" text-anchor="end" fill="#1a1a1a" >-4.5</text>
<text style="stroke:#1a1a1a;stroke-width:0.18px" transform="translate(495.5 352.95) scale(0.85 1)" font-size="7.3" text-anchor="end" fill="#1a1a1a" >-5.0</text>
<text style="stroke:#1a1a1a;stroke-width:0.18px" transform="translate(500 360.5) scale(0.85 1)" font-size="7.3" text-anchor="middle" fill="#1a1a1a" >-3.2</text>
<text style="stroke:#1a1a1a;stroke-width:0.18px" transform="translate(521.9 360.5) scale(0.85 1)" font-size="7.3" text-anchor="middle" fill="#1a1a1a" >-3.0</text>
<text style="stroke:#1a1a1a;stroke-width:0.18px" transform="translate(543.8 360.5) scale(0.85 1)" font-size="7.3" text-anchor="middle" fill="#1a1a1a" >-2.8</text>
<text style="stroke:#1a1a1a;stroke-width:0.18px" transform="translate(565.7 360.5) scale(0.85 1)" font-size="7.3" text-anchor="middle" fill="#1a1a1a" >-2.6</text>
<text style="stroke:#1a1a1a;stroke-width:0.18px" transform="translate(587.6 360.5) scale(0.85 1)" font-size="7.3" text-anchor="middle" fill="#1a1a1a" >-2.4</text>
<text style="stroke:#1a1a1a;stroke-width:0.18px" transform="translate(609.5 360.5) scale(0.85 1)" font-size="7.3" text-anchor="middle" fill="#1a1a1a" >-2.2</text>
<text style="stroke:#1a1a1a;stroke-width:0.18px" transform="translate(631.4 360.5) scale(0.85 1)" font-size="7.3" text-anchor="middle" fill="#1a1a1a" >-2.0</text>
<text style="stroke:#1a1a1a;stroke-width:0.18px" transform="translate(653.3 360.5) scale(0.85 1)" font-size="7.3" text-anchor="middle" fill="#1a1a1a" >-1.8</text>
<text style="stroke:#1a1a1a;stroke-width:0.18px" transform="translate(675.2 360.5) scale(0.85 1)" font-size="7.3" text-anchor="middle" fill="#1a1a1a" >-1.6</text>
<text style="stroke:#1a1a1a;stroke-width:0.18px" x="592.5" y="373.5" font-size="7.8999999999999995" text-anchor="middle" fill="#1a1a1a">Log (<tspan font-family="Liberation Serif">&#957;</tspan>, V s<tspan dy="-3" font-size="5.2">-1</tspan><tspan dy="3">)</tspan></text>
<text style="stroke:#1a1a1a;stroke-width:0.18px" x="481.5" y="275.5" font-size="7.8999999999999995" text-anchor="middle" fill="#1a1a1a" transform="rotate(-90 481.5 275.5)">Log (I, A cm<tspan dy="-3" font-size="5.2">-2</tspan><tspan dy="3">)</tspan></text>
<text style="stroke:#1a1a1a;stroke-width:0px" x="462.2" y="216" font-size="15.8" text-anchor="start" fill="#1a1a1a" >f)</text>
<circle cx="650" cy="283" r="2.1" fill="#ff2a2a"/>
<text style="stroke:#1a1a1a;stroke-width:0.18px" transform="translate(659.5 285.7) scale(0.88 1)" font-size="8.2" fill="#1a1a1a">0.2 V</text>
<polygon points="650,289.37 652.2,293.37 647.8,293.37" fill="#1a6cff"/>
<text style="stroke:#1a1a1a;stroke-width:0.18px" transform="translate(659.5 294.37) scale(0.88 1)" font-size="8.2" fill="#1a1a1a">0.3 V</text>
<polygon points="650,302.64 652.2,298.64 647.8,298.64" fill="#10a85a"/>
<text style="stroke:#1a1a1a;stroke-width:0.18px" transform="translate(659.5 303.04) scale(0.88 1)" font-size="8.2" fill="#1a1a1a">0.4 V</text>
<polygon points="650,306.61 652.4,309.01 650,311.41 647.6,309.01" fill="#c77cf2"/>
<text style="stroke:#1a1a1a;stroke-width:0.18px" transform="translate(659.5 311.71) scale(0.88 1)" font-size="8.2" fill="#1a1a1a">0.5 V</text>
<polygon points="647.7,317.68 651.7,315.48 651.7,319.88" fill="#e5a00d"/>
<text style="stroke:#1a1a1a;stroke-width:0.18px" transform="translate(659.5 320.38) scale(0.88 1)" font-size="8.2" fill="#1a1a1a">0.6 V</text>
<polygon points="652.3,326.35 648.3,324.15 648.3,328.55" fill="#1fd0d8"/>
<text style="stroke:#1a1a1a;stroke-width:0.18px" transform="translate(659.5 329.05) scale(0.88 1)" font-size="8.2" fill="#1a1a1a">0.7 V</text>
<circle cx="650" cy="335.02" r="2.1" fill="#7b4040"/>
<text style="stroke:#1a1a1a;stroke-width:0.18px" transform="translate(659.5 337.72) scale(0.88 1)" font-size="8.2" fill="#1a1a1a">0.8 V</text>
<line x1="48.63" y1="519.88" x2="194.66" y2="500.37" stroke="#333333" stroke-width="1.5" />
<rect x="46.68" y="518.8" width="3.9" height="3.9" fill="#333333"/>
<rect x="64.1" y="515.65" width="3.9" height="3.9" fill="#333333"/>
<rect x="98.68" y="510.1" width="3.9" height="3.9" fill="#333333"/>
<rect x="137.65" y="504.85" width="3.9" height="3.9" fill="#333333"/>
<rect x="192.71" y="499.3" width="3.9" height="3.9" fill="#333333"/>
<line x1="48.63" y1="517.3" x2="194.66" y2="493.07" stroke="#ff2a2a" stroke-width="1.5" />
<circle cx="48.63" cy="517.6" r="2.05" fill="#ff2a2a"/>
<circle cx="66.05" cy="514.6" r="2.05" fill="#ff2a2a"/>
<circle cx="100.63" cy="508.15" r="2.05" fill="#ff2a2a"/>
<circle cx="139.6" cy="501.85" r="2.05" fill="#ff2a2a"/>
<circle cx="194.66" cy="493.45" r="2.05" fill="#ff2a2a"/>
<line x1="48.63" y1="515.44" x2="194.66" y2="490.27" stroke="#1a6cff" stroke-width="1.5" />
<polygon points="48.63,513.11 50.77,517.01 46.48,517.01" fill="#1a6cff"/>
<polygon points="66.05,510.41 68.2,514.31 63.91,514.31" fill="#1a6cff"/>
<polygon points="100.63,504.11 102.78,508.01 98.49,508.01" fill="#1a6cff"/>
<polygon points="139.6,497.51 141.75,501.41 137.46,501.41" fill="#1a6cff"/>
<polygon points="194.66,488.06 196.81,491.96 192.52,491.96" fill="#1a6cff"/>
<line x1="48.63" y1="512.98" x2="194.66" y2="488.39" stroke="#10a85a" stroke-width="1.5" />
<polygon points="48.63,514.89 50.77,510.99 46.48,510.99" fill="#10a85a"/>
<polygon points="66.05,512.64 68.2,508.74 63.91,508.74" fill="#10a85a"/>
<polygon points="100.63,506.49 102.78,502.59 98.49,502.59" fill="#10a85a"/>
<polygon points="139.6,499.89 141.75,495.99 137.46,495.99" fill="#10a85a"/>
<polygon points="194.66,490.59 196.81,486.69 192.52,486.69" fill="#10a85a"/>
<line x1="48.63" y1="508.8" x2="194.66" y2="487.09" stroke="#c77cf2" stroke-width="1.5" />
<polygon points="48.63,505.21 50.97,507.55 48.63,509.89 46.29,507.55" fill="#c77cf2"/>
<polygon points="66.05,504.61 68.39,506.95 66.05,509.29 63.71,506.95" fill="#c77cf2"/>
<polygon points="100.63,499.51 102.97,501.85 100.63,504.19 98.29,501.85" fill="#c77cf2"/>
<polygon points="139.6,493.21 141.94,495.55 139.6,497.89 137.26,495.55" fill="#c77cf2"/>
<polygon points="194.66,484.21 197,486.55 194.66,488.89 192.32,486.55" fill="#c77cf2"/>
<line x1="48.63" y1="503.3" x2="194.66" y2="484.77" stroke="#e5a00d" stroke-width="1.5" />
<polygon points="46.39,501.1 50.29,498.95 50.29,503.24" fill="#e5a00d"/>
<polygon points="63.81,502.45 67.71,500.31 67.71,504.59" fill="#e5a00d"/>
<polygon points="98.39,497.95 102.29,495.81 102.29,500.09" fill="#e5a00d"/>
<polygon points="137.36,492.25 141.26,490.11 141.26,494.39" fill="#e5a00d"/>
<polygon points="192.42,483.85 196.32,481.7 196.32,485.99" fill="#e5a00d"/>
<line x1="48.63" y1="494.59" x2="194.66" y2="481.43" stroke="#1fd0d8" stroke-width="1.5" />
<polygon points="50.87,492.1 46.97,489.95 46.97,494.24" fill="#1fd0d8"/>
<polygon points="68.29,493.45 64.39,491.31 64.39,495.59" fill="#1fd0d8"/>
<polygon points="102.87,492.4 98.97,490.25 98.97,494.54" fill="#1fd0d8"/>
<polygon points="141.84,487.75 137.94,485.61 137.94,489.89" fill="#1fd0d8"/>
<polygon points="196.9,479.65 193,477.5 193,481.79" fill="#1fd0d8"/>
<rect x="33.3" y="375.4" width="186.2" height="150.1" fill="none" stroke="#555555" stroke-width="1.05"/>
<line x1="51.9" y1="375.4" x2="51.9" y2="376.9" stroke="#555555" stroke-width="0.9" />
<line x1="70.5" y1="375.4" x2="70.5" y2="378.2" stroke="#555555" stroke-width="0.9" />
<line x1="89.1" y1="375.4" x2="89.1" y2="376.9" stroke="#555555" stroke-width="0.9" />
<line x1="107.7" y1="375.4" x2="107.7" y2="378.2" stroke="#555555" stroke-width="0.9" />
<line x1="126.3" y1="375.4" x2="126.3" y2="376.9" stroke="#555555" stroke-width="0.9" />
<line x1="144.9" y1="375.4" x2="144.9" y2="378.2" stroke="#555555" stroke-width="0.9" />
<line x1="163.5" y1="375.4" x2="163.5" y2="376.9" stroke="#555555" stroke-width="0.9" />
<line x1="182.1" y1="375.4" x2="182.1" y2="378.2" stroke="#555555" stroke-width="0.9" />
<line x1="200.7" y1="375.4" x2="200.7" y2="376.9" stroke="#555555" stroke-width="0.9" />
<line x1="217.3" y1="390.5" x2="219.5" y2="390.5" stroke="#555555" stroke-width="0.9" />
<line x1="217.3" y1="405.6" x2="219.5" y2="405.6" stroke="#555555" stroke-width="0.9" />
<line x1="217.3" y1="420.7" x2="219.5" y2="420.7" stroke="#555555" stroke-width="0.9" />
<line x1="217.3" y1="435.8" x2="219.5" y2="435.8" stroke="#555555" stroke-width="0.9" />
<line x1="217.3" y1="450.9" x2="219.5" y2="450.9" stroke="#555555" stroke-width="0.9" />
<line x1="217.3" y1="466" x2="219.5" y2="466" stroke="#555555" stroke-width="0.9" />
<line x1="217.3" y1="481.1" x2="219.5" y2="481.1" stroke="#555555" stroke-width="0.9" />
<line x1="217.3" y1="496.2" x2="219.5" y2="496.2" stroke="#555555" stroke-width="0.9" />
<line x1="217.3" y1="511.3" x2="219.5" y2="511.3" stroke="#555555" stroke-width="0.9" />
<line x1="30.1" y1="525.4" x2="33.3" y2="525.4" stroke="#555555" stroke-width="0.9" />
<line x1="30.1" y1="495.4" x2="33.3" y2="495.4" stroke="#555555" stroke-width="0.9" />
<line x1="30.1" y1="465.4" x2="33.3" y2="465.4" stroke="#555555" stroke-width="0.9" />
<line x1="30.1" y1="435.4" x2="33.3" y2="435.4" stroke="#555555" stroke-width="0.9" />
<line x1="30.1" y1="405.4" x2="33.3" y2="405.4" stroke="#555555" stroke-width="0.9" />
<line x1="30.1" y1="375.4" x2="33.3" y2="375.4" stroke="#555555" stroke-width="0.9" />
<line x1="31.5" y1="510.4" x2="33.3" y2="510.4" stroke="#555555" stroke-width="0.9" />
<line x1="31.5" y1="480.4" x2="33.3" y2="480.4" stroke="#555555" stroke-width="0.9" />
<line x1="31.5" y1="450.4" x2="33.3" y2="450.4" stroke="#555555" stroke-width="0.9" />
<line x1="31.5" y1="420.4" x2="33.3" y2="420.4" stroke="#555555" stroke-width="0.9" />
<line x1="31.5" y1="390.4" x2="33.3" y2="390.4" stroke="#555555" stroke-width="0.9" />
<line x1="33.2" y1="525.5" x2="33.2" y2="528.7" stroke="#555555" stroke-width="0.9" />
<line x1="59.8" y1="525.5" x2="59.8" y2="528.7" stroke="#555555" stroke-width="0.9" />
<line x1="86.4" y1="525.5" x2="86.4" y2="528.7" stroke="#555555" stroke-width="0.9" />
<line x1="113" y1="525.5" x2="113" y2="528.7" stroke="#555555" stroke-width="0.9" />
<line x1="139.6" y1="525.5" x2="139.6" y2="528.7" stroke="#555555" stroke-width="0.9" />
<line x1="166.2" y1="525.5" x2="166.2" y2="528.7" stroke="#555555" stroke-width="0.9" />
<line x1="192.8" y1="525.5" x2="192.8" y2="528.7" stroke="#555555" stroke-width="0.9" />
<line x1="219.4" y1="525.5" x2="219.4" y2="528.7" stroke="#555555" stroke-width="0.9" />
<line x1="46.5" y1="525.5" x2="46.5" y2="527.3" stroke="#555555" stroke-width="0.9" />
<line x1="73.1" y1="525.5" x2="73.1" y2="527.3" stroke="#555555" stroke-width="0.9" />
<line x1="99.7" y1="525.5" x2="99.7" y2="527.3" stroke="#555555" stroke-width="0.9" />
<line x1="126.3" y1="525.5" x2="126.3" y2="527.3" stroke="#555555" stroke-width="0.9" />
<line x1="152.9" y1="525.5" x2="152.9" y2="527.3" stroke="#555555" stroke-width="0.9" />
<line x1="179.5" y1="525.5" x2="179.5" y2="527.3" stroke="#555555" stroke-width="0.9" />
<line x1="206.1" y1="525.5" x2="206.1" y2="527.3" stroke="#555555" stroke-width="0.9" />
<text style="stroke:#1a1a1a;stroke-width:0.18px" transform="translate(27.9 527.4) scale(0.85 1)" font-size="6.8" text-anchor="end" fill="#1a1a1a" >0.00</text>
<text style="stroke:#1a1a1a;stroke-width:0.18px" transform="translate(27.9 497.4) scale(0.85 1)" font-size="6.8" text-anchor="end" fill="#1a1a1a" >0.02</text>
<text style="stroke:#1a1a1a;stroke-width:0.18px" transform="translate(27.9 467.4) scale(0.85 1)" font-size="6.8" text-anchor="end" fill="#1a1a1a" >0.04</text>
<text style="stroke:#1a1a1a;stroke-width:0.18px" transform="translate(27.9 437.4) scale(0.85 1)" font-size="6.8" text-anchor="end" fill="#1a1a1a" >0.06</text>
<text style="stroke:#1a1a1a;stroke-width:0.18px" transform="translate(27.9 407.4) scale(0.85 1)" font-size="6.8" text-anchor="end" fill="#1a1a1a" >0.08</text>
<text style="stroke:#1a1a1a;stroke-width:0.18px" transform="translate(27.9 377.4) scale(0.85 1)" font-size="6.8" text-anchor="end" fill="#1a1a1a" >0.10</text>
<text style="stroke:#1a1a1a;stroke-width:0.18px" transform="translate(33.2 535.7) scale(0.85 1)" font-size="6.8" text-anchor="middle" fill="#1a1a1a" >0.02</text>
<text style="stroke:#1a1a1a;stroke-width:0.18px" transform="translate(59.8 535.7) scale(0.85 1)" font-size="6.8" text-anchor="middle" fill="#1a1a1a" >0.04</text>
<text style="stroke:#1a1a1a;stroke-width:0.18px" transform="translate(86.4 535.7) scale(0.85 1)" font-size="6.8" text-anchor="middle" fill="#1a1a1a" >0.06</text>
<text style="stroke:#1a1a1a;stroke-width:0.18px" transform="translate(113 535.7) scale(0.85 1)" font-size="6.8" text-anchor="middle" fill="#1a1a1a" >0.08</text>
<text style="stroke:#1a1a1a;stroke-width:0.18px" transform="translate(139.6 535.7) scale(0.85 1)" font-size="6.8" text-anchor="middle" fill="#1a1a1a" >0.10</text>
<text style="stroke:#1a1a1a;stroke-width:0.18px" transform="translate(166.2 535.7) scale(0.85 1)" font-size="6.8" text-anchor="middle" fill="#1a1a1a" >0.12</text>
<text style="stroke:#1a1a1a;stroke-width:0.18px" transform="translate(192.8 535.7) scale(0.85 1)" font-size="6.8" text-anchor="middle" fill="#1a1a1a" >0.14</text>
<text style="stroke:#1a1a1a;stroke-width:0.18px" transform="translate(219.4 535.7) scale(0.85 1)" font-size="6.8" text-anchor="middle" fill="#1a1a1a" >0.16</text>
<text style="stroke:#1a1a1a;stroke-width:0.18px" x="126.5" y="548.3" font-size="7.7" text-anchor="middle" fill="#1a1a1a"><tspan font-family="Liberation Serif">&#957;</tspan><tspan dy="-3" font-size="5.3">1/2</tspan><tspan dy="3"> (V s</tspan><tspan dy="-3" font-size="5.3">-1</tspan><tspan dy="3">)</tspan><tspan dy="-3" font-size="5.3">1/2</tspan></text>
<text style="stroke:#1a1a1a;stroke-width:0.18px" x="13.6" y="452" font-size="7.7" text-anchor="middle" fill="#1a1a1a" transform="rotate(-90 13.6 452)">I/<tspan font-family="Liberation Serif">&#957;</tspan><tspan dy="-3" font-size="5.3">1/2</tspan><tspan dy="3"> (A/(V s</tspan><tspan dy="-3" font-size="5.3">-1</tspan><tspan dy="3">)</tspan><tspan dy="-3" font-size="5.3">1/2</tspan><tspan dy="3">)</tspan></text>
<text style="stroke:#1a1a1a;stroke-width:0px" x="2.8" y="394.3" font-size="15.8" text-anchor="start" fill="#1a1a1a" >g)</text>
<rect x="186.85" y="405.05" width="3.9" height="3.9" fill="#333333"/>
<text style="stroke:#1a1a1a;stroke-width:0.18px" transform="translate(197.5 409.8) scale(0.88 1)" font-size="8.5" fill="#1a1a1a">0.1 V</text>
<circle cx="188.8" cy="415.85" r="2.05" fill="#ff2a2a"/>
<text style="stroke:#1a1a1a;stroke-width:0.18px" transform="translate(197.5 418.65) scale(0.88 1)" font-size="8.5" fill="#1a1a1a">0.2 V</text>
<polygon points="188.8,422.46 190.95,426.36 186.66,426.36" fill="#1a6cff"/>
<text style="stroke:#1a1a1a;stroke-width:0.18px" transform="translate(197.5 427.5) scale(0.88 1)" font-size="8.5" fill="#1a1a1a">0.3 V</text>
<polygon points="188.8,435.79 190.95,431.89 186.66,431.89" fill="#10a85a"/>
<text style="stroke:#1a1a1a;stroke-width:0.18px" transform="translate(197.5 436.35) scale(0.88 1)" font-size="8.5" fill="#1a1a1a">0.4 V</text>
<polygon points="188.8,440.06 191.14,442.4 188.8,444.74 186.46,442.4" fill="#c77cf2"/>
<text style="stroke:#1a1a1a;stroke-width:0.18px" transform="translate(197.5 445.2) scale(0.88 1)" font-size="8.5" fill="#1a1a1a">0.5 V</text>
<polygon points="186.56,451.25 190.46,449.11 190.46,453.39" fill="#e5a00d"/>
<text style="stroke:#1a1a1a;stroke-width:0.18px" transform="translate(197.5 454.05) scale(0.88 1)" font-size="8.5" fill="#1a1a1a">0.6 V</text>
<polygon points="191.04,460.1 187.14,457.96 187.14,462.25" fill="#1fd0d8"/>
<text style="stroke:#1a1a1a;stroke-width:0.18px" transform="translate(197.5 462.9) scale(0.88 1)" font-size="8.5" fill="#1a1a1a">0.7 V</text>
<rect x="57" y="380.2" width="111.6" height="89.1" fill="#fff" stroke="#555555" stroke-width="0.8"/>
<line x1="66.28" y1="429.07" x2="154.12" y2="466.47" stroke="#333333" stroke-width="0.8" />
<rect x="65.33" y="428.12" width="1.9" height="1.9" fill="#333333"/>
<rect x="75.81" y="432.58" width="1.9" height="1.9" fill="#333333"/>
<rect x="96.61" y="441.44" width="1.9" height="1.9" fill="#333333"/>
<rect x="120.05" y="451.42" width="1.9" height="1.9" fill="#333333"/>
<rect x="153.17" y="465.52" width="1.9" height="1.9" fill="#333333"/>
<line x1="66.28" y1="426.53" x2="154.12" y2="460.95" stroke="#ff2a2a" stroke-width="0.8" />
<circle cx="66.28" cy="426.53" r="1" fill="#ff2a2a"/>
<circle cx="76.76" cy="430.64" r="1" fill="#ff2a2a"/>
<circle cx="97.56" cy="438.79" r="1" fill="#ff2a2a"/>
<circle cx="121" cy="447.98" r="1" fill="#ff2a2a"/>
<circle cx="154.12" cy="460.95" r="1" fill="#ff2a2a"/>
<line x1="66.28" y1="425.04" x2="154.12" y2="456.04" stroke="#1a6cff" stroke-width="0.8" />
<polygon points="66.28,423.95 67.33,425.85 65.23,425.85" fill="#1a6cff"/>
<polygon points="76.76,427.65 77.8,429.55 75.71,429.55" fill="#1a6cff"/>
<polygon points="97.56,434.99 98.61,436.89 96.52,436.89" fill="#1a6cff"/>
<polygon points="121,443.26 122.05,445.16 119.95,445.16" fill="#1a6cff"/>
<polygon points="154.12,454.94 155.16,456.84 153.08,456.84" fill="#1a6cff"/>
<line x1="66.28" y1="422.96" x2="154.12" y2="452.01" stroke="#10a85a" stroke-width="0.8" />
<polygon points="66.28,424.05 67.33,422.15 65.23,422.15" fill="#10a85a"/>
<polygon points="76.76,427.52 77.8,425.62 75.71,425.62" fill="#10a85a"/>
<polygon points="97.56,434.4 98.61,432.5 96.52,432.5" fill="#10a85a"/>
<polygon points="121,442.15 122.05,440.25 119.95,440.25" fill="#10a85a"/>
<polygon points="154.12,453.11 155.16,451.21 153.08,451.21" fill="#10a85a"/>
<line x1="66.28" y1="420.57" x2="154.12" y2="449.03" stroke="#c77cf2" stroke-width="0.8" />
<polygon points="66.28,419.44 67.42,420.57 66.28,421.71 65.14,420.57" fill="#c77cf2"/>
<polygon points="76.76,422.83 77.9,423.97 76.76,425.11 75.62,423.97" fill="#c77cf2"/>
<polygon points="97.56,429.57 98.7,430.71 97.56,431.85 96.42,430.71" fill="#c77cf2"/>
<polygon points="121,437.16 122.14,438.3 121,439.44 119.86,438.3" fill="#c77cf2"/>
<polygon points="154.12,447.89 155.26,449.03 154.12,450.17 152.98,449.03" fill="#c77cf2"/>
<line x1="66.28" y1="417.59" x2="154.12" y2="446.65" stroke="#e5a00d" stroke-width="0.8" />
<polygon points="65.19,417.59 67.09,416.55 67.09,418.64" fill="#e5a00d"/>
<polygon points="75.67,421.06 77.57,420.02 77.57,422.11" fill="#e5a00d"/>
<polygon points="96.47,427.94 98.37,426.9 98.37,428.99" fill="#e5a00d"/>
<polygon points="119.91,435.69 121.81,434.65 121.81,436.74" fill="#e5a00d"/>
<polygon points="153.03,446.65 154.93,445.6 154.93,447.69" fill="#e5a00d"/>
<line x1="66.28" y1="414.61" x2="154.12" y2="445.01" stroke="#1fd0d8" stroke-width="0.8" />
<polygon points="67.37,414.61 65.47,413.57 65.47,415.66" fill="#1fd0d8"/>
<polygon points="77.85,418.24 75.95,417.2 75.95,419.29" fill="#1fd0d8"/>
<polygon points="98.65,425.44 96.75,424.39 96.75,426.48" fill="#1fd0d8"/>
<polygon points="122.09,433.55 120.19,432.51 120.19,434.6" fill="#1fd0d8"/>
<polygon points="155.21,445.01 153.31,443.97 153.31,446.06" fill="#1fd0d8"/>
<line x1="66.28" y1="410.44" x2="154.12" y2="440.99" stroke="#7b4040" stroke-width="0.8" />
<circle cx="66.28" cy="410.44" r="1" fill="#7b4040"/>
<circle cx="76.76" cy="414.09" r="1" fill="#7b4040"/>
<circle cx="97.56" cy="421.32" r="1" fill="#7b4040"/>
<circle cx="121" cy="429.47" r="1" fill="#7b4040"/>
<circle cx="154.12" cy="440.99" r="1" fill="#7b4040"/>
<line x1="55.2" y1="379.6" x2="57" y2="379.6" stroke="#555555" stroke-width="0.6" />
<line x1="167.1" y1="379.6" x2="168.6" y2="379.6" stroke="#555555" stroke-width="0.6" />
<text style="stroke:#1a1a1a;stroke-width:0.06px" transform="translate(54.2 381) scale(0.9 1)" font-size="3.9" text-anchor="end" fill="#1a1a1a">0.02</text>
<line x1="55.2" y1="394.5" x2="57" y2="394.5" stroke="#555555" stroke-width="0.6" />
<line x1="167.1" y1="394.5" x2="168.6" y2="394.5" stroke="#555555" stroke-width="0.6" />
<text style="stroke:#1a1a1a;stroke-width:0.06px" transform="translate(54.2 395.9) scale(0.9 1)" font-size="3.9" text-anchor="end" fill="#1a1a1a">0.01</text>
<line x1="55.2" y1="409.4" x2="57" y2="409.4" stroke="#555555" stroke-width="0.6" />
<line x1="167.1" y1="409.4" x2="168.6" y2="409.4" stroke="#555555" stroke-width="0.6" />
<text style="stroke:#1a1a1a;stroke-width:0.06px" transform="translate(54.2 410.8) scale(0.9 1)" font-size="3.9" text-anchor="end" fill="#1a1a1a">0.00</text>
<line x1="55.2" y1="424.3" x2="57" y2="424.3" stroke="#555555" stroke-width="0.6" />
<line x1="167.1" y1="424.3" x2="168.6" y2="424.3" stroke="#555555" stroke-width="0.6" />
<text style="stroke:#1a1a1a;stroke-width:0.06px" transform="translate(54.2 425.7) scale(0.9 1)" font-size="3.9" text-anchor="end" fill="#1a1a1a">-0.01</text>
<line x1="55.2" y1="439.2" x2="57" y2="439.2" stroke="#555555" stroke-width="0.6" />
<line x1="167.1" y1="439.2" x2="168.6" y2="439.2" stroke="#555555" stroke-width="0.6" />
<text style="stroke:#1a1a1a;stroke-width:0.06px" transform="translate(54.2 440.6) scale(0.9 1)" font-size="3.9" text-anchor="end" fill="#1a1a1a">-0.02</text>
<line x1="55.2" y1="454.1" x2="57" y2="454.1" stroke="#555555" stroke-width="0.6" />
<line x1="167.1" y1="454.1" x2="168.6" y2="454.1" stroke="#555555" stroke-width="0.6" />
<text style="stroke:#1a1a1a;stroke-width:0.06px" transform="translate(54.2 455.5) scale(0.9 1)" font-size="3.9" text-anchor="end" fill="#1a1a1a">-0.03</text>
<line x1="55.2" y1="469" x2="57" y2="469" stroke="#555555" stroke-width="0.6" />
<line x1="167.1" y1="469" x2="168.6" y2="469" stroke="#555555" stroke-width="0.6" />
<text style="stroke:#1a1a1a;stroke-width:0.06px" transform="translate(54.2 470.4) scale(0.9 1)" font-size="3.9" text-anchor="end" fill="#1a1a1a">-0.04</text>
<line x1="57" y1="469.3" x2="57" y2="471.1" stroke="#555555" stroke-width="0.6" />
<line x1="57" y1="380.2" x2="57" y2="381.7" stroke="#555555" stroke-width="0.6" />
<text style="stroke:#1a1a1a;stroke-width:0.06px" transform="translate(57 474.7) scale(0.9 1)" font-size="3.9" text-anchor="middle" fill="#1a1a1a">0.02</text>
<line x1="73" y1="469.3" x2="73" y2="471.1" stroke="#555555" stroke-width="0.6" />
<line x1="73" y1="380.2" x2="73" y2="381.7" stroke="#555555" stroke-width="0.6" />
<text style="stroke:#1a1a1a;stroke-width:0.06px" transform="translate(73 474.7) scale(0.9 1)" font-size="3.9" text-anchor="middle" fill="#1a1a1a">0.04</text>
<line x1="89" y1="469.3" x2="89" y2="471.1" stroke="#555555" stroke-width="0.6" />
<line x1="89" y1="380.2" x2="89" y2="381.7" stroke="#555555" stroke-width="0.6" />
<text style="stroke:#1a1a1a;stroke-width:0.06px" transform="translate(89 474.7) scale(0.9 1)" font-size="3.9" text-anchor="middle" fill="#1a1a1a">0.06</text>
<line x1="105" y1="469.3" x2="105" y2="471.1" stroke="#555555" stroke-width="0.6" />
<line x1="105" y1="380.2" x2="105" y2="381.7" stroke="#555555" stroke-width="0.6" />
<text style="stroke:#1a1a1a;stroke-width:0.06px" transform="translate(105 474.7) scale(0.9 1)" font-size="3.9" text-anchor="middle" fill="#1a1a1a">0.08</text>
<line x1="121" y1="469.3" x2="121" y2="471.1" stroke="#555555" stroke-width="0.6" />
<line x1="121" y1="380.2" x2="121" y2="381.7" stroke="#555555" stroke-width="0.6" />
<text style="stroke:#1a1a1a;stroke-width:0.06px" transform="translate(121 474.7) scale(0.9 1)" font-size="3.9" text-anchor="middle" fill="#1a1a1a">0.10</text>
<line x1="137" y1="469.3" x2="137" y2="471.1" stroke="#555555" stroke-width="0.6" />
<line x1="137" y1="380.2" x2="137" y2="381.7" stroke="#555555" stroke-width="0.6" />
<text style="stroke:#1a1a1a;stroke-width:0.06px" transform="translate(137 474.7) scale(0.9 1)" font-size="3.9" text-anchor="middle" fill="#1a1a1a">0.12</text>
<line x1="153" y1="469.3" x2="153" y2="471.1" stroke="#555555" stroke-width="0.6" />
<line x1="153" y1="380.2" x2="153" y2="381.7" stroke="#555555" stroke-width="0.6" />
<text style="stroke:#1a1a1a;stroke-width:0.06px" transform="translate(153 474.7) scale(0.9 1)" font-size="3.9" text-anchor="middle" fill="#1a1a1a">0.14</text>
<line x1="169" y1="469.3" x2="169" y2="471.1" stroke="#555555" stroke-width="0.6" />
<line x1="169" y1="380.2" x2="169" y2="381.7" stroke="#555555" stroke-width="0.6" />
<text style="stroke:#1a1a1a;stroke-width:0.06px" transform="translate(169 474.7) scale(0.9 1)" font-size="3.9" text-anchor="middle" fill="#1a1a1a">0.16</text>
<text style="stroke:#1a1a1a;stroke-width:0.06px" x="113" y="482" font-size="4.5" text-anchor="middle" fill="#1a1a1a"><tspan font-family="Liberation Serif">&#957;</tspan><tspan dy="-2" font-size="3.6">1/2</tspan><tspan dy="2"> (V s</tspan><tspan dy="-2" font-size="3.6">-1</tspan><tspan dy="2">)</tspan><tspan dy="-2" font-size="3.6">1/2</tspan></text>
<text style="stroke:#1a1a1a;stroke-width:0.06px" x="43.6" y="424" font-size="4.2" text-anchor="middle" fill="#1a1a1a" transform="rotate(-90 43.6 424)">I/<tspan font-family="Liberation Serif">&#957;</tspan><tspan dy="-2" font-size="3.6">1/2</tspan><tspan dy="2"> (A/(V s</tspan><tspan dy="-2" font-size="3.6">-1</tspan><tspan dy="2">)</tspan><tspan dy="-2" font-size="3.6">1/2</tspan><tspan dy="2">)</tspan></text>
<rect x="147.9" y="382.9" width="2.2" height="2.2" fill="#333333"/>
<text style="stroke:#1a1a1a;stroke-width:0.06px" x="154.4" y="385.5" font-size="4.1" fill="#1a1a1a">0 V</text>
<circle cx="149" cy="389.12" r="1.16" fill="#ff2a2a"/>
<text style="stroke:#1a1a1a;stroke-width:0.06px" x="154.4" y="390.62" font-size="4.1" fill="#1a1a1a">0.1 V</text>
<polygon points="149,392.98 150.21,395.18 147.79,395.18" fill="#1a6cff"/>
<text style="stroke:#1a1a1a;stroke-width:0.06px" x="154.4" y="395.74" font-size="4.1" fill="#1a1a1a">0.2 V</text>
<polygon points="149,400.62 150.21,398.43 147.79,398.43" fill="#10a85a"/>
<text style="stroke:#1a1a1a;stroke-width:0.06px" x="154.4" y="400.86" font-size="4.1" fill="#1a1a1a">0.3 V</text>
<polygon points="149,403.16 150.32,404.48 149,405.8 147.68,404.48" fill="#c77cf2"/>
<text style="stroke:#1a1a1a;stroke-width:0.06px" x="154.4" y="405.98" font-size="4.1" fill="#1a1a1a">0.4 V</text>
<polygon points="147.74,409.6 149.94,408.39 149.94,410.81" fill="#e5a00d"/>
<text style="stroke:#1a1a1a;stroke-width:0.06px" x="154.4" y="411.1" font-size="4.1" fill="#1a1a1a">0.5 V</text>
<polygon points="150.26,414.72 148.06,413.51 148.06,415.93" fill="#1fd0d8"/>
<text style="stroke:#1a1a1a;stroke-width:0.06px" x="154.4" y="416.22" font-size="4.1" fill="#1a1a1a">0.6 V</text>
<circle cx="149" cy="419.84" r="1.16" fill="#7b4040"/>
<text style="stroke:#1a1a1a;stroke-width:0.06px" x="154.4" y="421.34" font-size="4.1" fill="#1a1a1a">0.7 V</text>
<defs>
<linearGradient id="gdif" x1="0" y1="0" x2="0" y2="1">
<stop offset="0" stop-color="#8a3a26"/><stop offset="0.18" stop-color="#a2604e"/><stop offset="0.38" stop-color="#b09088"/><stop offset="0.55" stop-color="#b8b0b0"/><stop offset="0.8" stop-color="#d4e4e6"/><stop offset="1" stop-color="#f0fcfc"/></linearGradient>
<linearGradient id="gsur" x1="0" y1="0" x2="0" y2="1">
<stop offset="0" stop-color="#2020ae"/><stop offset="0.15" stop-color="#3434b6"/><stop offset="0.35" stop-color="#7a7cc6"/><stop offset="0.55" stop-color="#b4c0e2"/><stop offset="0.75" stop-color="#d8eaf2"/><stop offset="1" stop-color="#f2fcfc"/></linearGradient>
<linearGradient id="gdifL" x1="0" y1="0" x2="0" y2="1">
<stop offset="0" stop-color="#9a4a30"/><stop offset="0.5" stop-color="#b8a8a8"/><stop offset="1" stop-color="#e8fafa"/></linearGradient>
<linearGradient id="gsurL" x1="0" y1="0" x2="0" y2="1">
<stop offset="0" stop-color="#2020a8"/><stop offset="0.5" stop-color="#9090d0"/><stop offset="1" stop-color="#fbeefb"/></linearGradient>
<pattern id="hsur" width="2.3" height="2.3" patternUnits="userSpaceOnUse" patternTransform="rotate(45)">
<rect x="0" y="0" width="0.95" height="2.3" fill="#f27ac6" fill-opacity="0.62"/></pattern>
<pattern id="hdif" width="2.3" height="2.3" patternUnits="userSpaceOnUse" patternTransform="rotate(-45)">
<rect x="0" y="0" width="0.9" height="2.3" fill="#a8d8e4" fill-opacity="0.6"/></pattern>
</defs>
<path d="M283.5,517.2 L283.5,515.84 L283.49,514.49 L283.49,513.14 L283.49,511.78 L283.5,510.4 L283.53,508.93 L283.56,507.45 L283.61,505.95 L283.66,504.46 L283.7,503 L283.73,501.67 L283.76,500.41 L283.78,499.14 L283.83,497.76 L283.9,496.2 L284.07,493.13 L284.3,489.53 L284.58,485.69 L284.91,481.89 L285.3,478.4 L285.65,475.73 L286.04,473.17 L286.46,470.69 L286.94,468.28 L287.5,465.9 L288.07,463.7 L288.67,461.51 L289.33,459.38 L290.1,457.36 L291,455.5 L291.91,453.99 L292.92,452.58 L294.01,451.26 L295.17,450.04 L296.4,448.9 L297.7,447.86 L299.09,446.9 L300.54,446.03 L302.02,445.26 L303.5,444.6 L304.84,444.12 L306.15,443.76 L307.5,443.48 L308.96,443.21 L310.6,442.9 L313.64,442.33 L317.13,441.74 L320.89,441.16 L324.71,440.6 L328.4,440.1 L331.99,439.68 L335.62,439.32 L339.24,438.98 L342.78,438.65 L346.2,438.3 L349.08,437.97 L351.87,437.65 L354.61,437.32 L357.3,436.97 L360,436.6 L362.59,436.21 L365.16,435.8 L367.71,435.37 L370.25,434.93 L372.8,434.5 L375.36,434.09 L377.93,433.69 L380.49,433.28 L383.05,432.83 L385.6,432.3 L388.19,431.69 L390.8,431.01 L393.39,430.28 L395.93,429.51 L398.4,428.7 L400.6,427.93 L402.74,427.13 L404.84,426.29 L406.92,425.39 L409,424.4 L411.19,423.27 L413.39,422.05 L415.57,420.76 L417.68,419.4 L419.7,418 L421.53,416.61 L423.3,415.16 L425,413.67 L426.64,412.14 L428.2,410.6 L429.61,409.14 L430.97,407.65 L432.27,406.15 L433.48,404.63 L434.6,403.1 L435.49,401.71 L436.29,400.32 L437.03,398.91 L437.75,397.5 L438.5,396.1 L438.5,396.1 L438.37,399.01 L438.24,401.94 L438.11,404.87 L437.96,407.76 L437.8,410.6 L437.63,413.18 L437.46,415.69 L437.28,418.19 L437.06,420.74 L436.8,423.4 L436.46,426.69 L436.07,430.15 L435.64,433.67 L435.16,437.13 L434.6,440.4 L434.03,443.16 L433.39,445.88 L432.72,448.5 L432.04,450.96 L431.4,453.2 L430.97,454.63 L430.55,455.92 L430.13,457.15 L429.72,458.36 L429.3,459.6 L429.3,459.6 L429.03,461.33 L428.8,463.06 L428.55,464.79 L428.24,466.5 L427.8,468.2 L427.22,469.93 L426.55,471.65 L425.78,473.36 L424.93,475.04 L424,476.7 L422.91,478.47 L421.72,480.25 L420.43,481.98 L419.06,483.65 L417.6,485.2 L416.04,486.64 L414.39,487.98 L412.65,489.24 L410.85,490.44 L409,491.6 L407.01,492.79 L404.95,493.95 L402.83,495.04 L400.64,496.03 L398.4,496.9 L395.95,497.66 L393.41,498.29 L390.81,498.81 L388.19,499.27 L385.6,499.7 L383.01,500.12 L380.37,500.5 L377.76,500.82 L375.21,501.06 L372.8,501.2 L370.99,501.2 L369.31,501.1 L367.66,500.96 L365.93,500.84 L364,500.8 L360.84,500.89 L357.33,501.08 L353.62,501.34 L349.86,501.63 L346.2,501.9 L346.2,501.9 L342.64,502.52 L339.07,503.12 L335.51,503.74 L331.95,504.39 L328.4,505.1 L324.83,505.89 L321.27,506.73 L317.7,507.61 L314.15,508.54 L310.6,509.5 L306.94,510.56 L303.2,511.71 L299.51,512.88 L296,513.97 L292.8,514.9 L290.75,515.44 L288.87,515.91 L287.08,516.34 L285.31,516.76 L283.5,517.2 Z" fill="url(#gdif)"/>
<path d="M283.5,517.2 L283.5,515.84 L283.49,514.49 L283.49,513.14 L283.49,511.78 L283.5,510.4 L283.53,508.93 L283.56,507.45 L283.61,505.95 L283.66,504.46 L283.7,503 L283.73,501.67 L283.76,500.41 L283.78,499.14 L283.83,497.76 L283.9,496.2 L284.07,493.13 L284.3,489.53 L284.58,485.69 L284.91,481.89 L285.3,478.4 L285.65,475.73 L286.04,473.17 L286.46,470.69 L286.94,468.28 L287.5,465.9 L288.07,463.7 L288.67,461.51 L289.33,459.38 L290.1,457.36 L291,455.5 L291.91,453.99 L292.92,452.58 L294.01,451.26 L295.17,450.04 L296.4,448.9 L297.7,447.86 L299.09,446.9 L300.54,446.03 L302.02,445.26 L303.5,444.6 L304.84,444.12 L306.15,443.76 L307.5,443.48 L308.96,443.21 L310.6,442.9 L313.64,442.33 L317.13,441.74 L320.89,441.16 L324.71,440.6 L328.4,440.1 L331.99,439.68 L335.62,439.32 L339.24,438.98 L342.78,438.65 L346.2,438.3 L349.08,437.97 L351.87,437.65 L354.61,437.32 L357.3,436.97 L360,436.6 L362.59,436.21 L365.16,435.8 L367.71,435.37 L370.25,434.93 L372.8,434.5 L375.36,434.09 L377.93,433.69 L380.49,433.28 L383.05,432.83 L385.6,432.3 L388.19,431.69 L390.8,431.01 L393.39,430.28 L395.93,429.51 L398.4,428.7 L400.6,427.93 L402.74,427.13 L404.84,426.29 L406.92,425.39 L409,424.4 L411.19,423.27 L413.39,422.05 L415.57,420.76 L417.68,419.4 L419.7,418 L421.53,416.61 L423.3,415.16 L425,413.67 L426.64,412.14 L428.2,410.6 L429.61,409.14 L430.97,407.65 L432.27,406.15 L433.48,404.63 L434.6,403.1 L435.49,401.71 L436.29,400.32 L437.03,398.91 L437.75,397.5 L438.5,396.1 L438.5,396.1 L438.37,399.01 L438.24,401.94 L438.11,404.87 L437.96,407.76 L437.8,410.6 L437.63,413.18 L437.46,415.69 L437.28,418.19 L437.06,420.74 L436.8,423.4 L436.46,426.69 L436.07,430.15 L435.64,433.67 L435.16,437.13 L434.6,440.4 L434.03,443.16 L433.39,445.88 L432.72,448.5 L432.04,450.96 L431.4,453.2 L430.97,454.63 L430.55,455.92 L430.13,457.15 L429.72,458.36 L429.3,459.6 L429.3,459.6 L429.03,461.33 L428.8,463.06 L428.55,464.79 L428.24,466.5 L427.8,468.2 L427.22,469.93 L426.55,471.65 L425.78,473.36 L424.93,475.04 L424,476.7 L422.91,478.47 L421.72,480.25 L420.43,481.98 L419.06,483.65 L417.6,485.2 L416.04,486.64 L414.39,487.98 L412.65,489.24 L410.85,490.44 L409,491.6 L407.01,492.79 L404.95,493.95 L402.83,495.04 L400.64,496.03 L398.4,496.9 L395.95,497.66 L393.41,498.29 L390.81,498.81 L388.19,499.27 L385.6,499.7 L383.01,500.12 L380.37,500.5 L377.76,500.82 L375.21,501.06 L372.8,501.2 L370.99,501.2 L369.31,501.1 L367.66,500.96 L365.93,500.84 L364,500.8 L360.84,500.89 L357.33,501.08 L353.62,501.34 L349.86,501.63 L346.2,501.9 L346.2,501.9 L342.64,502.52 L339.07,503.12 L335.51,503.74 L331.95,504.39 L328.4,505.1 L324.83,505.89 L321.27,506.73 L317.7,507.61 L314.15,508.54 L310.6,509.5 L306.94,510.56 L303.2,511.71 L299.51,512.88 L296,513.97 L292.8,514.9 L290.75,515.44 L288.87,515.91 L287.08,516.34 L285.31,516.76 L283.5,517.2 Z" fill="url(#hdif)"/>
<path d="M283.5,510.4 L283.54,508.91 L283.58,507.42 L283.62,505.94 L283.66,504.46 L283.7,503 L283.73,501.67 L283.76,500.41 L283.78,499.14 L283.83,497.76 L283.9,496.2 L284.07,493.13 L284.3,489.53 L284.58,485.69 L284.91,481.89 L285.3,478.4 L285.65,475.73 L286.03,473.15 L286.45,470.66 L286.93,468.25 L287.5,465.9 L288.06,463.8 L288.67,461.73 L289.33,459.74 L290.1,457.85 L291,456.1 L291.92,454.68 L292.93,453.36 L294.02,452.13 L295.18,450.99 L296.4,449.9 L297.68,448.87 L299.02,447.91 L300.43,447.03 L301.92,446.23 L303.5,445.5 L305.45,444.77 L307.54,444.13 L309.72,443.6 L311.92,443.16 L314.1,442.8 L316.21,442.55 L318.32,442.4 L320.45,442.33 L322.6,442.31 L324.8,442.3 L327.24,442.31 L329.74,442.36 L332.26,442.45 L334.79,442.6 L337.3,442.8 L339.8,443.08 L342.31,443.43 L344.81,443.82 L347.28,444.22 L349.7,444.6 L351.88,444.92 L354,445.25 L356.1,445.56 L358.22,445.88 L360.4,446.2 L362.82,446.54 L365.29,446.86 L367.78,447.2 L370.29,447.54 L372.8,447.9 L375.35,448.29 L377.91,448.68 L380.48,449.09 L383.04,449.53 L385.6,450 L388.16,450.52 L390.72,451.08 L393.28,451.66 L395.84,452.24 L398.4,452.8 L400.98,453.33 L403.58,453.85 L406.17,454.36 L408.72,454.87 L411.2,455.4 L413.42,455.9 L415.6,456.42 L417.74,456.93 L419.81,457.43 L421.8,457.9 L423.38,458.26 L424.89,458.61 L426.36,458.94 L427.82,459.27 L429.3,459.6 L429.3,459.6 L429.03,461.33 L428.8,463.06 L428.55,464.79 L428.24,466.5 L427.8,468.2 L427.22,469.93 L426.55,471.65 L425.78,473.36 L424.93,475.04 L424,476.7 L422.91,478.47 L421.72,480.25 L420.43,481.98 L419.06,483.65 L417.6,485.2 L416.04,486.64 L414.39,487.98 L412.65,489.24 L410.85,490.44 L409,491.6 L407.01,492.79 L404.95,493.95 L402.83,495.04 L400.64,496.03 L398.4,496.9 L395.95,497.66 L393.41,498.29 L390.81,498.81 L388.19,499.27 L385.6,499.7 L383.01,500.12 L380.37,500.5 L377.76,500.82 L375.21,501.06 L372.8,501.2 L370.99,501.2 L369.31,501.1 L367.66,500.96 L365.93,500.84 L364,500.8 L360.84,500.89 L357.33,501.08 L353.62,501.34 L349.86,501.63 L346.2,501.9 L342.64,502.15 L339.08,502.42 L335.52,502.7 L331.96,502.99 L328.4,503.3 L324.84,503.62 L321.27,503.93 L317.71,504.28 L314.15,504.66 L310.6,505.1 L306.94,505.62 L303.19,506.21 L299.5,506.83 L295.99,507.47 L292.8,508.1 L290.74,508.55 L288.86,509.01 L287.07,509.48 L285.31,509.94 L283.5,510.4 Z" fill="url(#gsur)"/>
<path d="M283.5,510.4 L283.54,508.91 L283.58,507.42 L283.62,505.94 L283.66,504.46 L283.7,503 L283.73,501.67 L283.76,500.41 L283.78,499.14 L283.83,497.76 L283.9,496.2 L284.07,493.13 L284.3,489.53 L284.58,485.69 L284.91,481.89 L285.3,478.4 L285.65,475.73 L286.03,473.15 L286.45,470.66 L286.93,468.25 L287.5,465.9 L288.06,463.8 L288.67,461.73 L289.33,459.74 L290.1,457.85 L291,456.1 L291.92,454.68 L292.93,453.36 L294.02,452.13 L295.18,450.99 L296.4,449.9 L297.68,448.87 L299.02,447.91 L300.43,447.03 L301.92,446.23 L303.5,445.5 L305.45,444.77 L307.54,444.13 L309.72,443.6 L311.92,443.16 L314.1,442.8 L316.21,442.55 L318.32,442.4 L320.45,442.33 L322.6,442.31 L324.8,442.3 L327.24,442.31 L329.74,442.36 L332.26,442.45 L334.79,442.6 L337.3,442.8 L339.8,443.08 L342.31,443.43 L344.81,443.82 L347.28,444.22 L349.7,444.6 L351.88,444.92 L354,445.25 L356.1,445.56 L358.22,445.88 L360.4,446.2 L362.82,446.54 L365.29,446.86 L367.78,447.2 L370.29,447.54 L372.8,447.9 L375.35,448.29 L377.91,448.68 L380.48,449.09 L383.04,449.53 L385.6,450 L388.16,450.52 L390.72,451.08 L393.28,451.66 L395.84,452.24 L398.4,452.8 L400.98,453.33 L403.58,453.85 L406.17,454.36 L408.72,454.87 L411.2,455.4 L413.42,455.9 L415.6,456.42 L417.74,456.93 L419.81,457.43 L421.8,457.9 L423.38,458.26 L424.89,458.61 L426.36,458.94 L427.82,459.27 L429.3,459.6 L429.3,459.6 L429.03,461.33 L428.8,463.06 L428.55,464.79 L428.24,466.5 L427.8,468.2 L427.22,469.93 L426.55,471.65 L425.78,473.36 L424.93,475.04 L424,476.7 L422.91,478.47 L421.72,480.25 L420.43,481.98 L419.06,483.65 L417.6,485.2 L416.04,486.64 L414.39,487.98 L412.65,489.24 L410.85,490.44 L409,491.6 L407.01,492.79 L404.95,493.95 L402.83,495.04 L400.64,496.03 L398.4,496.9 L395.95,497.66 L393.41,498.29 L390.81,498.81 L388.19,499.27 L385.6,499.7 L383.01,500.12 L380.37,500.5 L377.76,500.82 L375.21,501.06 L372.8,501.2 L370.99,501.2 L369.31,501.1 L367.66,500.96 L365.93,500.84 L364,500.8 L360.84,500.89 L357.33,501.08 L353.62,501.34 L349.86,501.63 L346.2,501.9 L342.64,502.15 L339.08,502.42 L335.52,502.7 L331.96,502.99 L328.4,503.3 L324.84,503.62 L321.27,503.93 L317.71,504.28 L314.15,504.66 L310.6,505.1 L306.94,505.62 L303.19,506.21 L299.5,506.83 L295.99,507.47 L292.8,508.1 L290.74,508.55 L288.86,509.01 L287.07,509.48 L285.31,509.94 L283.5,510.4 Z" fill="url(#hsur)"/>
<path d="M283.5,517.2 L283.5,515.84 L283.49,514.49 L283.49,513.14 L283.49,511.78 L283.5,510.4 L283.53,508.93 L283.56,507.45 L283.61,505.95 L283.66,504.46 L283.7,503 L283.73,501.67 L283.76,500.41 L283.78,499.14 L283.83,497.76 L283.9,496.2 L284.07,493.13 L284.3,489.53 L284.58,485.69 L284.91,481.89 L285.3,478.4 L285.65,475.73 L286.04,473.17 L286.46,470.69 L286.94,468.28 L287.5,465.9 L288.07,463.7 L288.67,461.51 L289.33,459.38 L290.1,457.36 L291,455.5 L291.91,453.99 L292.92,452.58 L294.01,451.26 L295.17,450.04 L296.4,448.9 L297.7,447.86 L299.09,446.9 L300.54,446.03 L302.02,445.26 L303.5,444.6 L304.84,444.12 L306.15,443.76 L307.5,443.48 L308.96,443.21 L310.6,442.9 L313.64,442.33 L317.13,441.74 L320.89,441.16 L324.71,440.6 L328.4,440.1 L331.99,439.68 L335.62,439.32 L339.24,438.98 L342.78,438.65 L346.2,438.3 L349.08,437.97 L351.87,437.65 L354.61,437.32 L357.3,436.97 L360,436.6 L362.59,436.21 L365.16,435.8 L367.71,435.37 L370.25,434.93 L372.8,434.5 L375.36,434.09 L377.93,433.69 L380.49,433.28 L383.05,432.83 L385.6,432.3 L388.19,431.69 L390.8,431.01 L393.39,430.28 L395.93,429.51 L398.4,428.7 L400.6,427.93 L402.74,427.13 L404.84,426.29 L406.92,425.39 L409,424.4 L411.19,423.27 L413.39,422.05 L415.57,420.76 L417.68,419.4 L419.7,418 L421.53,416.61 L423.3,415.16 L425,413.67 L426.64,412.14 L428.2,410.6 L429.61,409.14 L430.97,407.65 L432.27,406.15 L433.48,404.63 L434.6,403.1 L435.49,401.71 L436.29,400.32 L437.03,398.91 L437.75,397.5 L438.5,396.1 L438.5,396.1 L438.37,399.01 L438.24,401.94 L438.11,404.87 L437.96,407.76 L437.8,410.6 L437.63,413.18 L437.46,415.69 L437.28,418.19 L437.06,420.74 L436.8,423.4 L436.46,426.69 L436.07,430.15 L435.64,433.67 L435.16,437.13 L434.6,440.4 L434.03,443.16 L433.39,445.88 L432.72,448.5 L432.04,450.96 L431.4,453.2 L430.97,454.63 L430.55,455.92 L430.13,457.15 L429.72,458.36 L429.3,459.6" fill="none" stroke="#1a1aff" stroke-width="1.4" stroke-linejoin="round"/>
<path d="M346.2,501.9 L342.64,502.52 L339.07,503.12 L335.51,503.74 L331.95,504.39 L328.4,505.1 L324.83,505.89 L321.27,506.73 L317.7,507.61 L314.15,508.54 L310.6,509.5 L306.94,510.56 L303.2,511.71 L299.51,512.88 L296,513.97 L292.8,514.9 L290.75,515.44 L288.87,515.91 L287.08,516.34 L285.31,516.76 L283.5,517.2" fill="none" stroke="#1a1aff" stroke-width="1.4" stroke-linejoin="round"/>
<path d="M283.5,510.4 L283.54,508.91 L283.58,507.42 L283.62,505.94 L283.66,504.46 L283.7,503 L283.73,501.67 L283.76,500.41 L283.78,499.14 L283.83,497.76 L283.9,496.2 L284.07,493.13 L284.3,489.53 L284.58,485.69 L284.91,481.89 L285.3,478.4 L285.65,475.73 L286.03,473.15 L286.45,470.66 L286.93,468.25 L287.5,465.9 L288.06,463.8 L288.67,461.73 L289.33,459.74 L290.1,457.85 L291,456.1 L291.92,454.68 L292.93,453.36 L294.02,452.13 L295.18,450.99 L296.4,449.9 L297.68,448.87 L299.02,447.91 L300.43,447.03 L301.92,446.23 L303.5,445.5 L305.45,444.77 L307.54,444.13 L309.72,443.6 L311.92,443.16 L314.1,442.8 L316.21,442.55 L318.32,442.4 L320.45,442.33 L322.6,442.31 L324.8,442.3 L327.24,442.31 L329.74,442.36 L332.26,442.45 L334.79,442.6 L337.3,442.8 L339.8,443.08 L342.31,443.43 L344.81,443.82 L347.28,444.22 L349.7,444.6 L351.88,444.92 L354,445.25 L356.1,445.56 L358.22,445.88 L360.4,446.2 L362.82,446.54 L365.29,446.86 L367.78,447.2 L370.29,447.54 L372.8,447.9 L375.35,448.29 L377.91,448.68 L380.48,449.09 L383.04,449.53 L385.6,450 L388.16,450.52 L390.72,451.08 L393.28,451.66 L395.84,452.24 L398.4,452.8 L400.98,453.33 L403.58,453.85 L406.17,454.36 L408.72,454.87 L411.2,455.4 L413.42,455.9 L415.6,456.42 L417.74,456.93 L419.81,457.43 L421.8,457.9 L423.38,458.26 L424.89,458.61 L426.36,458.94 L427.82,459.27 L429.3,459.6 L429.3,459.6 L429.03,461.33 L428.8,463.06 L428.55,464.79 L428.24,466.5 L427.8,468.2 L427.22,469.93 L426.55,471.65 L425.78,473.36 L424.93,475.04 L424,476.7 L422.91,478.47 L421.72,480.25 L420.43,481.98 L419.06,483.65 L417.6,485.2 L416.04,486.64 L414.39,487.98 L412.65,489.24 L410.85,490.44 L409,491.6 L407.01,492.79 L404.95,493.95 L402.83,495.04 L400.64,496.03 L398.4,496.9 L395.95,497.66 L393.41,498.29 L390.81,498.81 L388.19,499.27 L385.6,499.7 L383.01,500.12 L380.37,500.5 L377.76,500.82 L375.21,501.06 L372.8,501.2 L370.99,501.2 L369.31,501.1 L367.66,500.96 L365.93,500.84 L364,500.8 L360.84,500.89 L357.33,501.08 L353.62,501.34 L349.86,501.63 L346.2,501.9 L342.64,502.15 L339.08,502.42 L335.52,502.7 L331.96,502.99 L328.4,503.3 L324.84,503.62 L321.27,503.93 L317.71,504.28 L314.15,504.66 L310.6,505.1 L306.94,505.62 L303.19,506.21 L299.5,506.83 L295.99,507.47 L292.8,508.1 L290.74,508.55 L288.86,509.01 L287.07,509.48 L285.31,509.94 L283.5,510.4 Z" fill="none" stroke="#ff2020" stroke-width="1.3" stroke-linejoin="round"/>
<path d="M404.9,442.4 C402.55,442.4 401.54,443.62 400.7,444.85 C399.86,446.32 399.27,447.3 398.35,447.3 C397,447.3 396.5,446.08 396.5,444.85 C396.5,443.62 397,442.4 398.35,442.4 C399.27,442.4 399.86,443.38 400.7,444.85 C401.54,446.08 402.55,447.3 404.9,447.3" fill="none" stroke="#f2f2f2" stroke-width="0.9"/>
<text style="stroke:#f2f2f2;stroke-width:0.05px" x="408.6" y="448" font-family="Liberation Serif" font-size="11.5" fill="#f2f2f2">&#957;</text>
<text style="stroke:#f2f2f2;stroke-width:0.05px" x="415.6" y="444" font-family="Liberation Serif" font-size="9.5" fill="#f2f2f2">1/2</text>
<path d="M362.4,468.2 C360.08,468.2 359.08,469.55 358.25,470.9 C357.42,472.52 356.84,473.6 355.93,473.6 C354.6,473.6 354.1,472.25 354.1,470.9 C354.1,469.55 354.6,468.2 355.93,468.2 C356.84,468.2 357.42,469.28 358.25,470.9 C359.08,472.25 360.08,473.6 362.4,473.6" fill="none" stroke="#f4f0fa" stroke-width="0.9"/>
<text style="stroke:#f4f0fa;stroke-width:0.05px" x="365.4" y="474" font-family="Liberation Serif" font-size="12" fill="#f4f0fa">&#957;</text>
<rect x="267.5" y="382" width="186.3" height="149.3" fill="none" stroke="#555555" stroke-width="1.05"/>
<line x1="286.1" y1="382" x2="286.1" y2="383.5" stroke="#555555" stroke-width="0.9" />
<line x1="304.7" y1="382" x2="304.7" y2="384.8" stroke="#555555" stroke-width="0.9" />
<line x1="323.3" y1="382" x2="323.3" y2="383.5" stroke="#555555" stroke-width="0.9" />
<line x1="341.9" y1="382" x2="341.9" y2="384.8" stroke="#555555" stroke-width="0.9" />
<line x1="360.5" y1="382" x2="360.5" y2="383.5" stroke="#555555" stroke-width="0.9" />
<line x1="379.1" y1="382" x2="379.1" y2="384.8" stroke="#555555" stroke-width="0.9" />
<line x1="397.7" y1="382" x2="397.7" y2="383.5" stroke="#555555" stroke-width="0.9" />
<line x1="416.3" y1="382" x2="416.3" y2="384.8" stroke="#555555" stroke-width="0.9" />
<line x1="434.9" y1="382" x2="434.9" y2="383.5" stroke="#555555" stroke-width="0.9" />
<line x1="451.6" y1="397.1" x2="453.8" y2="397.1" stroke="#555555" stroke-width="0.9" />
<line x1="451.6" y1="412.2" x2="453.8" y2="412.2" stroke="#555555" stroke-width="0.9" />
<line x1="451.6" y1="427.3" x2="453.8" y2="427.3" stroke="#555555" stroke-width="0.9" />
<line x1="451.6" y1="442.4" x2="453.8" y2="442.4" stroke="#555555" stroke-width="0.9" />
<line x1="451.6" y1="457.5" x2="453.8" y2="457.5" stroke="#555555" stroke-width="0.9" />
<line x1="451.6" y1="472.6" x2="453.8" y2="472.6" stroke="#555555" stroke-width="0.9" />
<line x1="451.6" y1="487.7" x2="453.8" y2="487.7" stroke="#555555" stroke-width="0.9" />
<line x1="451.6" y1="502.8" x2="453.8" y2="502.8" stroke="#555555" stroke-width="0.9" />
<line x1="451.6" y1="517.9" x2="453.8" y2="517.9" stroke="#555555" stroke-width="0.9" />
<line x1="264.3" y1="522" x2="267.5" y2="522" stroke="#555555" stroke-width="0.9" />
<line x1="264.3" y1="504.5" x2="267.5" y2="504.5" stroke="#555555" stroke-width="0.9" />
<line x1="264.3" y1="487" x2="267.5" y2="487" stroke="#555555" stroke-width="0.9" />
<line x1="264.3" y1="469.5" x2="267.5" y2="469.5" stroke="#555555" stroke-width="0.9" />
<line x1="264.3" y1="452" x2="267.5" y2="452" stroke="#555555" stroke-width="0.9" />
<line x1="264.3" y1="434.5" x2="267.5" y2="434.5" stroke="#555555" stroke-width="0.9" />
<line x1="264.3" y1="417" x2="267.5" y2="417" stroke="#555555" stroke-width="0.9" />
<line x1="264.3" y1="399.5" x2="267.5" y2="399.5" stroke="#555555" stroke-width="0.9" />
<line x1="264.3" y1="382" x2="267.5" y2="382" stroke="#555555" stroke-width="0.9" />
<line x1="265.7" y1="530.75" x2="267.5" y2="530.75" stroke="#555555" stroke-width="0.9" />
<line x1="265.7" y1="513.25" x2="267.5" y2="513.25" stroke="#555555" stroke-width="0.9" />
<line x1="265.7" y1="495.75" x2="267.5" y2="495.75" stroke="#555555" stroke-width="0.9" />
<line x1="265.7" y1="478.25" x2="267.5" y2="478.25" stroke="#555555" stroke-width="0.9" />
<line x1="265.7" y1="460.75" x2="267.5" y2="460.75" stroke="#555555" stroke-width="0.9" />
<line x1="265.7" y1="443.25" x2="267.5" y2="443.25" stroke="#555555" stroke-width="0.9" />
<line x1="265.7" y1="425.75" x2="267.5" y2="425.75" stroke="#555555" stroke-width="0.9" />
<line x1="265.7" y1="408.25" x2="267.5" y2="408.25" stroke="#555555" stroke-width="0.9" />
<line x1="265.7" y1="390.75" x2="267.5" y2="390.75" stroke="#555555" stroke-width="0.9" />
<line x1="283" y1="531.3" x2="283" y2="534.5" stroke="#555555" stroke-width="0.9" />
<line x1="314.15" y1="531.3" x2="314.15" y2="534.5" stroke="#555555" stroke-width="0.9" />
<line x1="345.3" y1="531.3" x2="345.3" y2="534.5" stroke="#555555" stroke-width="0.9" />
<line x1="376.45" y1="531.3" x2="376.45" y2="534.5" stroke="#555555" stroke-width="0.9" />
<line x1="407.6" y1="531.3" x2="407.6" y2="534.5" stroke="#555555" stroke-width="0.9" />
<line x1="438.75" y1="531.3" x2="438.75" y2="534.5" stroke="#555555" stroke-width="0.9" />
<line x1="267.43" y1="531.3" x2="267.43" y2="533.1" stroke="#555555" stroke-width="0.9" />
<line x1="298.57" y1="531.3" x2="298.57" y2="533.1" stroke="#555555" stroke-width="0.9" />
<line x1="329.73" y1="531.3" x2="329.73" y2="533.1" stroke="#555555" stroke-width="0.9" />
<line x1="360.88" y1="531.3" x2="360.88" y2="533.1" stroke="#555555" stroke-width="0.9" />
<line x1="392.02" y1="531.3" x2="392.02" y2="533.1" stroke="#555555" stroke-width="0.9" />
<line x1="423.18" y1="531.3" x2="423.18" y2="533.1" stroke="#555555" stroke-width="0.9" />
<line x1="454.33" y1="531.3" x2="454.33" y2="533.1" stroke="#555555" stroke-width="0.9" />
<text style="stroke:#1a1a1a;stroke-width:0.18px" transform="translate(262.9 524.1) scale(0.85 1)" font-size="7.3" text-anchor="end" fill="#1a1a1a" >-6</text>
<text style="stroke:#1a1a1a;stroke-width:0.18px" transform="translate(262.9 506.6) scale(0.85 1)" font-size="7.3" text-anchor="end" fill="#1a1a1a" >-4</text>
<text style="stroke:#1a1a1a;stroke-width:0.18px" transform="translate(262.9 489.1) scale(0.85 1)" font-size="7.3" text-anchor="end" fill="#1a1a1a" >-2</text>
<text style="stroke:#1a1a1a;stroke-width:0.18px" transform="translate(262.9 471.6) scale(0.85 1)" font-size="7.3" text-anchor="end" fill="#1a1a1a" >0</text>
<text style="stroke:#1a1a1a;stroke-width:0.18px" transform="translate(262.9 454.1) scale(0.85 1)" font-size="7.3" text-anchor="end" fill="#1a1a1a" >2</text>
<text style="stroke:#1a1a1a;stroke-width:0.18px" transform="translate(262.9 436.6) scale(0.85 1)" font-size="7.3" text-anchor="end" fill="#1a1a1a" >4</text>
<text style="stroke:#1a1a1a;stroke-width:0.18px" transform="translate(262.9 419.1) scale(0.85 1)" font-size="7.3" text-anchor="end" fill="#1a1a1a" >6</text>
<text style="stroke:#1a1a1a;stroke-width:0.18px" transform="translate(262.9 401.6) scale(0.85 1)" font-size="7.3" text-anchor="end" fill="#1a1a1a" >8</text>
<text style="stroke:#1a1a1a;stroke-width:0.18px" transform="translate(262.9 384.1) scale(0.85 1)" font-size="7.3" text-anchor="end" fill="#1a1a1a" >10</text>
<text style="stroke:#1a1a1a;stroke-width:0.18px" transform="translate(283 542.2) scale(0.85 1)" font-size="7.3" text-anchor="middle" fill="#1a1a1a" >0.0</text>
<text style="stroke:#1a1a1a;stroke-width:0.18px" transform="translate(314.15 542.2) scale(0.85 1)" font-size="7.3" text-anchor="middle" fill="#1a1a1a" >0.2</text>
<text style="stroke:#1a1a1a;stroke-width:0.18px" transform="translate(345.3 542.2) scale(0.85 1)" font-size="7.3" text-anchor="middle" fill="#1a1a1a" >0.4</text>
<text style="stroke:#1a1a1a;stroke-width:0.18px" transform="translate(376.45 542.2) scale(0.85 1)" font-size="7.3" text-anchor="middle" fill="#1a1a1a" >0.6</text>
<text style="stroke:#1a1a1a;stroke-width:0.18px" transform="translate(407.6 542.2) scale(0.85 1)" font-size="7.3" text-anchor="middle" fill="#1a1a1a" >0.8</text>
<text style="stroke:#1a1a1a;stroke-width:0.18px" transform="translate(438.75 542.2) scale(0.85 1)" font-size="7.3" text-anchor="middle" fill="#1a1a1a" >1.0</text>
<text style="stroke:#1a1a1a;stroke-width:0.18px" x="357" y="552.2" font-size="8.0" text-anchor="middle" fill="#1a1a1a" >E (V)</text>
<text style="stroke:#1a1a1a;stroke-width:0.18px" x="253" y="456" font-size="8.0" text-anchor="middle" fill="#1a1a1a" transform="rotate(-90 253 456)">I (mA cm<tspan dy="-3" font-size="5.4">-2</tspan><tspan dy="3">)</tspan></text>
<text style="stroke:#1a1a1a;stroke-width:0px" x="235.3" y="394" font-size="15.8" text-anchor="start" fill="#1a1a1a" >h)</text>
<text style="stroke:#1a1a1a;stroke-width:0.18px" x="275.1" y="395.9" font-size="7.6" fill="#1a1a1a">20 mV s<tspan dy="-3" font-size="5.2">-1</tspan></text>
<rect x="275.4" y="398.2" width="17.1" height="8.6" fill="url(#gdifL)"/><rect x="275.4" y="398.2" width="17.1" height="8.6" fill="url(#hdif)"/><rect x="275.4" y="398.2" width="17.1" height="8.6" fill="none" stroke="#777" stroke-width="0.6"/>
<rect x="275.4" y="407.6" width="17.1" height="8.8" fill="url(#gsurL)"/><rect x="275.4" y="407.6" width="17.1" height="8.8" fill="url(#hsur)"/><rect x="275.4" y="407.6" width="17.1" height="8.8" fill="none" stroke="#777" stroke-width="0.6"/>
<text style="stroke:#1a1a1a;stroke-width:0.18px" x="295.1" y="405.7" font-size="7.65" fill="#1a1a1a">Diffusion controlled</text>
<text style="stroke:#1a1a1a;stroke-width:0.18px" x="295.1" y="415.1" font-size="7.65" fill="#1a1a1a">Surface controlled</text>
<defs>
<linearGradient id="gcy" x1="0" y1="0" x2="0" y2="1">
<stop offset="0" stop-color="#88e2e2"/><stop offset="0.4" stop-color="#5ab6b6"/><stop offset="0.75" stop-color="#1e4a4a"/><stop offset="1" stop-color="#050c0c"/></linearGradient>
<linearGradient id="gpk" x1="0" y1="0" x2="0" y2="1">
<stop offset="0" stop-color="#ffb0b0"/><stop offset="0.35" stop-color="#eaa2a2"/><stop offset="0.75" stop-color="#6a3c3c"/><stop offset="1" stop-color="#160909"/></linearGradient>
<pattern id="hbar" width="2.4" height="2.4" patternUnits="userSpaceOnUse" patternTransform="rotate(45)">
<rect x="0" y="0" width="0.8" height="2.4" fill="#ffffff" fill-opacity="0.35"/></pattern>
</defs>
<rect x="513.2" y="423.1" width="15.2" height="84.21" fill="url(#gcy)"/>
<rect x="513.2" y="507.31" width="15.2" height="22.39" fill="url(#gpk)"/>
<rect x="513.2" y="423.1" width="15.2" height="106.6" fill="url(#hbar)"/>
<rect x="513.2" y="423.1" width="15.2" height="84.21" fill="none" stroke="#444" stroke-width="0.6"/>
<rect x="513.2" y="507.31" width="15.2" height="22.39" fill="none" stroke="#444" stroke-width="0.6"/>
<rect x="550.2" y="423.1" width="15.2" height="73.55" fill="url(#gcy)"/>
<rect x="550.2" y="496.65" width="15.2" height="33.05" fill="url(#gpk)"/>
<rect x="550.2" y="423.1" width="15.2" height="106.6" fill="url(#hbar)"/>
<rect x="550.2" y="423.1" width="15.2" height="73.55" fill="none" stroke="#444" stroke-width="0.6"/>
<rect x="550.2" y="496.65" width="15.2" height="33.05" fill="none" stroke="#444" stroke-width="0.6"/>
<rect x="587.3" y="423.1" width="15.2" height="56.5" fill="url(#gcy)"/>
<rect x="587.3" y="479.6" width="15.2" height="50.1" fill="url(#gpk)"/>
<rect x="587.3" y="423.1" width="15.2" height="106.6" fill="url(#hbar)"/>
<rect x="587.3" y="423.1" width="15.2" height="56.5" fill="none" stroke="#444" stroke-width="0.6"/>
<rect x="587.3" y="479.6" width="15.2" height="50.1" fill="none" stroke="#444" stroke-width="0.6"/>
<rect x="624.4" y="423.1" width="15.2" height="44.77" fill="url(#gcy)"/>
<rect x="624.4" y="467.87" width="15.2" height="61.83" fill="url(#gpk)"/>
<rect x="624.4" y="423.1" width="15.2" height="106.6" fill="url(#hbar)"/>
<rect x="624.4" y="423.1" width="15.2" height="44.77" fill="none" stroke="#444" stroke-width="0.6"/>
<rect x="624.4" y="467.87" width="15.2" height="61.83" fill="none" stroke="#444" stroke-width="0.6"/>
<rect x="661.6" y="423.1" width="15.2" height="33.58" fill="url(#gcy)"/>
<rect x="661.6" y="456.68" width="15.2" height="73.02" fill="url(#gpk)"/>
<rect x="661.6" y="423.1" width="15.2" height="106.6" fill="url(#hbar)"/>
<rect x="661.6" y="423.1" width="15.2" height="33.58" fill="none" stroke="#444" stroke-width="0.6"/>
<rect x="661.6" y="456.68" width="15.2" height="73.02" fill="none" stroke="#444" stroke-width="0.6"/>
<rect x="502.2" y="380.5" width="186.6" height="149.5" fill="none" stroke="#555555" stroke-width="1.05"/>
<line x1="520.8" y1="380.5" x2="520.8" y2="382" stroke="#555555" stroke-width="0.9" />
<line x1="539.4" y1="380.5" x2="539.4" y2="383.3" stroke="#555555" stroke-width="0.9" />
<line x1="558" y1="380.5" x2="558" y2="382" stroke="#555555" stroke-width="0.9" />
<line x1="576.6" y1="380.5" x2="576.6" y2="383.3" stroke="#555555" stroke-width="0.9" />
<line x1="595.2" y1="380.5" x2="595.2" y2="382" stroke="#555555" stroke-width="0.9" />
<line x1="613.8" y1="380.5" x2="613.8" y2="383.3" stroke="#555555" stroke-width="0.9" />
<line x1="632.4" y1="380.5" x2="632.4" y2="382" stroke="#555555" stroke-width="0.9" />
<line x1="651" y1="380.5" x2="651" y2="383.3" stroke="#555555" stroke-width="0.9" />
<line x1="669.6" y1="380.5" x2="669.6" y2="382" stroke="#555555" stroke-width="0.9" />
<line x1="686.6" y1="395.6" x2="688.8" y2="395.6" stroke="#555555" stroke-width="0.9" />
<line x1="686.6" y1="410.7" x2="688.8" y2="410.7" stroke="#555555" stroke-width="0.9" />
<line x1="686.6" y1="425.8" x2="688.8" y2="425.8" stroke="#555555" stroke-width="0.9" />
<line x1="686.6" y1="440.9" x2="688.8" y2="440.9" stroke="#555555" stroke-width="0.9" />
<line x1="686.6" y1="456" x2="688.8" y2="456" stroke="#555555" stroke-width="0.9" />
<line x1="686.6" y1="471.1" x2="688.8" y2="471.1" stroke="#555555" stroke-width="0.9" />
<line x1="686.6" y1="486.2" x2="688.8" y2="486.2" stroke="#555555" stroke-width="0.9" />
<line x1="686.6" y1="501.3" x2="688.8" y2="501.3" stroke="#555555" stroke-width="0.9" />
<line x1="686.6" y1="516.4" x2="688.8" y2="516.4" stroke="#555555" stroke-width="0.9" />
<line x1="499" y1="529.7" x2="502.2" y2="529.7" stroke="#555555" stroke-width="0.9" />
<line x1="499" y1="508.38" x2="502.2" y2="508.38" stroke="#555555" stroke-width="0.9" />
<line x1="499" y1="487.06" x2="502.2" y2="487.06" stroke="#555555" stroke-width="0.9" />
<line x1="499" y1="465.74" x2="502.2" y2="465.74" stroke="#555555" stroke-width="0.9" />
<line x1="499" y1="444.42" x2="502.2" y2="444.42" stroke="#555555" stroke-width="0.9" />
<line x1="499" y1="423.1" x2="502.2" y2="423.1" stroke="#555555" stroke-width="0.9" />
<line x1="499" y1="401.78" x2="502.2" y2="401.78" stroke="#555555" stroke-width="0.9" />
<line x1="499" y1="380.46" x2="502.2" y2="380.46" stroke="#555555" stroke-width="0.9" />
<line x1="500.4" y1="519.04" x2="502.2" y2="519.04" stroke="#555555" stroke-width="0.9" />
<line x1="500.4" y1="497.72" x2="502.2" y2="497.72" stroke="#555555" stroke-width="0.9" />
<line x1="500.4" y1="476.4" x2="502.2" y2="476.4" stroke="#555555" stroke-width="0.9" />
<line x1="500.4" y1="455.08" x2="502.2" y2="455.08" stroke="#555555" stroke-width="0.9" />
<line x1="500.4" y1="433.76" x2="502.2" y2="433.76" stroke="#555555" stroke-width="0.9" />
<line x1="500.4" y1="412.44" x2="502.2" y2="412.44" stroke="#555555" stroke-width="0.9" />
<line x1="500.4" y1="391.12" x2="502.2" y2="391.12" stroke="#555555" stroke-width="0.9" />
<line x1="520.8" y1="530" x2="520.8" y2="533.2" stroke="#555555" stroke-width="0.9" />
<line x1="557.8" y1="530" x2="557.8" y2="533.2" stroke="#555555" stroke-width="0.9" />
<line x1="594.9" y1="530" x2="594.9" y2="533.2" stroke="#555555" stroke-width="0.9" />
<line x1="632" y1="530" x2="632" y2="533.2" stroke="#555555" stroke-width="0.9" />
<line x1="669.2" y1="530" x2="669.2" y2="533.2" stroke="#555555" stroke-width="0.9" />
<line x1="539.3" y1="530" x2="539.3" y2="531.8" stroke="#555555" stroke-width="0.9" />
<line x1="576.35" y1="530" x2="576.35" y2="531.8" stroke="#555555" stroke-width="0.9" />
<line x1="613.45" y1="530" x2="613.45" y2="531.8" stroke="#555555" stroke-width="0.9" />
<line x1="650.6" y1="530" x2="650.6" y2="531.8" stroke="#555555" stroke-width="0.9" />
<line x1="502.3" y1="530" x2="502.3" y2="531.8" stroke="#555555" stroke-width="0.9" />
<line x1="687.7" y1="530" x2="687.7" y2="531.8" stroke="#555555" stroke-width="0.9" />
<text style="stroke:#1a1a1a;stroke-width:0.18px" transform="translate(497.6 531.8) scale(0.85 1)" font-size="7.3" text-anchor="end" fill="#1a1a1a" >0.0</text>
<text style="stroke:#1a1a1a;stroke-width:0.18px" transform="translate(497.6 510.48) scale(0.85 1)" font-size="7.3" text-anchor="end" fill="#1a1a1a" >0.2</text>
<text style="stroke:#1a1a1a;stroke-width:0.18px" transform="translate(497.6 489.16) scale(0.85 1)" font-size="7.3" text-anchor="end" fill="#1a1a1a" >0.4</text>
<text style="stroke:#1a1a1a;stroke-width:0.18px" transform="translate(497.6 467.84) scale(0.85 1)" font-size="7.3" text-anchor="end" fill="#1a1a1a" >0.6</text>
<text style="stroke:#1a1a1a;stroke-width:0.18px" transform="translate(497.6 446.52) scale(0.85 1)" font-size="7.3" text-anchor="end" fill="#1a1a1a" >0.8</text>
<text style="stroke:#1a1a1a;stroke-width:0.18px" transform="translate(497.6 425.2) scale(0.85 1)" font-size="7.3" text-anchor="end" fill="#1a1a1a" >1.0</text>
<text style="stroke:#1a1a1a;stroke-width:0.18px" transform="translate(497.6 403.88) scale(0.85 1)" font-size="7.3" text-anchor="end" fill="#1a1a1a" >1.2</text>
<text style="stroke:#1a1a1a;stroke-width:0.18px" transform="translate(497.6 382.56) scale(0.85 1)" font-size="7.3" text-anchor="end" fill="#1a1a1a" >1.4</text>
<text style="stroke:#1a1a1a;stroke-width:0.18px" transform="translate(520.8 541) scale(0.85 1)" font-size="7.3" text-anchor="middle" fill="#1a1a1a" >1</text>
<text style="stroke:#1a1a1a;stroke-width:0.18px" transform="translate(557.8 541) scale(0.85 1)" font-size="7.3" text-anchor="middle" fill="#1a1a1a" >2</text>
<text style="stroke:#1a1a1a;stroke-width:0.18px" transform="translate(594.9 541) scale(0.85 1)" font-size="7.3" text-anchor="middle" fill="#1a1a1a" >5</text>
<text style="stroke:#1a1a1a;stroke-width:0.18px" transform="translate(632 541) scale(0.85 1)" font-size="7.3" text-anchor="middle" fill="#1a1a1a" >10</text>
<text style="stroke:#1a1a1a;stroke-width:0.18px" transform="translate(669.2 541) scale(0.85 1)" font-size="7.3" text-anchor="middle" fill="#1a1a1a" >20</text>
<text style="stroke:#1a1a1a;stroke-width:0.18px" x="595" y="552.2" font-size="8.0" text-anchor="middle" fill="#1a1a1a"><tspan font-family="Liberation Serif">&#957;</tspan> (mV s<tspan dy="-3" font-size="5.4">-1</tspan><tspan dy="3">)</tspan></text>
<text style="stroke:#1a1a1a;stroke-width:0.18px" x="485" y="455" font-size="8.0" text-anchor="middle" fill="#1a1a1a" transform="rotate(-90 485 455)">Contribution ratio (%)</text>
<text style="stroke:#1a1a1a;stroke-width:0px" x="466.3" y="394.4" font-size="15.8" text-anchor="start" fill="#1a1a1a" >i)</text>
<rect x="595.6" y="386.3" width="16.9" height="8" fill="url(#gcy)"/><rect x="595.6" y="386.3" width="16.9" height="8" fill="url(#hbar)"/><rect x="595.6" y="386.3" width="16.9" height="8" fill="none" stroke="#444" stroke-width="0.6"/>
<rect x="595.6" y="396.3" width="16.9" height="8.2" fill="url(#gpk)"/><rect x="595.6" y="396.3" width="16.9" height="8.2" fill="url(#hbar)"/><rect x="595.6" y="396.3" width="16.9" height="8.2" fill="none" stroke="#444" stroke-width="0.6"/>
<text style="stroke:#1a1a1a;stroke-width:0.18px" x="615" y="393.3" font-size="8.1" fill="#1a1a1a">Diffusion controlled</text>
<text style="stroke:#1a1a1a;stroke-width:0.18px" x="615" y="403.3" font-size="8.1" fill="#1a1a1a">Surface controlled</text>
</svg></body></html>
